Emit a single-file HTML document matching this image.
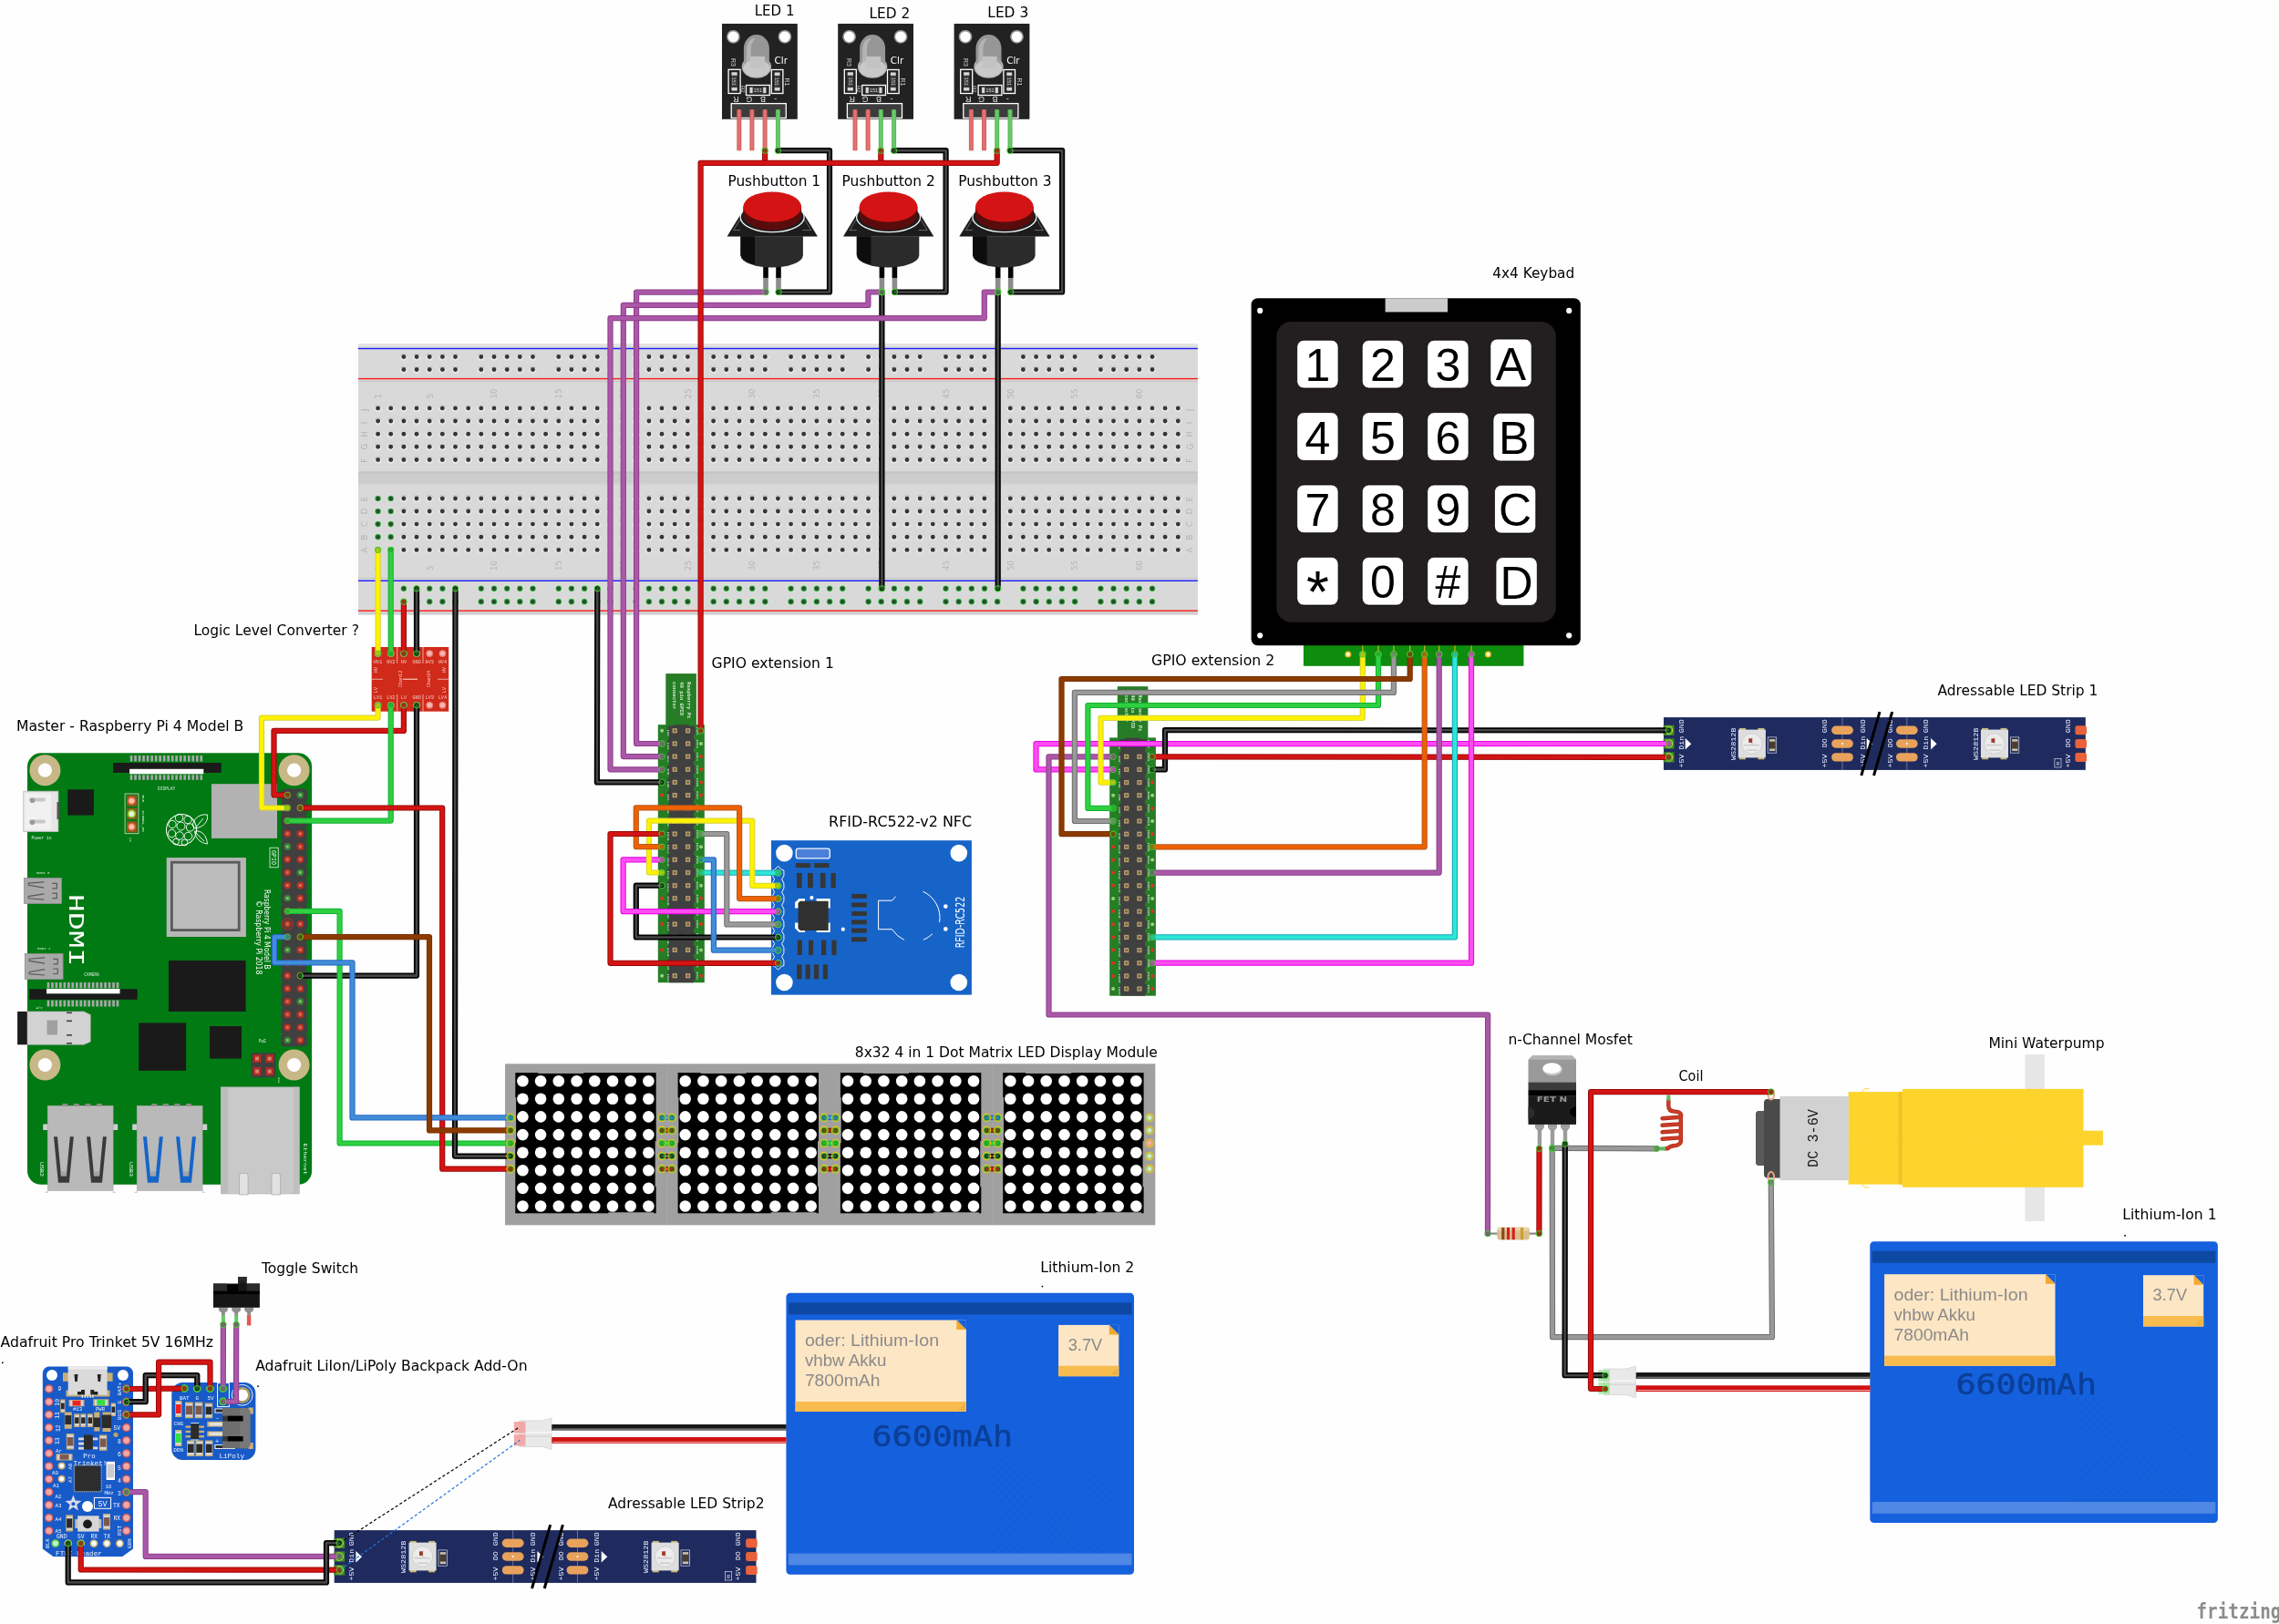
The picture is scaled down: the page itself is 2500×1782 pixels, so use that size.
<!DOCTYPE html>
<html><head><meta charset="utf-8"><title>Fritzing breadboard</title>
<style>
html,body{margin:0;padding:0;background:#fdfefd;}
svg{display:block}
text{font-family:"Liberation Sans","DejaVu Sans",sans-serif;}
.lb{font-family:"DejaVu Sans","Liberation Sans",sans-serif;}
.m{font-family:"Liberation Mono","DejaVu Sans Mono",monospace;}
.dm{font-family:"DejaVu Sans Mono","Liberation Mono",monospace;}
.w{fill:none;stroke-linejoin:round;stroke-linecap:round;}
</style></head><body>
<svg width="2500" height="1782" viewBox="0 0 2500 1782">
<defs>
<filter id="nf" x="0" y="0" width="2500" height="1782" filterUnits="userSpaceOnUse"><feOffset dx="0" dy="0"/></filter>
<g id="h"><circle r="4.3" fill="#e6e6e6"/><path d="M-4.1,-0.6A4.2,4.2 0 0 1 4.1,-0.6A4.6,5 0 0 0 -4.1,-0.6Z" fill="#bdbdbd"/><circle r="2.45" fill="#363636"/></g>
<g id="hg"><circle r="4.3" fill="#e6e6e6"/><circle r="3.6" fill="#8fdc8f"/><circle r="3.1" fill="#35a545"/><circle r="2.3" fill="#2c4a30"/></g>
<pattern id="dots" width="9.2" height="9.2" patternUnits="userSpaceOnUse"><rect x="0" y="0" width="0.9" height="0.9" fill="#0d48a2"/><rect x="4.6" y="4.6" width="0.9" height="0.9" fill="#0d48a2"/></pattern>
<clipPath id="bclip"><path d="M0,0 H20 L135,118 H0 Z M68,0 H82 L135,50 V75 Z"/></clipPath>
</defs>
<g filter="url(#nf)">
<rect width="2500" height="1782" fill="#fdfefd"/>
<rect x="393" y="377" width="920.9" height="297.5" fill="#d9d9d9"/>
<rect x="393" y="377" width="920.9" height="3" fill="#e3e3e3"/>
<rect x="393" y="671.5" width="920.9" height="3" fill="#cfcfcf"/>
<rect x="393" y="517.5" width="920.9" height="14.2" fill="#cccccc"/>
<rect x="393" y="517.5" width="920.9" height="2" fill="#c4c4c4"/>
<rect x="393" y="529.7" width="920.9" height="2" fill="#d2d2d2"/>
<rect x="393" y="381.8" width="920.9" height="1.4" fill="#1a1aff"/>
<rect x="393" y="414.9" width="920.9" height="1.4" fill="#ff1a1a"/>
<rect x="393" y="636.6" width="920.9" height="1.4" fill="#1a1aff"/>
<rect x="393" y="669.5" width="920.9" height="1.4" fill="#ff1a1a"/>
<rect x="393" y="418.2" width="920.9" height="0.9" fill="#c2c2c2"/>
<rect x="393" y="633.9" width="920.9" height="0.9" fill="#c2c2c2"/>
<g><use href="#h" x="414.6" y="447.9"/><use href="#h" x="428.7" y="447.9"/><use href="#h" x="442.9" y="447.9"/><use href="#h" x="457" y="447.9"/><use href="#h" x="471.2" y="447.9"/><use href="#h" x="485.3" y="447.9"/><use href="#h" x="499.5" y="447.9"/><use href="#h" x="513.7" y="447.9"/><use href="#h" x="527.8" y="447.9"/><use href="#h" x="542" y="447.9"/><use href="#h" x="556.1" y="447.9"/><use href="#h" x="570.3" y="447.9"/><use href="#h" x="584.4" y="447.9"/><use href="#h" x="598.6" y="447.9"/><use href="#h" x="612.8" y="447.9"/><use href="#h" x="626.9" y="447.9"/><use href="#h" x="641.1" y="447.9"/><use href="#h" x="655.2" y="447.9"/><use href="#h" x="669.4" y="447.9"/><use href="#h" x="683.5" y="447.9"/><use href="#h" x="697.7" y="447.9"/><use href="#h" x="711.9" y="447.9"/><use href="#h" x="726" y="447.9"/><use href="#h" x="740.2" y="447.9"/><use href="#h" x="754.3" y="447.9"/><use href="#h" x="768.5" y="447.9"/><use href="#h" x="782.6" y="447.9"/><use href="#h" x="796.8" y="447.9"/><use href="#h" x="811" y="447.9"/><use href="#h" x="825.1" y="447.9"/><use href="#h" x="839.3" y="447.9"/><use href="#h" x="853.4" y="447.9"/><use href="#h" x="867.6" y="447.9"/><use href="#h" x="881.7" y="447.9"/><use href="#h" x="895.9" y="447.9"/><use href="#h" x="910.1" y="447.9"/><use href="#h" x="924.2" y="447.9"/><use href="#h" x="938.4" y="447.9"/><use href="#h" x="952.5" y="447.9"/><use href="#h" x="966.7" y="447.9"/><use href="#h" x="980.8" y="447.9"/><use href="#h" x="995" y="447.9"/><use href="#h" x="1009.2" y="447.9"/><use href="#h" x="1023.3" y="447.9"/><use href="#h" x="1037.5" y="447.9"/><use href="#h" x="1051.6" y="447.9"/><use href="#h" x="1065.8" y="447.9"/><use href="#h" x="1079.9" y="447.9"/><use href="#h" x="1094.1" y="447.9"/><use href="#h" x="1108.3" y="447.9"/><use href="#h" x="1122.4" y="447.9"/><use href="#h" x="1136.6" y="447.9"/><use href="#h" x="1150.7" y="447.9"/><use href="#h" x="1164.9" y="447.9"/><use href="#h" x="1179" y="447.9"/><use href="#h" x="1193.2" y="447.9"/><use href="#h" x="1207.4" y="447.9"/><use href="#h" x="1221.5" y="447.9"/><use href="#h" x="1235.7" y="447.9"/><use href="#h" x="1249.8" y="447.9"/><use href="#h" x="1264" y="447.9"/><use href="#h" x="1278.1" y="447.9"/><use href="#h" x="1292.3" y="447.9"/><use href="#h" x="414.6" y="462"/><use href="#h" x="428.7" y="462"/><use href="#h" x="442.9" y="462"/><use href="#h" x="457" y="462"/><use href="#h" x="471.2" y="462"/><use href="#h" x="485.3" y="462"/><use href="#h" x="499.5" y="462"/><use href="#h" x="513.7" y="462"/><use href="#h" x="527.8" y="462"/><use href="#h" x="542" y="462"/><use href="#h" x="556.1" y="462"/><use href="#h" x="570.3" y="462"/><use href="#h" x="584.4" y="462"/><use href="#h" x="598.6" y="462"/><use href="#h" x="612.8" y="462"/><use href="#h" x="626.9" y="462"/><use href="#h" x="641.1" y="462"/><use href="#h" x="655.2" y="462"/><use href="#h" x="669.4" y="462"/><use href="#h" x="683.5" y="462"/><use href="#h" x="697.7" y="462"/><use href="#h" x="711.9" y="462"/><use href="#h" x="726" y="462"/><use href="#h" x="740.2" y="462"/><use href="#h" x="754.3" y="462"/><use href="#h" x="768.5" y="462"/><use href="#h" x="782.6" y="462"/><use href="#h" x="796.8" y="462"/><use href="#h" x="811" y="462"/><use href="#h" x="825.1" y="462"/><use href="#h" x="839.3" y="462"/><use href="#h" x="853.4" y="462"/><use href="#h" x="867.6" y="462"/><use href="#h" x="881.7" y="462"/><use href="#h" x="895.9" y="462"/><use href="#h" x="910.1" y="462"/><use href="#h" x="924.2" y="462"/><use href="#h" x="938.4" y="462"/><use href="#h" x="952.5" y="462"/><use href="#h" x="966.7" y="462"/><use href="#h" x="980.8" y="462"/><use href="#h" x="995" y="462"/><use href="#h" x="1009.2" y="462"/><use href="#h" x="1023.3" y="462"/><use href="#h" x="1037.5" y="462"/><use href="#h" x="1051.6" y="462"/><use href="#h" x="1065.8" y="462"/><use href="#h" x="1079.9" y="462"/><use href="#h" x="1094.1" y="462"/><use href="#h" x="1108.3" y="462"/><use href="#h" x="1122.4" y="462"/><use href="#h" x="1136.6" y="462"/><use href="#h" x="1150.7" y="462"/><use href="#h" x="1164.9" y="462"/><use href="#h" x="1179" y="462"/><use href="#h" x="1193.2" y="462"/><use href="#h" x="1207.4" y="462"/><use href="#h" x="1221.5" y="462"/><use href="#h" x="1235.7" y="462"/><use href="#h" x="1249.8" y="462"/><use href="#h" x="1264" y="462"/><use href="#h" x="1278.1" y="462"/><use href="#h" x="1292.3" y="462"/><use href="#h" x="414.6" y="476.2"/><use href="#h" x="428.7" y="476.2"/><use href="#h" x="442.9" y="476.2"/><use href="#h" x="457" y="476.2"/><use href="#h" x="471.2" y="476.2"/><use href="#h" x="485.3" y="476.2"/><use href="#h" x="499.5" y="476.2"/><use href="#h" x="513.7" y="476.2"/><use href="#h" x="527.8" y="476.2"/><use href="#h" x="542" y="476.2"/><use href="#h" x="556.1" y="476.2"/><use href="#h" x="570.3" y="476.2"/><use href="#h" x="584.4" y="476.2"/><use href="#h" x="598.6" y="476.2"/><use href="#h" x="612.8" y="476.2"/><use href="#h" x="626.9" y="476.2"/><use href="#h" x="641.1" y="476.2"/><use href="#h" x="655.2" y="476.2"/><use href="#h" x="669.4" y="476.2"/><use href="#h" x="683.5" y="476.2"/><use href="#h" x="697.7" y="476.2"/><use href="#h" x="711.9" y="476.2"/><use href="#h" x="726" y="476.2"/><use href="#h" x="740.2" y="476.2"/><use href="#h" x="754.3" y="476.2"/><use href="#h" x="768.5" y="476.2"/><use href="#h" x="782.6" y="476.2"/><use href="#h" x="796.8" y="476.2"/><use href="#h" x="811" y="476.2"/><use href="#h" x="825.1" y="476.2"/><use href="#h" x="839.3" y="476.2"/><use href="#h" x="853.4" y="476.2"/><use href="#h" x="867.6" y="476.2"/><use href="#h" x="881.7" y="476.2"/><use href="#h" x="895.9" y="476.2"/><use href="#h" x="910.1" y="476.2"/><use href="#h" x="924.2" y="476.2"/><use href="#h" x="938.4" y="476.2"/><use href="#h" x="952.5" y="476.2"/><use href="#h" x="966.7" y="476.2"/><use href="#h" x="980.8" y="476.2"/><use href="#h" x="995" y="476.2"/><use href="#h" x="1009.2" y="476.2"/><use href="#h" x="1023.3" y="476.2"/><use href="#h" x="1037.5" y="476.2"/><use href="#h" x="1051.6" y="476.2"/><use href="#h" x="1065.8" y="476.2"/><use href="#h" x="1079.9" y="476.2"/><use href="#h" x="1094.1" y="476.2"/><use href="#h" x="1108.3" y="476.2"/><use href="#h" x="1122.4" y="476.2"/><use href="#h" x="1136.6" y="476.2"/><use href="#h" x="1150.7" y="476.2"/><use href="#h" x="1164.9" y="476.2"/><use href="#h" x="1179" y="476.2"/><use href="#h" x="1193.2" y="476.2"/><use href="#h" x="1207.4" y="476.2"/><use href="#h" x="1221.5" y="476.2"/><use href="#h" x="1235.7" y="476.2"/><use href="#h" x="1249.8" y="476.2"/><use href="#h" x="1264" y="476.2"/><use href="#h" x="1278.1" y="476.2"/><use href="#h" x="1292.3" y="476.2"/><use href="#h" x="414.6" y="490.3"/><use href="#h" x="428.7" y="490.3"/><use href="#h" x="442.9" y="490.3"/><use href="#h" x="457" y="490.3"/><use href="#h" x="471.2" y="490.3"/><use href="#h" x="485.3" y="490.3"/><use href="#h" x="499.5" y="490.3"/><use href="#h" x="513.7" y="490.3"/><use href="#h" x="527.8" y="490.3"/><use href="#h" x="542" y="490.3"/><use href="#h" x="556.1" y="490.3"/><use href="#h" x="570.3" y="490.3"/><use href="#h" x="584.4" y="490.3"/><use href="#h" x="598.6" y="490.3"/><use href="#h" x="612.8" y="490.3"/><use href="#h" x="626.9" y="490.3"/><use href="#h" x="641.1" y="490.3"/><use href="#h" x="655.2" y="490.3"/><use href="#h" x="669.4" y="490.3"/><use href="#h" x="683.5" y="490.3"/><use href="#h" x="697.7" y="490.3"/><use href="#h" x="711.9" y="490.3"/><use href="#h" x="726" y="490.3"/><use href="#h" x="740.2" y="490.3"/><use href="#h" x="754.3" y="490.3"/><use href="#h" x="768.5" y="490.3"/><use href="#h" x="782.6" y="490.3"/><use href="#h" x="796.8" y="490.3"/><use href="#h" x="811" y="490.3"/><use href="#h" x="825.1" y="490.3"/><use href="#h" x="839.3" y="490.3"/><use href="#h" x="853.4" y="490.3"/><use href="#h" x="867.6" y="490.3"/><use href="#h" x="881.7" y="490.3"/><use href="#h" x="895.9" y="490.3"/><use href="#h" x="910.1" y="490.3"/><use href="#h" x="924.2" y="490.3"/><use href="#h" x="938.4" y="490.3"/><use href="#h" x="952.5" y="490.3"/><use href="#h" x="966.7" y="490.3"/><use href="#h" x="980.8" y="490.3"/><use href="#h" x="995" y="490.3"/><use href="#h" x="1009.2" y="490.3"/><use href="#h" x="1023.3" y="490.3"/><use href="#h" x="1037.5" y="490.3"/><use href="#h" x="1051.6" y="490.3"/><use href="#h" x="1065.8" y="490.3"/><use href="#h" x="1079.9" y="490.3"/><use href="#h" x="1094.1" y="490.3"/><use href="#h" x="1108.3" y="490.3"/><use href="#h" x="1122.4" y="490.3"/><use href="#h" x="1136.6" y="490.3"/><use href="#h" x="1150.7" y="490.3"/><use href="#h" x="1164.9" y="490.3"/><use href="#h" x="1179" y="490.3"/><use href="#h" x="1193.2" y="490.3"/><use href="#h" x="1207.4" y="490.3"/><use href="#h" x="1221.5" y="490.3"/><use href="#h" x="1235.7" y="490.3"/><use href="#h" x="1249.8" y="490.3"/><use href="#h" x="1264" y="490.3"/><use href="#h" x="1278.1" y="490.3"/><use href="#h" x="1292.3" y="490.3"/><use href="#h" x="414.6" y="504.5"/><use href="#h" x="428.7" y="504.5"/><use href="#h" x="442.9" y="504.5"/><use href="#h" x="457" y="504.5"/><use href="#h" x="471.2" y="504.5"/><use href="#h" x="485.3" y="504.5"/><use href="#h" x="499.5" y="504.5"/><use href="#h" x="513.7" y="504.5"/><use href="#h" x="527.8" y="504.5"/><use href="#h" x="542" y="504.5"/><use href="#h" x="556.1" y="504.5"/><use href="#h" x="570.3" y="504.5"/><use href="#h" x="584.4" y="504.5"/><use href="#h" x="598.6" y="504.5"/><use href="#h" x="612.8" y="504.5"/><use href="#h" x="626.9" y="504.5"/><use href="#h" x="641.1" y="504.5"/><use href="#h" x="655.2" y="504.5"/><use href="#h" x="669.4" y="504.5"/><use href="#h" x="683.5" y="504.5"/><use href="#h" x="697.7" y="504.5"/><use href="#h" x="711.9" y="504.5"/><use href="#h" x="726" y="504.5"/><use href="#h" x="740.2" y="504.5"/><use href="#h" x="754.3" y="504.5"/><use href="#h" x="768.5" y="504.5"/><use href="#h" x="782.6" y="504.5"/><use href="#h" x="796.8" y="504.5"/><use href="#h" x="811" y="504.5"/><use href="#h" x="825.1" y="504.5"/><use href="#h" x="839.3" y="504.5"/><use href="#h" x="853.4" y="504.5"/><use href="#h" x="867.6" y="504.5"/><use href="#h" x="881.7" y="504.5"/><use href="#h" x="895.9" y="504.5"/><use href="#h" x="910.1" y="504.5"/><use href="#h" x="924.2" y="504.5"/><use href="#h" x="938.4" y="504.5"/><use href="#h" x="952.5" y="504.5"/><use href="#h" x="966.7" y="504.5"/><use href="#h" x="980.8" y="504.5"/><use href="#h" x="995" y="504.5"/><use href="#h" x="1009.2" y="504.5"/><use href="#h" x="1023.3" y="504.5"/><use href="#h" x="1037.5" y="504.5"/><use href="#h" x="1051.6" y="504.5"/><use href="#h" x="1065.8" y="504.5"/><use href="#h" x="1079.9" y="504.5"/><use href="#h" x="1094.1" y="504.5"/><use href="#h" x="1108.3" y="504.5"/><use href="#h" x="1122.4" y="504.5"/><use href="#h" x="1136.6" y="504.5"/><use href="#h" x="1150.7" y="504.5"/><use href="#h" x="1164.9" y="504.5"/><use href="#h" x="1179" y="504.5"/><use href="#h" x="1193.2" y="504.5"/><use href="#h" x="1207.4" y="504.5"/><use href="#h" x="1221.5" y="504.5"/><use href="#h" x="1235.7" y="504.5"/><use href="#h" x="1249.8" y="504.5"/><use href="#h" x="1264" y="504.5"/><use href="#h" x="1278.1" y="504.5"/><use href="#h" x="1292.3" y="504.5"/><use href="#hg" x="414.6" y="547"/><use href="#hg" x="428.7" y="547"/><use href="#h" x="442.9" y="547"/><use href="#h" x="457" y="547"/><use href="#h" x="471.2" y="547"/><use href="#h" x="485.3" y="547"/><use href="#h" x="499.5" y="547"/><use href="#h" x="513.7" y="547"/><use href="#h" x="527.8" y="547"/><use href="#h" x="542" y="547"/><use href="#h" x="556.1" y="547"/><use href="#h" x="570.3" y="547"/><use href="#h" x="584.4" y="547"/><use href="#h" x="598.6" y="547"/><use href="#h" x="612.8" y="547"/><use href="#h" x="626.9" y="547"/><use href="#h" x="641.1" y="547"/><use href="#h" x="655.2" y="547"/><use href="#h" x="669.4" y="547"/><use href="#h" x="683.5" y="547"/><use href="#h" x="697.7" y="547"/><use href="#h" x="711.9" y="547"/><use href="#h" x="726" y="547"/><use href="#h" x="740.2" y="547"/><use href="#h" x="754.3" y="547"/><use href="#h" x="768.5" y="547"/><use href="#h" x="782.6" y="547"/><use href="#h" x="796.8" y="547"/><use href="#h" x="811" y="547"/><use href="#h" x="825.1" y="547"/><use href="#h" x="839.3" y="547"/><use href="#h" x="853.4" y="547"/><use href="#h" x="867.6" y="547"/><use href="#h" x="881.7" y="547"/><use href="#h" x="895.9" y="547"/><use href="#h" x="910.1" y="547"/><use href="#h" x="924.2" y="547"/><use href="#h" x="938.4" y="547"/><use href="#h" x="952.5" y="547"/><use href="#h" x="966.7" y="547"/><use href="#h" x="980.8" y="547"/><use href="#h" x="995" y="547"/><use href="#h" x="1009.2" y="547"/><use href="#h" x="1023.3" y="547"/><use href="#h" x="1037.5" y="547"/><use href="#h" x="1051.6" y="547"/><use href="#h" x="1065.8" y="547"/><use href="#h" x="1079.9" y="547"/><use href="#h" x="1094.1" y="547"/><use href="#h" x="1108.3" y="547"/><use href="#h" x="1122.4" y="547"/><use href="#h" x="1136.6" y="547"/><use href="#h" x="1150.7" y="547"/><use href="#h" x="1164.9" y="547"/><use href="#h" x="1179" y="547"/><use href="#h" x="1193.2" y="547"/><use href="#h" x="1207.4" y="547"/><use href="#h" x="1221.5" y="547"/><use href="#h" x="1235.7" y="547"/><use href="#h" x="1249.8" y="547"/><use href="#h" x="1264" y="547"/><use href="#h" x="1278.1" y="547"/><use href="#h" x="1292.3" y="547"/><use href="#hg" x="414.6" y="561"/><use href="#hg" x="428.7" y="561"/><use href="#h" x="442.9" y="561"/><use href="#h" x="457" y="561"/><use href="#h" x="471.2" y="561"/><use href="#h" x="485.3" y="561"/><use href="#h" x="499.5" y="561"/><use href="#h" x="513.7" y="561"/><use href="#h" x="527.8" y="561"/><use href="#h" x="542" y="561"/><use href="#h" x="556.1" y="561"/><use href="#h" x="570.3" y="561"/><use href="#h" x="584.4" y="561"/><use href="#h" x="598.6" y="561"/><use href="#h" x="612.8" y="561"/><use href="#h" x="626.9" y="561"/><use href="#h" x="641.1" y="561"/><use href="#h" x="655.2" y="561"/><use href="#h" x="669.4" y="561"/><use href="#h" x="683.5" y="561"/><use href="#h" x="697.7" y="561"/><use href="#h" x="711.9" y="561"/><use href="#h" x="726" y="561"/><use href="#h" x="740.2" y="561"/><use href="#h" x="754.3" y="561"/><use href="#h" x="768.5" y="561"/><use href="#h" x="782.6" y="561"/><use href="#h" x="796.8" y="561"/><use href="#h" x="811" y="561"/><use href="#h" x="825.1" y="561"/><use href="#h" x="839.3" y="561"/><use href="#h" x="853.4" y="561"/><use href="#h" x="867.6" y="561"/><use href="#h" x="881.7" y="561"/><use href="#h" x="895.9" y="561"/><use href="#h" x="910.1" y="561"/><use href="#h" x="924.2" y="561"/><use href="#h" x="938.4" y="561"/><use href="#h" x="952.5" y="561"/><use href="#h" x="966.7" y="561"/><use href="#h" x="980.8" y="561"/><use href="#h" x="995" y="561"/><use href="#h" x="1009.2" y="561"/><use href="#h" x="1023.3" y="561"/><use href="#h" x="1037.5" y="561"/><use href="#h" x="1051.6" y="561"/><use href="#h" x="1065.8" y="561"/><use href="#h" x="1079.9" y="561"/><use href="#h" x="1094.1" y="561"/><use href="#h" x="1108.3" y="561"/><use href="#h" x="1122.4" y="561"/><use href="#h" x="1136.6" y="561"/><use href="#h" x="1150.7" y="561"/><use href="#h" x="1164.9" y="561"/><use href="#h" x="1179" y="561"/><use href="#h" x="1193.2" y="561"/><use href="#h" x="1207.4" y="561"/><use href="#h" x="1221.5" y="561"/><use href="#h" x="1235.7" y="561"/><use href="#h" x="1249.8" y="561"/><use href="#h" x="1264" y="561"/><use href="#h" x="1278.1" y="561"/><use href="#h" x="1292.3" y="561"/><use href="#hg" x="414.6" y="575.1"/><use href="#hg" x="428.7" y="575.1"/><use href="#h" x="442.9" y="575.1"/><use href="#h" x="457" y="575.1"/><use href="#h" x="471.2" y="575.1"/><use href="#h" x="485.3" y="575.1"/><use href="#h" x="499.5" y="575.1"/><use href="#h" x="513.7" y="575.1"/><use href="#h" x="527.8" y="575.1"/><use href="#h" x="542" y="575.1"/><use href="#h" x="556.1" y="575.1"/><use href="#h" x="570.3" y="575.1"/><use href="#h" x="584.4" y="575.1"/><use href="#h" x="598.6" y="575.1"/><use href="#h" x="612.8" y="575.1"/><use href="#h" x="626.9" y="575.1"/><use href="#h" x="641.1" y="575.1"/><use href="#h" x="655.2" y="575.1"/><use href="#h" x="669.4" y="575.1"/><use href="#h" x="683.5" y="575.1"/><use href="#h" x="697.7" y="575.1"/><use href="#h" x="711.9" y="575.1"/><use href="#h" x="726" y="575.1"/><use href="#h" x="740.2" y="575.1"/><use href="#h" x="754.3" y="575.1"/><use href="#h" x="768.5" y="575.1"/><use href="#h" x="782.6" y="575.1"/><use href="#h" x="796.8" y="575.1"/><use href="#h" x="811" y="575.1"/><use href="#h" x="825.1" y="575.1"/><use href="#h" x="839.3" y="575.1"/><use href="#h" x="853.4" y="575.1"/><use href="#h" x="867.6" y="575.1"/><use href="#h" x="881.7" y="575.1"/><use href="#h" x="895.9" y="575.1"/><use href="#h" x="910.1" y="575.1"/><use href="#h" x="924.2" y="575.1"/><use href="#h" x="938.4" y="575.1"/><use href="#h" x="952.5" y="575.1"/><use href="#h" x="966.7" y="575.1"/><use href="#h" x="980.8" y="575.1"/><use href="#h" x="995" y="575.1"/><use href="#h" x="1009.2" y="575.1"/><use href="#h" x="1023.3" y="575.1"/><use href="#h" x="1037.5" y="575.1"/><use href="#h" x="1051.6" y="575.1"/><use href="#h" x="1065.8" y="575.1"/><use href="#h" x="1079.9" y="575.1"/><use href="#h" x="1094.1" y="575.1"/><use href="#h" x="1108.3" y="575.1"/><use href="#h" x="1122.4" y="575.1"/><use href="#h" x="1136.6" y="575.1"/><use href="#h" x="1150.7" y="575.1"/><use href="#h" x="1164.9" y="575.1"/><use href="#h" x="1179" y="575.1"/><use href="#h" x="1193.2" y="575.1"/><use href="#h" x="1207.4" y="575.1"/><use href="#h" x="1221.5" y="575.1"/><use href="#h" x="1235.7" y="575.1"/><use href="#h" x="1249.8" y="575.1"/><use href="#h" x="1264" y="575.1"/><use href="#h" x="1278.1" y="575.1"/><use href="#h" x="1292.3" y="575.1"/><use href="#hg" x="414.6" y="589.2"/><use href="#hg" x="428.7" y="589.2"/><use href="#h" x="442.9" y="589.2"/><use href="#h" x="457" y="589.2"/><use href="#h" x="471.2" y="589.2"/><use href="#h" x="485.3" y="589.2"/><use href="#h" x="499.5" y="589.2"/><use href="#h" x="513.7" y="589.2"/><use href="#h" x="527.8" y="589.2"/><use href="#h" x="542" y="589.2"/><use href="#h" x="556.1" y="589.2"/><use href="#h" x="570.3" y="589.2"/><use href="#h" x="584.4" y="589.2"/><use href="#h" x="598.6" y="589.2"/><use href="#h" x="612.8" y="589.2"/><use href="#h" x="626.9" y="589.2"/><use href="#h" x="641.1" y="589.2"/><use href="#h" x="655.2" y="589.2"/><use href="#h" x="669.4" y="589.2"/><use href="#h" x="683.5" y="589.2"/><use href="#h" x="697.7" y="589.2"/><use href="#h" x="711.9" y="589.2"/><use href="#h" x="726" y="589.2"/><use href="#h" x="740.2" y="589.2"/><use href="#h" x="754.3" y="589.2"/><use href="#h" x="768.5" y="589.2"/><use href="#h" x="782.6" y="589.2"/><use href="#h" x="796.8" y="589.2"/><use href="#h" x="811" y="589.2"/><use href="#h" x="825.1" y="589.2"/><use href="#h" x="839.3" y="589.2"/><use href="#h" x="853.4" y="589.2"/><use href="#h" x="867.6" y="589.2"/><use href="#h" x="881.7" y="589.2"/><use href="#h" x="895.9" y="589.2"/><use href="#h" x="910.1" y="589.2"/><use href="#h" x="924.2" y="589.2"/><use href="#h" x="938.4" y="589.2"/><use href="#h" x="952.5" y="589.2"/><use href="#h" x="966.7" y="589.2"/><use href="#h" x="980.8" y="589.2"/><use href="#h" x="995" y="589.2"/><use href="#h" x="1009.2" y="589.2"/><use href="#h" x="1023.3" y="589.2"/><use href="#h" x="1037.5" y="589.2"/><use href="#h" x="1051.6" y="589.2"/><use href="#h" x="1065.8" y="589.2"/><use href="#h" x="1079.9" y="589.2"/><use href="#h" x="1094.1" y="589.2"/><use href="#h" x="1108.3" y="589.2"/><use href="#h" x="1122.4" y="589.2"/><use href="#h" x="1136.6" y="589.2"/><use href="#h" x="1150.7" y="589.2"/><use href="#h" x="1164.9" y="589.2"/><use href="#h" x="1179" y="589.2"/><use href="#h" x="1193.2" y="589.2"/><use href="#h" x="1207.4" y="589.2"/><use href="#h" x="1221.5" y="589.2"/><use href="#h" x="1235.7" y="589.2"/><use href="#h" x="1249.8" y="589.2"/><use href="#h" x="1264" y="589.2"/><use href="#h" x="1278.1" y="589.2"/><use href="#h" x="1292.3" y="589.2"/><use href="#hg" x="414.6" y="603.4"/><use href="#hg" x="428.7" y="603.4"/><use href="#h" x="442.9" y="603.4"/><use href="#h" x="457" y="603.4"/><use href="#h" x="471.2" y="603.4"/><use href="#h" x="485.3" y="603.4"/><use href="#h" x="499.5" y="603.4"/><use href="#h" x="513.7" y="603.4"/><use href="#h" x="527.8" y="603.4"/><use href="#h" x="542" y="603.4"/><use href="#h" x="556.1" y="603.4"/><use href="#h" x="570.3" y="603.4"/><use href="#h" x="584.4" y="603.4"/><use href="#h" x="598.6" y="603.4"/><use href="#h" x="612.8" y="603.4"/><use href="#h" x="626.9" y="603.4"/><use href="#h" x="641.1" y="603.4"/><use href="#h" x="655.2" y="603.4"/><use href="#h" x="669.4" y="603.4"/><use href="#h" x="683.5" y="603.4"/><use href="#h" x="697.7" y="603.4"/><use href="#h" x="711.9" y="603.4"/><use href="#h" x="726" y="603.4"/><use href="#h" x="740.2" y="603.4"/><use href="#h" x="754.3" y="603.4"/><use href="#h" x="768.5" y="603.4"/><use href="#h" x="782.6" y="603.4"/><use href="#h" x="796.8" y="603.4"/><use href="#h" x="811" y="603.4"/><use href="#h" x="825.1" y="603.4"/><use href="#h" x="839.3" y="603.4"/><use href="#h" x="853.4" y="603.4"/><use href="#h" x="867.6" y="603.4"/><use href="#h" x="881.7" y="603.4"/><use href="#h" x="895.9" y="603.4"/><use href="#h" x="910.1" y="603.4"/><use href="#h" x="924.2" y="603.4"/><use href="#h" x="938.4" y="603.4"/><use href="#h" x="952.5" y="603.4"/><use href="#h" x="966.7" y="603.4"/><use href="#h" x="980.8" y="603.4"/><use href="#h" x="995" y="603.4"/><use href="#h" x="1009.2" y="603.4"/><use href="#h" x="1023.3" y="603.4"/><use href="#h" x="1037.5" y="603.4"/><use href="#h" x="1051.6" y="603.4"/><use href="#h" x="1065.8" y="603.4"/><use href="#h" x="1079.9" y="603.4"/><use href="#h" x="1094.1" y="603.4"/><use href="#h" x="1108.3" y="603.4"/><use href="#h" x="1122.4" y="603.4"/><use href="#h" x="1136.6" y="603.4"/><use href="#h" x="1150.7" y="603.4"/><use href="#h" x="1164.9" y="603.4"/><use href="#h" x="1179" y="603.4"/><use href="#h" x="1193.2" y="603.4"/><use href="#h" x="1207.4" y="603.4"/><use href="#h" x="1221.5" y="603.4"/><use href="#h" x="1235.7" y="603.4"/><use href="#h" x="1249.8" y="603.4"/><use href="#h" x="1264" y="603.4"/><use href="#h" x="1278.1" y="603.4"/><use href="#h" x="1292.3" y="603.4"/><use href="#h" x="442.9" y="391.5"/><use href="#h" x="457.1" y="391.5"/><use href="#h" x="471.2" y="391.5"/><use href="#h" x="485.4" y="391.5"/><use href="#h" x="499.5" y="391.5"/><use href="#h" x="527.8" y="391.5"/><use href="#h" x="542" y="391.5"/><use href="#h" x="556.2" y="391.5"/><use href="#h" x="570.3" y="391.5"/><use href="#h" x="584.5" y="391.5"/><use href="#h" x="612.8" y="391.5"/><use href="#h" x="626.9" y="391.5"/><use href="#h" x="641.1" y="391.5"/><use href="#h" x="655.3" y="391.5"/><use href="#h" x="669.4" y="391.5"/><use href="#h" x="697.7" y="391.5"/><use href="#h" x="711.9" y="391.5"/><use href="#h" x="726" y="391.5"/><use href="#h" x="740.2" y="391.5"/><use href="#h" x="754.4" y="391.5"/><use href="#h" x="782.7" y="391.5"/><use href="#h" x="796.8" y="391.5"/><use href="#h" x="811" y="391.5"/><use href="#h" x="825.1" y="391.5"/><use href="#h" x="839.3" y="391.5"/><use href="#h" x="867.6" y="391.5"/><use href="#h" x="881.8" y="391.5"/><use href="#h" x="895.9" y="391.5"/><use href="#h" x="910.1" y="391.5"/><use href="#h" x="924.2" y="391.5"/><use href="#h" x="952.6" y="391.5"/><use href="#h" x="966.7" y="391.5"/><use href="#h" x="980.9" y="391.5"/><use href="#h" x="995" y="391.5"/><use href="#h" x="1009.2" y="391.5"/><use href="#h" x="1037.5" y="391.5"/><use href="#h" x="1051.7" y="391.5"/><use href="#h" x="1065.8" y="391.5"/><use href="#h" x="1080" y="391.5"/><use href="#h" x="1094.1" y="391.5"/><use href="#h" x="1122.4" y="391.5"/><use href="#h" x="1136.6" y="391.5"/><use href="#h" x="1150.8" y="391.5"/><use href="#h" x="1164.9" y="391.5"/><use href="#h" x="1179.1" y="391.5"/><use href="#h" x="1207.4" y="391.5"/><use href="#h" x="1221.5" y="391.5"/><use href="#h" x="1235.7" y="391.5"/><use href="#h" x="1249.8" y="391.5"/><use href="#h" x="1264" y="391.5"/><use href="#h" x="442.9" y="405.5"/><use href="#h" x="457.1" y="405.5"/><use href="#h" x="471.2" y="405.5"/><use href="#h" x="485.4" y="405.5"/><use href="#h" x="499.5" y="405.5"/><use href="#h" x="527.8" y="405.5"/><use href="#h" x="542" y="405.5"/><use href="#h" x="556.2" y="405.5"/><use href="#h" x="570.3" y="405.5"/><use href="#h" x="584.5" y="405.5"/><use href="#h" x="612.8" y="405.5"/><use href="#h" x="626.9" y="405.5"/><use href="#h" x="641.1" y="405.5"/><use href="#h" x="655.3" y="405.5"/><use href="#h" x="669.4" y="405.5"/><use href="#h" x="697.7" y="405.5"/><use href="#h" x="711.9" y="405.5"/><use href="#h" x="726" y="405.5"/><use href="#h" x="740.2" y="405.5"/><use href="#h" x="754.4" y="405.5"/><use href="#h" x="782.7" y="405.5"/><use href="#h" x="796.8" y="405.5"/><use href="#h" x="811" y="405.5"/><use href="#h" x="825.1" y="405.5"/><use href="#h" x="839.3" y="405.5"/><use href="#h" x="867.6" y="405.5"/><use href="#h" x="881.8" y="405.5"/><use href="#h" x="895.9" y="405.5"/><use href="#h" x="910.1" y="405.5"/><use href="#h" x="924.2" y="405.5"/><use href="#h" x="952.6" y="405.5"/><use href="#h" x="966.7" y="405.5"/><use href="#h" x="980.9" y="405.5"/><use href="#h" x="995" y="405.5"/><use href="#h" x="1009.2" y="405.5"/><use href="#h" x="1037.5" y="405.5"/><use href="#h" x="1051.7" y="405.5"/><use href="#h" x="1065.8" y="405.5"/><use href="#h" x="1080" y="405.5"/><use href="#h" x="1094.1" y="405.5"/><use href="#h" x="1122.4" y="405.5"/><use href="#h" x="1136.6" y="405.5"/><use href="#h" x="1150.8" y="405.5"/><use href="#h" x="1164.9" y="405.5"/><use href="#h" x="1179.1" y="405.5"/><use href="#h" x="1207.4" y="405.5"/><use href="#h" x="1221.5" y="405.5"/><use href="#h" x="1235.7" y="405.5"/><use href="#h" x="1249.8" y="405.5"/><use href="#h" x="1264" y="405.5"/><use href="#hg" x="442.9" y="645.8"/><use href="#hg" x="457.1" y="645.8"/><use href="#hg" x="471.2" y="645.8"/><use href="#hg" x="485.4" y="645.8"/><use href="#hg" x="499.5" y="645.8"/><use href="#hg" x="527.8" y="645.8"/><use href="#hg" x="542" y="645.8"/><use href="#hg" x="556.2" y="645.8"/><use href="#hg" x="570.3" y="645.8"/><use href="#hg" x="584.5" y="645.8"/><use href="#hg" x="612.8" y="645.8"/><use href="#hg" x="626.9" y="645.8"/><use href="#hg" x="641.1" y="645.8"/><use href="#hg" x="655.3" y="645.8"/><use href="#hg" x="669.4" y="645.8"/><use href="#hg" x="697.7" y="645.8"/><use href="#hg" x="711.9" y="645.8"/><use href="#hg" x="726" y="645.8"/><use href="#hg" x="740.2" y="645.8"/><use href="#hg" x="754.4" y="645.8"/><use href="#hg" x="782.7" y="645.8"/><use href="#hg" x="796.8" y="645.8"/><use href="#hg" x="811" y="645.8"/><use href="#hg" x="825.1" y="645.8"/><use href="#hg" x="839.3" y="645.8"/><use href="#hg" x="867.6" y="645.8"/><use href="#hg" x="881.8" y="645.8"/><use href="#hg" x="895.9" y="645.8"/><use href="#hg" x="910.1" y="645.8"/><use href="#hg" x="924.2" y="645.8"/><use href="#hg" x="952.6" y="645.8"/><use href="#hg" x="966.7" y="645.8"/><use href="#hg" x="980.9" y="645.8"/><use href="#hg" x="995" y="645.8"/><use href="#hg" x="1009.2" y="645.8"/><use href="#hg" x="1037.5" y="645.8"/><use href="#hg" x="1051.7" y="645.8"/><use href="#hg" x="1065.8" y="645.8"/><use href="#hg" x="1080" y="645.8"/><use href="#hg" x="1094.1" y="645.8"/><use href="#hg" x="1122.4" y="645.8"/><use href="#hg" x="1136.6" y="645.8"/><use href="#hg" x="1150.8" y="645.8"/><use href="#hg" x="1164.9" y="645.8"/><use href="#hg" x="1179.1" y="645.8"/><use href="#hg" x="1207.4" y="645.8"/><use href="#hg" x="1221.5" y="645.8"/><use href="#hg" x="1235.7" y="645.8"/><use href="#hg" x="1249.8" y="645.8"/><use href="#hg" x="1264" y="645.8"/><use href="#hg" x="442.9" y="660.2"/><use href="#hg" x="457.1" y="660.2"/><use href="#hg" x="471.2" y="660.2"/><use href="#hg" x="485.4" y="660.2"/><use href="#hg" x="499.5" y="660.2"/><use href="#hg" x="527.8" y="660.2"/><use href="#hg" x="542" y="660.2"/><use href="#hg" x="556.2" y="660.2"/><use href="#hg" x="570.3" y="660.2"/><use href="#hg" x="584.5" y="660.2"/><use href="#hg" x="612.8" y="660.2"/><use href="#hg" x="626.9" y="660.2"/><use href="#hg" x="641.1" y="660.2"/><use href="#hg" x="655.3" y="660.2"/><use href="#hg" x="669.4" y="660.2"/><use href="#hg" x="697.7" y="660.2"/><use href="#hg" x="711.9" y="660.2"/><use href="#hg" x="726" y="660.2"/><use href="#hg" x="740.2" y="660.2"/><use href="#hg" x="754.4" y="660.2"/><use href="#hg" x="782.7" y="660.2"/><use href="#hg" x="796.8" y="660.2"/><use href="#hg" x="811" y="660.2"/><use href="#hg" x="825.1" y="660.2"/><use href="#hg" x="839.3" y="660.2"/><use href="#hg" x="867.6" y="660.2"/><use href="#hg" x="881.8" y="660.2"/><use href="#hg" x="895.9" y="660.2"/><use href="#hg" x="910.1" y="660.2"/><use href="#hg" x="924.2" y="660.2"/><use href="#hg" x="952.6" y="660.2"/><use href="#hg" x="966.7" y="660.2"/><use href="#hg" x="980.9" y="660.2"/><use href="#hg" x="995" y="660.2"/><use href="#hg" x="1009.2" y="660.2"/><use href="#hg" x="1037.5" y="660.2"/><use href="#hg" x="1051.7" y="660.2"/><use href="#hg" x="1065.8" y="660.2"/><use href="#hg" x="1080" y="660.2"/><use href="#hg" x="1094.1" y="660.2"/><use href="#hg" x="1122.4" y="660.2"/><use href="#hg" x="1136.6" y="660.2"/><use href="#hg" x="1150.8" y="660.2"/><use href="#hg" x="1164.9" y="660.2"/><use href="#hg" x="1179.1" y="660.2"/><use href="#hg" x="1207.4" y="660.2"/><use href="#hg" x="1221.5" y="660.2"/><use href="#hg" x="1235.7" y="660.2"/><use href="#hg" x="1249.8" y="660.2"/><use href="#hg" x="1264" y="660.2"/></g>
<text x="417.9" y="437.5" font-size="8.5" fill="#b4b4b4" transform="rotate(-90 417.9 437.5)" class="lb">1</text>
<text x="417.9" y="626" font-size="8.5" fill="#b4b4b4" transform="rotate(-90 417.9 626)" class="lb">1</text>
<text x="474.5" y="437.5" font-size="8.5" fill="#b4b4b4" transform="rotate(-90 474.5 437.5)" class="lb">5</text>
<text x="474.5" y="626" font-size="8.5" fill="#b4b4b4" transform="rotate(-90 474.5 626)" class="lb">5</text>
<text x="545.3" y="437.5" font-size="8.5" fill="#b4b4b4" transform="rotate(-90 545.3 437.5)" class="lb">10</text>
<text x="545.3" y="626" font-size="8.5" fill="#b4b4b4" transform="rotate(-90 545.3 626)" class="lb">10</text>
<text x="616.1" y="437.5" font-size="8.5" fill="#b4b4b4" transform="rotate(-90 616.1 437.5)" class="lb">15</text>
<text x="616.1" y="626" font-size="8.5" fill="#b4b4b4" transform="rotate(-90 616.1 626)" class="lb">15</text>
<text x="686.8" y="437.5" font-size="8.5" fill="#b4b4b4" transform="rotate(-90 686.8 437.5)" class="lb">20</text>
<text x="686.8" y="626" font-size="8.5" fill="#b4b4b4" transform="rotate(-90 686.8 626)" class="lb">20</text>
<text x="757.6" y="437.5" font-size="8.5" fill="#b4b4b4" transform="rotate(-90 757.6 437.5)" class="lb">25</text>
<text x="757.6" y="626" font-size="8.5" fill="#b4b4b4" transform="rotate(-90 757.6 626)" class="lb">25</text>
<text x="828.4" y="437.5" font-size="8.5" fill="#b4b4b4" transform="rotate(-90 828.4 437.5)" class="lb">30</text>
<text x="828.4" y="626" font-size="8.5" fill="#b4b4b4" transform="rotate(-90 828.4 626)" class="lb">30</text>
<text x="899.2" y="437.5" font-size="8.5" fill="#b4b4b4" transform="rotate(-90 899.2 437.5)" class="lb">35</text>
<text x="899.2" y="626" font-size="8.5" fill="#b4b4b4" transform="rotate(-90 899.2 626)" class="lb">35</text>
<text x="970" y="437.5" font-size="8.5" fill="#b4b4b4" transform="rotate(-90 970 437.5)" class="lb">40</text>
<text x="970" y="626" font-size="8.5" fill="#b4b4b4" transform="rotate(-90 970 626)" class="lb">40</text>
<text x="1040.8" y="437.5" font-size="8.5" fill="#b4b4b4" transform="rotate(-90 1040.8 437.5)" class="lb">45</text>
<text x="1040.8" y="626" font-size="8.5" fill="#b4b4b4" transform="rotate(-90 1040.8 626)" class="lb">45</text>
<text x="1111.6" y="437.5" font-size="8.5" fill="#b4b4b4" transform="rotate(-90 1111.6 437.5)" class="lb">50</text>
<text x="1111.6" y="626" font-size="8.5" fill="#b4b4b4" transform="rotate(-90 1111.6 626)" class="lb">50</text>
<text x="1182.3" y="437.5" font-size="8.5" fill="#b4b4b4" transform="rotate(-90 1182.3 437.5)" class="lb">55</text>
<text x="1182.3" y="626" font-size="8.5" fill="#b4b4b4" transform="rotate(-90 1182.3 626)" class="lb">55</text>
<text x="1253.1" y="437.5" font-size="8.5" fill="#b4b4b4" transform="rotate(-90 1253.1 437.5)" class="lb">60</text>
<text x="1253.1" y="626" font-size="8.5" fill="#b4b4b4" transform="rotate(-90 1253.1 626)" class="lb">60</text>
<text x="403.2" y="451.1" font-size="8.5" fill="#b4b4b4" transform="rotate(-90 403.2 451.1)" class="lb">J</text>
<text x="1308.5" y="451.1" font-size="8.5" fill="#b4b4b4" transform="rotate(-90 1308.5 451.1)" class="lb">J</text>
<text x="403.2" y="465.2" font-size="8.5" fill="#b4b4b4" transform="rotate(-90 403.2 465.2)" class="lb">I</text>
<text x="1308.5" y="465.2" font-size="8.5" fill="#b4b4b4" transform="rotate(-90 1308.5 465.2)" class="lb">I</text>
<text x="403.2" y="479.4" font-size="8.5" fill="#b4b4b4" transform="rotate(-90 403.2 479.4)" class="lb">H</text>
<text x="1308.5" y="479.4" font-size="8.5" fill="#b4b4b4" transform="rotate(-90 1308.5 479.4)" class="lb">H</text>
<text x="403.2" y="493.5" font-size="8.5" fill="#b4b4b4" transform="rotate(-90 403.2 493.5)" class="lb">G</text>
<text x="1308.5" y="493.5" font-size="8.5" fill="#b4b4b4" transform="rotate(-90 1308.5 493.5)" class="lb">G</text>
<text x="403.2" y="507.7" font-size="8.5" fill="#b4b4b4" transform="rotate(-90 403.2 507.7)" class="lb">F</text>
<text x="1308.5" y="507.7" font-size="8.5" fill="#b4b4b4" transform="rotate(-90 1308.5 507.7)" class="lb">F</text>
<text x="403.2" y="550.2" font-size="8.5" fill="#b4b4b4" transform="rotate(-90 403.2 550.2)" class="lb">E</text>
<text x="1308.5" y="550.2" font-size="8.5" fill="#b4b4b4" transform="rotate(-90 1308.5 550.2)" class="lb">E</text>
<text x="403.2" y="564.2" font-size="8.5" fill="#b4b4b4" transform="rotate(-90 403.2 564.2)" class="lb">D</text>
<text x="1308.5" y="564.2" font-size="8.5" fill="#b4b4b4" transform="rotate(-90 1308.5 564.2)" class="lb">D</text>
<text x="403.2" y="578.3" font-size="8.5" fill="#b4b4b4" transform="rotate(-90 403.2 578.3)" class="lb">C</text>
<text x="1308.5" y="578.3" font-size="8.5" fill="#b4b4b4" transform="rotate(-90 1308.5 578.3)" class="lb">C</text>
<text x="403.2" y="592.4" font-size="8.5" fill="#b4b4b4" transform="rotate(-90 403.2 592.4)" class="lb">B</text>
<text x="1308.5" y="592.4" font-size="8.5" fill="#b4b4b4" transform="rotate(-90 1308.5 592.4)" class="lb">B</text>
<text x="403.2" y="606.6" font-size="8.5" fill="#b4b4b4" transform="rotate(-90 403.2 606.6)" class="lb">A</text>
<text x="1308.5" y="606.6" font-size="8.5" fill="#b4b4b4" transform="rotate(-90 1308.5 606.6)" class="lb">A</text>
<rect x="792" y="26" width="82.8" height="104.8" fill="#222222"/>
<circle cx="804.4" cy="40.3" r="6.6" fill="#fdfefd" stroke="#9a9a9a" stroke-width="1.5"/>
<circle cx="860.9" cy="40.3" r="6.6" fill="#fdfefd" stroke="#9a9a9a" stroke-width="1.5"/>
<rect x="799.1" y="76.3" width="13" height="26.2" fill="none" stroke="#fff" stroke-width="1.3"/>
<rect x="802.1" y="79.3" width="7" height="20.2" fill="#3a3a3a"/>
<rect x="802.5" y="79.3" width="6.2" height="3.4" fill="#d8d8d8"/>
<rect x="802.5" y="96.1" width="6.2" height="3.4" fill="#d8d8d8"/>
<text x="803.4" y="89.4" font-size="5.5" fill="#cfcfcf" text-anchor="middle" transform="rotate(90 803.4 89.4)">151</text>
<rect x="846.3" y="76.5" width="12.6" height="26" fill="none" stroke="#fff" stroke-width="1.3"/>
<rect x="849.3" y="79.5" width="6.6" height="20" fill="#3a3a3a"/>
<rect x="849.7" y="79.5" width="5.8" height="3.4" fill="#d8d8d8"/>
<rect x="849.7" y="96.1" width="5.8" height="3.4" fill="#d8d8d8"/>
<text x="850.4" y="89.5" font-size="5.5" fill="#cfcfcf" text-anchor="middle" transform="rotate(90 850.4 89.5)">151</text>
<rect x="818.5" y="93.5" width="25.8" height="11" fill="none" stroke="#fff" stroke-width="1.3"/>
<rect x="821.5" y="95.8" width="19.8" height="6.4" fill="#3a3a3a"/>
<rect x="822.5" y="95.8" width="3.1" height="6.4" fill="#d8d8d8"/>
<rect x="837.2" y="95.8" width="3.1" height="6.4" fill="#d8d8d8"/>
<text x="831.4" y="101.1" font-size="5.5" fill="#cfcfcf" text-anchor="middle">151</text>
<text x="802" y="64" font-size="7" fill="#d0d0d0" transform="rotate(90 802 64)">R3</text>
<text x="861" y="85.5" font-size="7" fill="#d0d0d0" transform="rotate(90 861 85.5)">R1</text>
<text x="812.5" y="94" font-size="6" fill="#d0d0d0" transform="rotate(90 812.5 94)">R2</text>
<ellipse cx="829.9" cy="73.5" rx="16.2" ry="12.2" fill="#bdbdbd" opacity="0.93"/>
<path d="M815.9,74 v-21 a14,15 0 0 1 28,0 v21 z" fill="#9d9d9d" opacity="0.95"/>
<path d="M818.9,72 v-19 a9,12 0 0 1 10,-11 a12,14 0 0 0 -5,11 v19 z" fill="#b4b4b4"/>
<ellipse cx="829.9" cy="75" rx="14.5" ry="9.5" fill="#c9c9c9"/>
<rect x="822.9" y="62" width="16" height="13" fill="#c3c3c3"/>
<text x="849.6" y="69.6" font-size="10.6" fill="#ffffff" textLength="14.4" lengthAdjust="spacingAndGlyphs" class="lb">Clr</text>
<text x="807.6" y="105.9" font-size="9" fill="#e4e4e4" text-anchor="middle" transform="rotate(180 807.6 105.9)">R</text>
<text x="821.8" y="105.9" font-size="9" fill="#e4e4e4" text-anchor="middle" transform="rotate(180 821.8 105.9)">G</text>
<text x="836.9" y="105.9" font-size="9" fill="#e4e4e4" text-anchor="middle" transform="rotate(180 836.9 105.9)">B</text>
<text x="850.7" y="105.9" font-size="9" fill="#e4e4e4" text-anchor="middle" transform="rotate(180 850.7 105.9)">-</text>
<rect x="802.2" y="113.6" width="60.1" height="15.9" fill="#3c3c3c" stroke="#fff" stroke-width="1.3"/>
<rect x="808.3" y="120.3" width="5" height="44.9" fill="#d86060"/>
<rect x="809.7" y="120.3" width="2.2" height="44.9" fill="#e47474"/>
<rect x="822.4" y="120.3" width="5" height="44.9" fill="#d86060"/>
<rect x="823.8" y="120.3" width="2.2" height="44.9" fill="#e47474"/>
<rect x="836.6" y="120.3" width="5" height="44.9" fill="#d86060"/>
<rect x="838" y="120.3" width="2.2" height="44.9" fill="#e47474"/>
<rect x="850.9" y="120.3" width="5" height="44.9" fill="#5cba5c"/>
<rect x="852.3" y="120.3" width="2.2" height="44.9" fill="#6ccc6c"/>
<rect x="919.2" y="26" width="82.8" height="104.8" fill="#222222"/>
<circle cx="931.6" cy="40.3" r="6.6" fill="#fdfefd" stroke="#9a9a9a" stroke-width="1.5"/>
<circle cx="988.1" cy="40.3" r="6.6" fill="#fdfefd" stroke="#9a9a9a" stroke-width="1.5"/>
<rect x="926.3" y="76.3" width="13" height="26.2" fill="none" stroke="#fff" stroke-width="1.3"/>
<rect x="929.3" y="79.3" width="7" height="20.2" fill="#3a3a3a"/>
<rect x="929.7" y="79.3" width="6.2" height="3.4" fill="#d8d8d8"/>
<rect x="929.7" y="96.1" width="6.2" height="3.4" fill="#d8d8d8"/>
<text x="930.6" y="89.4" font-size="5.5" fill="#cfcfcf" text-anchor="middle" transform="rotate(90 930.6 89.4)">151</text>
<rect x="973.5" y="76.5" width="12.6" height="26" fill="none" stroke="#fff" stroke-width="1.3"/>
<rect x="976.5" y="79.5" width="6.6" height="20" fill="#3a3a3a"/>
<rect x="976.9" y="79.5" width="5.8" height="3.4" fill="#d8d8d8"/>
<rect x="976.9" y="96.1" width="5.8" height="3.4" fill="#d8d8d8"/>
<text x="977.6" y="89.5" font-size="5.5" fill="#cfcfcf" text-anchor="middle" transform="rotate(90 977.6 89.5)">151</text>
<rect x="945.7" y="93.5" width="25.8" height="11" fill="none" stroke="#fff" stroke-width="1.3"/>
<rect x="948.7" y="95.8" width="19.8" height="6.4" fill="#3a3a3a"/>
<rect x="949.7" y="95.8" width="3.1" height="6.4" fill="#d8d8d8"/>
<rect x="964.4" y="95.8" width="3.1" height="6.4" fill="#d8d8d8"/>
<text x="958.6" y="101.1" font-size="5.5" fill="#cfcfcf" text-anchor="middle">151</text>
<text x="929.2" y="64" font-size="7" fill="#d0d0d0" transform="rotate(90 929.2 64)">R3</text>
<text x="988.2" y="85.5" font-size="7" fill="#d0d0d0" transform="rotate(90 988.2 85.5)">R1</text>
<text x="939.7" y="94" font-size="6" fill="#d0d0d0" transform="rotate(90 939.7 94)">R2</text>
<ellipse cx="957.1" cy="73.5" rx="16.2" ry="12.2" fill="#bdbdbd" opacity="0.93"/>
<path d="M943.1,74 v-21 a14,15 0 0 1 28,0 v21 z" fill="#9d9d9d" opacity="0.95"/>
<path d="M946.1,72 v-19 a9,12 0 0 1 10,-11 a12,14 0 0 0 -5,11 v19 z" fill="#b4b4b4"/>
<ellipse cx="957.1" cy="75" rx="14.5" ry="9.5" fill="#c9c9c9"/>
<rect x="950.1" y="62" width="16" height="13" fill="#c3c3c3"/>
<text x="976.8" y="69.6" font-size="10.6" fill="#ffffff" textLength="14.4" lengthAdjust="spacingAndGlyphs" class="lb">Clr</text>
<text x="934.8" y="105.9" font-size="9" fill="#e4e4e4" text-anchor="middle" transform="rotate(180 934.8 105.9)">R</text>
<text x="949" y="105.9" font-size="9" fill="#e4e4e4" text-anchor="middle" transform="rotate(180 949 105.9)">G</text>
<text x="964.1" y="105.9" font-size="9" fill="#e4e4e4" text-anchor="middle" transform="rotate(180 964.1 105.9)">B</text>
<text x="977.9" y="105.9" font-size="9" fill="#e4e4e4" text-anchor="middle" transform="rotate(180 977.9 105.9)">-</text>
<rect x="929.4" y="113.6" width="60.1" height="15.9" fill="#3c3c3c" stroke="#fff" stroke-width="1.3"/>
<rect x="935.5" y="120.3" width="5" height="44.9" fill="#d86060"/>
<rect x="936.9" y="120.3" width="2.2" height="44.9" fill="#e47474"/>
<rect x="949.6" y="120.3" width="5" height="44.9" fill="#d86060"/>
<rect x="951" y="120.3" width="2.2" height="44.9" fill="#e47474"/>
<rect x="963.8" y="120.3" width="5" height="44.9" fill="#5cba5c"/>
<rect x="965.2" y="120.3" width="2.2" height="44.9" fill="#6ccc6c"/>
<rect x="978.1" y="120.3" width="5" height="44.9" fill="#5cba5c"/>
<rect x="979.5" y="120.3" width="2.2" height="44.9" fill="#6ccc6c"/>
<rect x="1046.6" y="26" width="82.8" height="104.8" fill="#222222"/>
<circle cx="1059" cy="40.3" r="6.6" fill="#fdfefd" stroke="#9a9a9a" stroke-width="1.5"/>
<circle cx="1115.5" cy="40.3" r="6.6" fill="#fdfefd" stroke="#9a9a9a" stroke-width="1.5"/>
<rect x="1053.7" y="76.3" width="13" height="26.2" fill="none" stroke="#fff" stroke-width="1.3"/>
<rect x="1056.7" y="79.3" width="7" height="20.2" fill="#3a3a3a"/>
<rect x="1057.1" y="79.3" width="6.2" height="3.4" fill="#d8d8d8"/>
<rect x="1057.1" y="96.1" width="6.2" height="3.4" fill="#d8d8d8"/>
<text x="1058" y="89.4" font-size="5.5" fill="#cfcfcf" text-anchor="middle" transform="rotate(90 1058 89.4)">151</text>
<rect x="1100.9" y="76.5" width="12.6" height="26" fill="none" stroke="#fff" stroke-width="1.3"/>
<rect x="1103.9" y="79.5" width="6.6" height="20" fill="#3a3a3a"/>
<rect x="1104.3" y="79.5" width="5.8" height="3.4" fill="#d8d8d8"/>
<rect x="1104.3" y="96.1" width="5.8" height="3.4" fill="#d8d8d8"/>
<text x="1105" y="89.5" font-size="5.5" fill="#cfcfcf" text-anchor="middle" transform="rotate(90 1105 89.5)">151</text>
<rect x="1073.1" y="93.5" width="25.8" height="11" fill="none" stroke="#fff" stroke-width="1.3"/>
<rect x="1076.1" y="95.8" width="19.8" height="6.4" fill="#3a3a3a"/>
<rect x="1077.1" y="95.8" width="3.1" height="6.4" fill="#d8d8d8"/>
<rect x="1091.8" y="95.8" width="3.1" height="6.4" fill="#d8d8d8"/>
<text x="1086" y="101.1" font-size="5.5" fill="#cfcfcf" text-anchor="middle">151</text>
<text x="1056.6" y="64" font-size="7" fill="#d0d0d0" transform="rotate(90 1056.6 64)">R3</text>
<text x="1115.6" y="85.5" font-size="7" fill="#d0d0d0" transform="rotate(90 1115.6 85.5)">R1</text>
<text x="1067.1" y="94" font-size="6" fill="#d0d0d0" transform="rotate(90 1067.1 94)">R2</text>
<ellipse cx="1084.5" cy="73.5" rx="16.2" ry="12.2" fill="#bdbdbd" opacity="0.93"/>
<path d="M1070.5,74 v-21 a14,15 0 0 1 28,0 v21 z" fill="#9d9d9d" opacity="0.95"/>
<path d="M1073.5,72 v-19 a9,12 0 0 1 10,-11 a12,14 0 0 0 -5,11 v19 z" fill="#b4b4b4"/>
<ellipse cx="1084.5" cy="75" rx="14.5" ry="9.5" fill="#c9c9c9"/>
<rect x="1077.5" y="62" width="16" height="13" fill="#c3c3c3"/>
<text x="1104.2" y="69.6" font-size="10.6" fill="#ffffff" textLength="14.4" lengthAdjust="spacingAndGlyphs" class="lb">Clr</text>
<text x="1062.2" y="105.9" font-size="9" fill="#e4e4e4" text-anchor="middle" transform="rotate(180 1062.2 105.9)">R</text>
<text x="1076.4" y="105.9" font-size="9" fill="#e4e4e4" text-anchor="middle" transform="rotate(180 1076.4 105.9)">G</text>
<text x="1091.5" y="105.9" font-size="9" fill="#e4e4e4" text-anchor="middle" transform="rotate(180 1091.5 105.9)">B</text>
<text x="1105.3" y="105.9" font-size="9" fill="#e4e4e4" text-anchor="middle" transform="rotate(180 1105.3 105.9)">-</text>
<rect x="1056.8" y="113.6" width="60.1" height="15.9" fill="#3c3c3c" stroke="#fff" stroke-width="1.3"/>
<rect x="1062.9" y="120.3" width="5" height="44.9" fill="#d86060"/>
<rect x="1064.3" y="120.3" width="2.2" height="44.9" fill="#e47474"/>
<rect x="1077" y="120.3" width="5" height="44.9" fill="#d86060"/>
<rect x="1078.4" y="120.3" width="2.2" height="44.9" fill="#e47474"/>
<rect x="1091.2" y="120.3" width="5" height="44.9" fill="#5cba5c"/>
<rect x="1092.6" y="120.3" width="2.2" height="44.9" fill="#6ccc6c"/>
<rect x="1105.5" y="120.3" width="5" height="44.9" fill="#5cba5c"/>
<rect x="1106.9" y="120.3" width="2.2" height="44.9" fill="#6ccc6c"/>
<rect x="837.2" y="290" width="5.6" height="15" fill="#050505"/>
<rect x="837.2" y="304.9" width="5.6" height="13.5" fill="#8c8c8c"/>
<rect x="851.2" y="290" width="5.6" height="15" fill="#050505"/>
<rect x="851.2" y="304.9" width="5.6" height="13.5" fill="#8c8c8c"/>
<path d="M812.4,259.2 H880.9 V280 A34.25,13.4 0 0 1 812.4,280 Z" fill="#2b2b2b"/>
<path d="M812.4,259.2 H828 V290.3 A34.25,13.4 0 0 1 812.4,280 Z" fill="#0d0d0d"/>
<path d="M797.6,259.4 L815.2,230.8 H879.2 L896.9,259.4 Z" fill="#1c1c1c"/>
<path d="M804.6,252.6 L814.6,236.5 M879.8,236.5 L889.8,252.6 M804.6,252.6 H812.2 M880.2,252.6 H889.8" fill="none" stroke="#9a9a9a" stroke-width="0.6"/>
<ellipse cx="847.2" cy="238.2" rx="35" ry="16.5" fill="#1c1c1c" stroke="#f4f4f4" stroke-width="1.3"/>
<path d="M815.3,227 V235.8 A31.9,16.6 0 0 0 879.1,235.8 V227 Z" fill="#5a0c0c"/>
<ellipse cx="847.2" cy="227" rx="31.9" ry="16.6" fill="#d41414"/>
<rect x="964.6" y="290" width="5.6" height="15" fill="#050505"/>
<rect x="964.6" y="304.9" width="5.6" height="13.5" fill="#8c8c8c"/>
<rect x="978.6" y="290" width="5.6" height="15" fill="#050505"/>
<rect x="978.6" y="304.9" width="5.6" height="13.5" fill="#8c8c8c"/>
<path d="M939.8,259.2 H1008.3 V280 A34.25,13.4 0 0 1 939.8,280 Z" fill="#2b2b2b"/>
<path d="M939.8,259.2 H955.4 V290.3 A34.25,13.4 0 0 1 939.8,280 Z" fill="#0d0d0d"/>
<path d="M925,259.4 L942.6,230.8 H1006.6 L1024.3,259.4 Z" fill="#1c1c1c"/>
<path d="M932,252.6 L942,236.5 M1007.2,236.5 L1017.2,252.6 M932,252.6 H939.6 M1007.6,252.6 H1017.2" fill="none" stroke="#9a9a9a" stroke-width="0.6"/>
<ellipse cx="974.6" cy="238.2" rx="35" ry="16.5" fill="#1c1c1c" stroke="#f4f4f4" stroke-width="1.3"/>
<path d="M942.7,227 V235.8 A31.9,16.6 0 0 0 1006.5,235.8 V227 Z" fill="#5a0c0c"/>
<ellipse cx="974.6" cy="227" rx="31.9" ry="16.6" fill="#d41414"/>
<rect x="1091.9" y="290" width="5.6" height="15" fill="#050505"/>
<rect x="1091.9" y="304.9" width="5.6" height="13.5" fill="#8c8c8c"/>
<rect x="1105.9" y="290" width="5.6" height="15" fill="#050505"/>
<rect x="1105.9" y="304.9" width="5.6" height="13.5" fill="#8c8c8c"/>
<path d="M1067.1,259.2 H1135.6 V280 A34.25,13.4 0 0 1 1067.1,280 Z" fill="#2b2b2b"/>
<path d="M1067.1,259.2 H1082.7 V290.3 A34.25,13.4 0 0 1 1067.1,280 Z" fill="#0d0d0d"/>
<path d="M1052.3,259.4 L1069.9,230.8 H1133.9 L1151.6,259.4 Z" fill="#1c1c1c"/>
<path d="M1059.3,252.6 L1069.3,236.5 M1134.5,236.5 L1144.5,252.6 M1059.3,252.6 H1066.9 M1134.9,252.6 H1144.5" fill="none" stroke="#9a9a9a" stroke-width="0.6"/>
<ellipse cx="1101.9" cy="238.2" rx="35" ry="16.5" fill="#1c1c1c" stroke="#f4f4f4" stroke-width="1.3"/>
<path d="M1070,227 V235.8 A31.9,16.6 0 0 0 1133.8,235.8 V227 Z" fill="#5a0c0c"/>
<ellipse cx="1101.9" cy="227" rx="31.9" ry="16.6" fill="#d41414"/>
<rect x="1429.9" y="706" width="241.5" height="24.8" fill="#0d8c0d"/>
<rect x="1372.6" y="327.3" width="361.2" height="380.9" fill="#000000" rx="7"/>
<rect x="1519.6" y="327.3" width="68.4" height="15.1" fill="#cccccc"/>
<rect x="1400.4" y="353" width="306.3" height="329.8" fill="#231f20" rx="16"/>
<circle cx="1382.2" cy="340.9" r="3.1" fill="#fdfefd"/>
<circle cx="1721.2" cy="340.9" r="3.1" fill="#fdfefd"/>
<circle cx="1382.2" cy="697.3" r="3.1" fill="#fdfefd"/>
<circle cx="1721.2" cy="697.3" r="3.1" fill="#fdfefd"/>
<rect x="1422.7" y="373.2" width="45.4" height="52.8" fill="#ffffff" rx="7.5" stroke="#000" stroke-width="0.8"/>
<text x="1445.4" y="418.2" font-size="50" fill="#000" text-anchor="middle">1</text>
<rect x="1494.2" y="373.2" width="45.4" height="52.8" fill="#ffffff" rx="7.5" stroke="#000" stroke-width="0.8"/>
<text x="1516.9" y="418.2" font-size="50" fill="#000" text-anchor="middle">2</text>
<rect x="1565.7" y="373.2" width="45.4" height="52.8" fill="#ffffff" rx="7.5" stroke="#000" stroke-width="0.8"/>
<text x="1588.4" y="418.2" font-size="50" fill="#000" text-anchor="middle">3</text>
<rect x="1634.8" y="372" width="45.4" height="52.8" fill="#ffffff" rx="7.5" stroke="#000" stroke-width="0.8"/>
<text x="1657.5" y="417" font-size="50" fill="#000" text-anchor="middle">A</text>
<rect x="1422.7" y="452.6" width="45.4" height="52.8" fill="#ffffff" rx="7.5" stroke="#000" stroke-width="0.8"/>
<text x="1445.4" y="497.6" font-size="50" fill="#000" text-anchor="middle">4</text>
<rect x="1494.2" y="452.6" width="45.4" height="52.8" fill="#ffffff" rx="7.5" stroke="#000" stroke-width="0.8"/>
<text x="1516.9" y="497.6" font-size="50" fill="#000" text-anchor="middle">5</text>
<rect x="1565.7" y="452.6" width="45.4" height="52.8" fill="#ffffff" rx="7.5" stroke="#000" stroke-width="0.8"/>
<text x="1588.4" y="497.6" font-size="50" fill="#000" text-anchor="middle">6</text>
<rect x="1637.9" y="453.2" width="45.4" height="52.8" fill="#ffffff" rx="7.5" stroke="#000" stroke-width="0.8"/>
<text x="1660.6" y="498.2" font-size="50" fill="#000" text-anchor="middle">B</text>
<rect x="1422.7" y="532" width="45.4" height="52.8" fill="#ffffff" rx="7.5" stroke="#000" stroke-width="0.8"/>
<text x="1445.4" y="577" font-size="50" fill="#000" text-anchor="middle">7</text>
<rect x="1494.2" y="532" width="45.4" height="52.8" fill="#ffffff" rx="7.5" stroke="#000" stroke-width="0.8"/>
<text x="1516.9" y="577" font-size="50" fill="#000" text-anchor="middle">8</text>
<rect x="1565.7" y="532" width="45.4" height="52.8" fill="#ffffff" rx="7.5" stroke="#000" stroke-width="0.8"/>
<text x="1588.4" y="577" font-size="50" fill="#000" text-anchor="middle">9</text>
<rect x="1639.4" y="532.3" width="45.4" height="52.8" fill="#ffffff" rx="7.5" stroke="#000" stroke-width="0.8"/>
<text x="1662.1" y="577.3" font-size="50" fill="#000" text-anchor="middle">C</text>
<rect x="1422.7" y="611.3" width="45.4" height="52.8" fill="#ffffff" rx="7.5" stroke="#000" stroke-width="0.8"/>
<text x="1445.4" y="672.3" font-size="64" fill="#000" text-anchor="middle">*</text>
<rect x="1494.2" y="611.3" width="45.4" height="52.8" fill="#ffffff" rx="7.5" stroke="#000" stroke-width="0.8"/>
<text x="1516.9" y="656.3" font-size="50" fill="#000" text-anchor="middle">0</text>
<rect x="1565.7" y="611.3" width="45.4" height="52.8" fill="#ffffff" rx="7.5" stroke="#000" stroke-width="0.8"/>
<text x="1588.4" y="656.3" font-size="50" fill="#000" text-anchor="middle">#</text>
<rect x="1640.9" y="611.6" width="45.4" height="52.8" fill="#ffffff" rx="7.5" stroke="#000" stroke-width="0.8"/>
<text x="1663.6" y="656.6" font-size="50" fill="#000" text-anchor="middle">D</text>
<circle cx="1478.8" cy="717.9" r="2.7" fill="#ffffff" stroke="#f0c020" stroke-width="1.6"/>
<circle cx="1632.4" cy="717.9" r="2.7" fill="#ffffff" stroke="#f0c020" stroke-width="1.6"/>
<line x1="1494.8" y1="708.5" x2="1494.8" y2="717.9" stroke="#d8b020" stroke-width="1.2"/>
<circle cx="1494.8" cy="717.9" r="3.2" fill="#2a8a2a" stroke="#c8c030" stroke-width="1"/>
<line x1="1512" y1="708.5" x2="1512" y2="717.9" stroke="#d8b020" stroke-width="1.2"/>
<circle cx="1512" cy="717.9" r="3.2" fill="#2a8a2a" stroke="#c8c030" stroke-width="1"/>
<line x1="1528.9" y1="708.5" x2="1528.9" y2="717.9" stroke="#d8b020" stroke-width="1.2"/>
<circle cx="1528.9" cy="717.9" r="3.2" fill="#2a8a2a" stroke="#c8c030" stroke-width="1"/>
<line x1="1546.7" y1="708.5" x2="1546.7" y2="717.9" stroke="#d8b020" stroke-width="1.2"/>
<circle cx="1546.7" cy="717.9" r="3.2" fill="#2a8a2a" stroke="#c8c030" stroke-width="1"/>
<line x1="1562.7" y1="708.5" x2="1562.7" y2="717.9" stroke="#d8b020" stroke-width="1.2"/>
<circle cx="1562.7" cy="717.9" r="3.2" fill="#2a8a2a" stroke="#c8c030" stroke-width="1"/>
<line x1="1578.7" y1="708.5" x2="1578.7" y2="717.9" stroke="#d8b020" stroke-width="1.2"/>
<circle cx="1578.7" cy="717.9" r="3.2" fill="#2a8a2a" stroke="#c8c030" stroke-width="1"/>
<line x1="1595.9" y1="708.5" x2="1595.9" y2="717.9" stroke="#d8b020" stroke-width="1.2"/>
<circle cx="1595.9" cy="717.9" r="3.2" fill="#2a8a2a" stroke="#c8c030" stroke-width="1"/>
<line x1="1614" y1="708.5" x2="1614" y2="717.9" stroke="#d8b020" stroke-width="1.2"/>
<circle cx="1614" cy="717.9" r="3.2" fill="#2a8a2a" stroke="#c8c030" stroke-width="1"/>
<rect x="407.7" y="710" width="84.5" height="70.7" fill="#cf2a1a"/>
<line x1="435.7" y1="710" x2="435.7" y2="728" stroke="#f4c8c0" stroke-width="0.8"/>
<line x1="435.7" y1="762" x2="435.7" y2="780.7" stroke="#f4c8c0" stroke-width="0.8"/>
<line x1="464" y1="710" x2="464" y2="728" stroke="#f4c8c0" stroke-width="0.8"/>
<line x1="464" y1="762" x2="464" y2="780.7" stroke="#f4c8c0" stroke-width="0.8"/>
<line x1="407.7" y1="745.3" x2="420" y2="745.3" stroke="#f4c8c0" stroke-width="0.8"/>
<line x1="480" y1="745.3" x2="492.2" y2="745.3" stroke="#f4c8c0" stroke-width="0.8"/>
<line x1="442" y1="745.3" x2="458" y2="745.3" stroke="#f4c8c0" stroke-width="1.2"/>
<text x="414.6" y="728.3" font-size="5.2" fill="#f4c8c0" text-anchor="middle" class="m">HV1</text>
<text x="414.6" y="767.3" font-size="5.2" fill="#f4c8c0" text-anchor="middle" class="m">LV1</text>
<circle cx="414.6" cy="717.1" r="3.3" fill="#f7b4b0" stroke="#e88078" stroke-width="1.2"/>
<circle cx="414.6" cy="773.8" r="3.3" fill="#f7b4b0" stroke="#e88078" stroke-width="1.2"/>
<text x="428.8" y="728.3" font-size="5.2" fill="#f4c8c0" text-anchor="middle" class="m">HV2</text>
<text x="428.8" y="767.3" font-size="5.2" fill="#f4c8c0" text-anchor="middle" class="m">LV2</text>
<circle cx="428.8" cy="717.1" r="3.3" fill="#f7b4b0" stroke="#e88078" stroke-width="1.2"/>
<circle cx="428.8" cy="773.8" r="3.3" fill="#f7b4b0" stroke="#e88078" stroke-width="1.2"/>
<text x="442.9" y="728.3" font-size="5.2" fill="#f4c8c0" text-anchor="middle" class="m">HV</text>
<text x="442.9" y="767.3" font-size="5.2" fill="#f4c8c0" text-anchor="middle" class="m">LV</text>
<circle cx="442.9" cy="717.1" r="3.3" fill="#f7b4b0" stroke="#e88078" stroke-width="1.2"/>
<circle cx="442.9" cy="773.8" r="3.3" fill="#f7b4b0" stroke="#e88078" stroke-width="1.2"/>
<text x="457.1" y="728.3" font-size="5.2" fill="#f4c8c0" text-anchor="middle" class="m">GND</text>
<text x="457.1" y="767.3" font-size="5.2" fill="#f4c8c0" text-anchor="middle" class="m">GND</text>
<circle cx="457.1" cy="717.1" r="3.3" fill="#f7b4b0" stroke="#e88078" stroke-width="1.2"/>
<circle cx="457.1" cy="773.8" r="3.3" fill="#f7b4b0" stroke="#e88078" stroke-width="1.2"/>
<text x="471.2" y="728.3" font-size="5.2" fill="#f4c8c0" text-anchor="middle" class="m">HV3</text>
<text x="471.2" y="767.3" font-size="5.2" fill="#f4c8c0" text-anchor="middle" class="m">LV3</text>
<circle cx="471.2" cy="717.1" r="3.3" fill="#f7b4b0" stroke="#e88078" stroke-width="1.2"/>
<circle cx="471.2" cy="773.8" r="3.3" fill="#f7b4b0" stroke="#e88078" stroke-width="1.2"/>
<text x="485.4" y="728.3" font-size="5.2" fill="#f4c8c0" text-anchor="middle" class="m">HV4</text>
<text x="485.4" y="767.3" font-size="5.2" fill="#f4c8c0" text-anchor="middle" class="m">LV4</text>
<circle cx="485.4" cy="717.1" r="3.3" fill="#f7b4b0" stroke="#e88078" stroke-width="1.2"/>
<circle cx="485.4" cy="773.8" r="3.3" fill="#f7b4b0" stroke="#e88078" stroke-width="1.2"/>
<text x="413.5" y="735" font-size="5.2" fill="#f4c8c0" text-anchor="middle" transform="rotate(-90 413.5 735)" class="m">HV</text>
<text x="413.5" y="757" font-size="5.2" fill="#f4c8c0" text-anchor="middle" transform="rotate(-90 413.5 757)" class="m">LV</text>
<text x="489" y="735" font-size="5.2" fill="#f4c8c0" text-anchor="middle" transform="rotate(-90 489 735)" class="m">HV</text>
<text x="489" y="757" font-size="5.2" fill="#f4c8c0" text-anchor="middle" transform="rotate(-90 489 757)" class="m">LV</text>
<text x="441" y="745" font-size="5.2" fill="#f4c8c0" text-anchor="middle" transform="rotate(-90 441 745)" class="m">Chan12</text>
<text x="471.5" y="745" font-size="5.2" fill="#f4c8c0" text-anchor="middle" transform="rotate(-90 471.5 745)" class="m">Chan34</text>
<rect x="30" y="826.3" width="312.1" height="473.5" fill="#017a14" rx="15"/>
<circle cx="49.4" cy="845.2" r="17" fill="#c8b888"/>
<circle cx="49.4" cy="845.2" r="7.6" fill="#fdfefd"/>
<circle cx="322.6" cy="845.2" r="17" fill="#c8b888"/>
<circle cx="322.6" cy="845.2" r="7.6" fill="#fdfefd"/>
<circle cx="49.4" cy="1168.5" r="17" fill="#c8b888"/>
<circle cx="49.4" cy="1168.5" r="7.6" fill="#fdfefd"/>
<circle cx="322.6" cy="1168.5" r="17" fill="#c8b888"/>
<circle cx="322.6" cy="1168.5" r="7.6" fill="#fdfefd"/>
<rect x="124.1" y="837" width="118.6" height="10.9" fill="#1a1a1a"/>
<rect x="142.1" y="843.8" width="81.2" height="5.5" fill="#ffffff"/>
<rect x="142.7" y="829" width="2.7" height="6.5" fill="#a8a8a8"/>
<rect x="142.7" y="850.3" width="2.7" height="5.5" fill="#a8a8a8"/>
<rect x="147.2" y="829" width="2.7" height="6.5" fill="#a8a8a8"/>
<rect x="147.2" y="850.3" width="2.7" height="5.5" fill="#a8a8a8"/>
<rect x="151.7" y="829" width="2.7" height="6.5" fill="#a8a8a8"/>
<rect x="151.7" y="850.3" width="2.7" height="5.5" fill="#a8a8a8"/>
<rect x="156.2" y="829" width="2.7" height="6.5" fill="#a8a8a8"/>
<rect x="156.2" y="850.3" width="2.7" height="5.5" fill="#a8a8a8"/>
<rect x="160.7" y="829" width="2.7" height="6.5" fill="#a8a8a8"/>
<rect x="160.7" y="850.3" width="2.7" height="5.5" fill="#a8a8a8"/>
<rect x="165.3" y="829" width="2.7" height="6.5" fill="#a8a8a8"/>
<rect x="165.3" y="850.3" width="2.7" height="5.5" fill="#a8a8a8"/>
<rect x="169.8" y="829" width="2.7" height="6.5" fill="#a8a8a8"/>
<rect x="169.8" y="850.3" width="2.7" height="5.5" fill="#a8a8a8"/>
<rect x="174.3" y="829" width="2.7" height="6.5" fill="#a8a8a8"/>
<rect x="174.3" y="850.3" width="2.7" height="5.5" fill="#a8a8a8"/>
<rect x="178.8" y="829" width="2.7" height="6.5" fill="#a8a8a8"/>
<rect x="178.8" y="850.3" width="2.7" height="5.5" fill="#a8a8a8"/>
<rect x="183.3" y="829" width="2.7" height="6.5" fill="#a8a8a8"/>
<rect x="183.3" y="850.3" width="2.7" height="5.5" fill="#a8a8a8"/>
<rect x="187.8" y="829" width="2.7" height="6.5" fill="#a8a8a8"/>
<rect x="187.8" y="850.3" width="2.7" height="5.5" fill="#a8a8a8"/>
<rect x="192.3" y="829" width="2.7" height="6.5" fill="#a8a8a8"/>
<rect x="192.3" y="850.3" width="2.7" height="5.5" fill="#a8a8a8"/>
<rect x="196.8" y="829" width="2.7" height="6.5" fill="#a8a8a8"/>
<rect x="196.8" y="850.3" width="2.7" height="5.5" fill="#a8a8a8"/>
<rect x="201.3" y="829" width="2.7" height="6.5" fill="#a8a8a8"/>
<rect x="201.3" y="850.3" width="2.7" height="5.5" fill="#a8a8a8"/>
<rect x="205.9" y="829" width="2.7" height="6.5" fill="#a8a8a8"/>
<rect x="205.9" y="850.3" width="2.7" height="5.5" fill="#a8a8a8"/>
<rect x="210.4" y="829" width="2.7" height="6.5" fill="#a8a8a8"/>
<rect x="210.4" y="850.3" width="2.7" height="5.5" fill="#a8a8a8"/>
<rect x="214.9" y="829" width="2.7" height="6.5" fill="#a8a8a8"/>
<rect x="214.9" y="850.3" width="2.7" height="5.5" fill="#a8a8a8"/>
<rect x="219.4" y="829" width="2.7" height="6.5" fill="#a8a8a8"/>
<rect x="219.4" y="850.3" width="2.7" height="5.5" fill="#a8a8a8"/>
<text x="182.7" y="867" font-size="4.6" fill="#d8ecd8" text-anchor="middle" class="m">DISPLAY</text>
<rect x="32.2" y="1085.3" width="118.5" height="11.5" fill="#1a1a1a"/>
<rect x="51" y="1085" width="80.5" height="5.3" fill="#ffffff"/>
<rect x="51.6" y="1078" width="2.7" height="6.3" fill="#a8a8a8"/>
<rect x="51.6" y="1097.6" width="2.7" height="6.9" fill="#a8a8a8"/>
<rect x="56.1" y="1078" width="2.7" height="6.3" fill="#a8a8a8"/>
<rect x="56.1" y="1097.6" width="2.7" height="6.9" fill="#a8a8a8"/>
<rect x="60.5" y="1078" width="2.7" height="6.3" fill="#a8a8a8"/>
<rect x="60.5" y="1097.6" width="2.7" height="6.9" fill="#a8a8a8"/>
<rect x="65" y="1078" width="2.7" height="6.3" fill="#a8a8a8"/>
<rect x="65" y="1097.6" width="2.7" height="6.9" fill="#a8a8a8"/>
<rect x="69.5" y="1078" width="2.7" height="6.3" fill="#a8a8a8"/>
<rect x="69.5" y="1097.6" width="2.7" height="6.9" fill="#a8a8a8"/>
<rect x="74" y="1078" width="2.7" height="6.3" fill="#a8a8a8"/>
<rect x="74" y="1097.6" width="2.7" height="6.9" fill="#a8a8a8"/>
<rect x="78.4" y="1078" width="2.7" height="6.3" fill="#a8a8a8"/>
<rect x="78.4" y="1097.6" width="2.7" height="6.9" fill="#a8a8a8"/>
<rect x="82.9" y="1078" width="2.7" height="6.3" fill="#a8a8a8"/>
<rect x="82.9" y="1097.6" width="2.7" height="6.9" fill="#a8a8a8"/>
<rect x="87.4" y="1078" width="2.7" height="6.3" fill="#a8a8a8"/>
<rect x="87.4" y="1097.6" width="2.7" height="6.9" fill="#a8a8a8"/>
<rect x="91.8" y="1078" width="2.7" height="6.3" fill="#a8a8a8"/>
<rect x="91.8" y="1097.6" width="2.7" height="6.9" fill="#a8a8a8"/>
<rect x="96.3" y="1078" width="2.7" height="6.3" fill="#a8a8a8"/>
<rect x="96.3" y="1097.6" width="2.7" height="6.9" fill="#a8a8a8"/>
<rect x="100.8" y="1078" width="2.7" height="6.3" fill="#a8a8a8"/>
<rect x="100.8" y="1097.6" width="2.7" height="6.9" fill="#a8a8a8"/>
<rect x="105.3" y="1078" width="2.7" height="6.3" fill="#a8a8a8"/>
<rect x="105.3" y="1097.6" width="2.7" height="6.9" fill="#a8a8a8"/>
<rect x="109.7" y="1078" width="2.7" height="6.3" fill="#a8a8a8"/>
<rect x="109.7" y="1097.6" width="2.7" height="6.9" fill="#a8a8a8"/>
<rect x="114.2" y="1078" width="2.7" height="6.3" fill="#a8a8a8"/>
<rect x="114.2" y="1097.6" width="2.7" height="6.9" fill="#a8a8a8"/>
<rect x="118.7" y="1078" width="2.7" height="6.3" fill="#a8a8a8"/>
<rect x="118.7" y="1097.6" width="2.7" height="6.9" fill="#a8a8a8"/>
<rect x="123.2" y="1078" width="2.7" height="6.3" fill="#a8a8a8"/>
<rect x="123.2" y="1097.6" width="2.7" height="6.9" fill="#a8a8a8"/>
<rect x="127.6" y="1078" width="2.7" height="6.3" fill="#a8a8a8"/>
<rect x="127.6" y="1097.6" width="2.7" height="6.9" fill="#a8a8a8"/>
<text x="100.5" y="1071" font-size="4.6" fill="#d8ecd8" text-anchor="middle" class="m">CAMERA</text>
<rect x="25.7" y="868.2" width="38.2" height="44.3" fill="#e6e6e6" stroke="#bdbdbd" stroke-width="0.8"/>
<rect x="27.5" y="870.5" width="28.5" height="40" fill="#f1f1f1"/>
<rect x="32" y="875.5" width="18" height="4" fill="#c8c8c8" rx="2"/>
<circle cx="35.5" cy="878.3" r="2.8" fill="#9a9a9a"/>
<rect x="32" y="899.5" width="18" height="4" fill="#c8c8c8" rx="2"/>
<circle cx="35.5" cy="902.3" r="2.8" fill="#9a9a9a"/>
<rect x="62.5" y="880" width="2.7" height="19" fill="#555"/>
<text x="45.5" y="920.5" font-size="4.6" fill="#d8ecd8" text-anchor="middle" class="m">Power in</text>
<rect x="74.3" y="866.3" width="28.6" height="28.3" fill="#1a1a1a"/>
<rect x="185" y="1054" width="84.6" height="56" fill="#1a1a1a"/>
<rect x="152.2" y="1122.4" width="51.9" height="52.4" fill="#1a1a1a"/>
<rect x="230" y="1126" width="35" height="35.6" fill="#1a1a1a"/>
<rect x="137.1" y="871" width="14.8" height="43.7" fill="none" stroke="#e4d8c8" stroke-width="0.8"/>
<rect x="139" y="872.7" width="11" height="12" fill="#8a5a20"/>
<circle cx="144.4" cy="878.7" r="4.6" fill="#e06030"/>
<circle cx="144.4" cy="878.7" r="3" fill="#f8c0b0"/>
<rect x="139" y="886.9" width="11" height="12" fill="#8a5a20"/>
<circle cx="144.4" cy="892.9" r="4.6" fill="#8ccc30"/>
<circle cx="144.4" cy="892.9" r="3" fill="#e8f4d0"/>
<rect x="139" y="901.3" width="11" height="12" fill="#8a5a20"/>
<circle cx="144.4" cy="907.3" r="4.6" fill="#e06030"/>
<circle cx="144.4" cy="907.3" r="3" fill="#f8c0b0"/>
<text x="155.8" y="872.5" font-size="4.4" fill="#d8ecd8" transform="rotate(90 155.8 872.5)" class="m">RUN</text>
<text x="155.8" y="889.5" font-size="4.4" fill="#d8ecd8" transform="rotate(90 155.8 889.5)" class="m">GLOBAL_EN</text>
<text x="141.5" y="918.5" font-size="4.4" fill="#d8ecd8" transform="rotate(90 141.5 918.5)" class="m">J2</text>
<circle cx="196.5" cy="897.5" r="4.1" fill="none" stroke="#ffffff" stroke-width="0.9"/>
<circle cx="206" cy="899.5" r="4.1" fill="none" stroke="#ffffff" stroke-width="0.9"/>
<circle cx="189" cy="904.5" r="4.2" fill="none" stroke="#ffffff" stroke-width="0.9"/>
<circle cx="198.5" cy="906.5" r="4.5" fill="none" stroke="#ffffff" stroke-width="0.9"/>
<circle cx="208.5" cy="908" r="4.1" fill="none" stroke="#ffffff" stroke-width="0.9"/>
<circle cx="188.5" cy="914.5" r="4.2" fill="none" stroke="#ffffff" stroke-width="0.9"/>
<circle cx="197" cy="917" r="4.3" fill="none" stroke="#ffffff" stroke-width="0.9"/>
<circle cx="206.5" cy="917.5" r="4.3" fill="none" stroke="#ffffff" stroke-width="0.9"/>
<circle cx="193" cy="923.5" r="3.4" fill="none" stroke="#ffffff" stroke-width="0.9"/>
<circle cx="202.5" cy="924.5" r="3.4" fill="none" stroke="#ffffff" stroke-width="0.9"/>
<ellipse cx="199" cy="910.5" rx="16.5" ry="17" fill="none" stroke="#ffffff" stroke-width="1" transform="rotate(15 199 910.5)"/>
<path d="M211,906 C213,896 221,893 227.5,894 C228.5,901 224,907.5 214,909 Z M214,909 L223,898" fill="none" stroke="#ffffff" stroke-width="0.9"/>
<path d="M213.5,912 C220,911 226.5,915 227.5,926 C220,925 214.5,920.5 213.5,912 Z M214,913 L224,923" fill="none" stroke="#ffffff" stroke-width="0.9"/>
<rect x="232" y="860.2" width="72" height="59.7" fill="#b2b2b2"/>
<rect x="182.7" y="941.1" width="87.2" height="86.9" fill="#b6b6b6"/>
<rect x="188.4" y="946.2" width="73.8" height="74.4" fill="#bcbcbc" stroke="#5a5a5a" stroke-width="2.8"/>
<rect x="296" y="930.2" width="9.2" height="21.6" fill="none" stroke="#e8f4e8" stroke-width="0.8"/>
<text x="298" y="941" font-size="6.6" fill="#e8f4e8" text-anchor="middle" transform="rotate(90 298 941)" class="m">GPIO</text>
<text x="290.4" y="976" font-size="8.6" fill="#ffffff" transform="rotate(90 290.4 976)" textLength="87.5" lengthAdjust="spacingAndGlyphs" class="lb">Raspberry Pi 4 Model B</text>
<text x="280.6" y="988" font-size="8.6" fill="#ffffff" transform="rotate(90 280.6 988)" textLength="81.5" lengthAdjust="spacingAndGlyphs" class="lb">© Raspberry Pi 2018</text>
<text x="76.4" y="981" font-size="23.5" fill="#ffffff" transform="rotate(90 76.4 981)" textLength="79.5" lengthAdjust="spacingAndGlyphs" class="m">HDMI</text>
<rect x="26.3" y="963.3" width="41.3" height="28.3" fill="#a9a9a9" stroke="#8e8e8e" stroke-width="0.7"/>
<path d="M48.3,967.8 L31.3,969.1 L31.3,971.3 L48.3,974.1 M48.3,980.8 L31.3,983.6 L31.3,985.8 L48.3,987.1" fill="none" stroke="#5a5a5a" stroke-width="1.2"/>
<path d="M57.3,969.3 h5 v5.5 h-5 M57.3,985.6 h5 v-5.5 h-5" fill="none" stroke="#5a5a5a" stroke-width="1.2"/>
<text x="47.3" y="959.3" font-size="4" fill="#d8ecd8" text-anchor="middle" class="m">HDMI 0</text>
<rect x="27.2" y="1046.4" width="41.9" height="28.1" fill="#a9a9a9" stroke="#8e8e8e" stroke-width="0.7"/>
<path d="M49.2,1050.9 L32.2,1052.2 L32.2,1054.4 L49.2,1057.2 M49.2,1063.7 L32.2,1066.5 L32.2,1068.7 L49.2,1070" fill="none" stroke="#5a5a5a" stroke-width="1.2"/>
<path d="M58.2,1052.4 h5 v5.5 h-5 M58.2,1068.5 h5 v-5.5 h-5" fill="none" stroke="#5a5a5a" stroke-width="1.2"/>
<text x="48.2" y="1042.4" font-size="4" fill="#d8ecd8" text-anchor="middle" class="m">HDMI 1</text>
<rect x="19.1" y="1109.9" width="11.9" height="36.4" fill="#1c1c1c"/>
<path d="M30,1109.9 H92 L99.3,1113.5 V1143 L92,1146.3 H30 Z" fill="#d2d2d2" stroke="#b0b0b0" stroke-width="0.6"/>
<rect x="51.5" y="1119.5" width="11.5" height="16" fill="#a0a0a0"/>
<rect x="73" y="1110.5" width="6" height="1.6" fill="#444"/>
<rect x="73" y="1119.5" width="6" height="1.6" fill="#444"/>
<rect x="73" y="1135" width="6" height="1.6" fill="#444"/>
<rect x="73" y="1144" width="6" height="1.6" fill="#444"/>
<text x="43" y="1107.3" font-size="4" fill="#d8ecd8" text-anchor="middle" class="m">A/V</text>
<rect x="275.6" y="1155.3" width="26.8" height="27" fill="#3f3f3f" rx="2"/>
<rect x="277.6" y="1157.2" width="8.8" height="8.8" fill="#b22c20"/>
<rect x="280" y="1159.6" width="4" height="4" fill="#d88070"/>
<rect x="291.3" y="1157.2" width="8.8" height="8.8" fill="#b22c20"/>
<rect x="293.7" y="1159.6" width="4" height="4" fill="#d88070"/>
<rect x="277.6" y="1171.2" width="8.8" height="8.8" fill="#b22c20"/>
<rect x="280" y="1173.6" width="4" height="4" fill="#d88070"/>
<rect x="291.3" y="1171.2" width="8.8" height="8.8" fill="#b22c20"/>
<rect x="293.7" y="1173.6" width="4" height="4" fill="#d88070"/>
<text x="288" y="1144" font-size="4.6" fill="#d8ecd8" text-anchor="middle" class="m">PoE</text>
<text x="305" y="1181.5" font-size="4" fill="#d8ecd8" transform="rotate(90 305 1181.5)" class="m">J14</text>
<rect x="309.6" y="865.5" width="26.4" height="282.7" fill="#404040" rx="3"/>
<rect x="308.3" y="866.7" width="29" height="11.2" fill="#404040" rx="2.5"/>
<rect x="308.3" y="880.9" width="29" height="11.2" fill="#404040" rx="2.5"/>
<rect x="308.3" y="895" width="29" height="11.2" fill="#404040" rx="2.5"/>
<rect x="308.3" y="909.2" width="29" height="11.2" fill="#404040" rx="2.5"/>
<rect x="308.3" y="923.4" width="29" height="11.2" fill="#404040" rx="2.5"/>
<rect x="308.3" y="937.5" width="29" height="11.2" fill="#404040" rx="2.5"/>
<rect x="308.3" y="951.7" width="29" height="11.2" fill="#404040" rx="2.5"/>
<rect x="308.3" y="965.9" width="29" height="11.2" fill="#404040" rx="2.5"/>
<rect x="308.3" y="980" width="29" height="11.2" fill="#404040" rx="2.5"/>
<rect x="308.3" y="994.2" width="29" height="11.2" fill="#404040" rx="2.5"/>
<rect x="308.3" y="1008.3" width="29" height="11.2" fill="#404040" rx="2.5"/>
<rect x="308.3" y="1022.5" width="29" height="11.2" fill="#404040" rx="2.5"/>
<rect x="308.3" y="1036.7" width="29" height="11.2" fill="#404040" rx="2.5"/>
<rect x="308.3" y="1050.8" width="29" height="11.2" fill="#404040" rx="2.5"/>
<rect x="308.3" y="1065" width="29" height="11.2" fill="#404040" rx="2.5"/>
<rect x="308.3" y="1079.2" width="29" height="11.2" fill="#404040" rx="2.5"/>
<rect x="308.3" y="1093.3" width="29" height="11.2" fill="#404040" rx="2.5"/>
<rect x="308.3" y="1107.5" width="29" height="11.2" fill="#404040" rx="2.5"/>
<rect x="308.3" y="1121.7" width="29" height="11.2" fill="#404040" rx="2.5"/>
<rect x="308.3" y="1135.8" width="29" height="11.2" fill="#404040" rx="2.5"/>
<circle cx="315.3" cy="872.3" r="3.9" fill="#b43222"/>
<rect x="313.8" y="870.8" width="3" height="3" fill="#d4705c"/>
<circle cx="329.4" cy="872.3" r="3.9" fill="#357f35"/>
<rect x="327.9" y="870.8" width="3" height="3" fill="#86be72"/>
<circle cx="315.3" cy="886.5" r="3.9" fill="#b43222"/>
<rect x="313.8" y="885" width="3" height="3" fill="#d4705c"/>
<circle cx="329.4" cy="886.5" r="3.9" fill="#b43222"/>
<rect x="327.9" y="885" width="3" height="3" fill="#d4705c"/>
<circle cx="315.3" cy="900.6" r="3.9" fill="#b43222"/>
<rect x="313.8" y="899.1" width="3" height="3" fill="#d4705c"/>
<circle cx="329.4" cy="900.6" r="3.9" fill="#b43222"/>
<rect x="327.9" y="899.1" width="3" height="3" fill="#d4705c"/>
<circle cx="315.3" cy="914.8" r="3.9" fill="#b43222"/>
<rect x="313.8" y="913.3" width="3" height="3" fill="#d4705c"/>
<circle cx="329.4" cy="914.8" r="3.9" fill="#b43222"/>
<rect x="327.9" y="913.3" width="3" height="3" fill="#d4705c"/>
<circle cx="315.3" cy="929" r="3.9" fill="#357f35"/>
<rect x="313.8" y="927.5" width="3" height="3" fill="#86be72"/>
<circle cx="329.4" cy="929" r="3.9" fill="#b43222"/>
<rect x="327.9" y="927.5" width="3" height="3" fill="#d4705c"/>
<circle cx="315.3" cy="943.1" r="3.9" fill="#b43222"/>
<rect x="313.8" y="941.6" width="3" height="3" fill="#d4705c"/>
<circle cx="329.4" cy="943.1" r="3.9" fill="#b43222"/>
<rect x="327.9" y="941.6" width="3" height="3" fill="#d4705c"/>
<circle cx="315.3" cy="957.3" r="3.9" fill="#b43222"/>
<rect x="313.8" y="955.8" width="3" height="3" fill="#d4705c"/>
<circle cx="329.4" cy="957.3" r="3.9" fill="#357f35"/>
<rect x="327.9" y="955.8" width="3" height="3" fill="#86be72"/>
<circle cx="315.3" cy="971.5" r="3.9" fill="#b43222"/>
<rect x="313.8" y="970" width="3" height="3" fill="#d4705c"/>
<circle cx="329.4" cy="971.5" r="3.9" fill="#b43222"/>
<rect x="327.9" y="970" width="3" height="3" fill="#d4705c"/>
<circle cx="315.3" cy="985.6" r="3.9" fill="#357f35"/>
<rect x="313.8" y="984.1" width="3" height="3" fill="#86be72"/>
<circle cx="329.4" cy="985.6" r="3.9" fill="#b43222"/>
<rect x="327.9" y="984.1" width="3" height="3" fill="#d4705c"/>
<circle cx="315.3" cy="999.8" r="3.9" fill="#b43222"/>
<rect x="313.8" y="998.3" width="3" height="3" fill="#d4705c"/>
<circle cx="329.4" cy="999.8" r="3.9" fill="#b43222"/>
<rect x="327.9" y="998.3" width="3" height="3" fill="#d4705c"/>
<circle cx="315.3" cy="1013.9" r="3.9" fill="#b43222"/>
<rect x="313.8" y="1012.4" width="3" height="3" fill="#d4705c"/>
<circle cx="329.4" cy="1013.9" r="3.9" fill="#b43222"/>
<rect x="327.9" y="1012.4" width="3" height="3" fill="#d4705c"/>
<circle cx="315.3" cy="1028.1" r="3.9" fill="#b43222"/>
<rect x="313.8" y="1026.6" width="3" height="3" fill="#d4705c"/>
<circle cx="329.4" cy="1028.1" r="3.9" fill="#b43222"/>
<rect x="327.9" y="1026.6" width="3" height="3" fill="#d4705c"/>
<circle cx="315.3" cy="1042.3" r="3.9" fill="#357f35"/>
<rect x="313.8" y="1040.8" width="3" height="3" fill="#86be72"/>
<circle cx="329.4" cy="1042.3" r="3.9" fill="#b43222"/>
<rect x="327.9" y="1040.8" width="3" height="3" fill="#d4705c"/>
<circle cx="315.3" cy="1056.4" r="3.9" fill="#b43222"/>
<rect x="313.8" y="1054.9" width="3" height="3" fill="#d4705c"/>
<circle cx="329.4" cy="1056.4" r="3.9" fill="#b43222"/>
<rect x="327.9" y="1054.9" width="3" height="3" fill="#d4705c"/>
<circle cx="315.3" cy="1070.6" r="3.9" fill="#b43222"/>
<rect x="313.8" y="1069.1" width="3" height="3" fill="#d4705c"/>
<circle cx="329.4" cy="1070.6" r="3.9" fill="#b43222"/>
<rect x="327.9" y="1069.1" width="3" height="3" fill="#d4705c"/>
<circle cx="315.3" cy="1084.8" r="3.9" fill="#b43222"/>
<rect x="313.8" y="1083.3" width="3" height="3" fill="#d4705c"/>
<circle cx="329.4" cy="1084.8" r="3.9" fill="#b43222"/>
<rect x="327.9" y="1083.3" width="3" height="3" fill="#d4705c"/>
<circle cx="315.3" cy="1098.9" r="3.9" fill="#b43222"/>
<rect x="313.8" y="1097.4" width="3" height="3" fill="#d4705c"/>
<circle cx="329.4" cy="1098.9" r="3.9" fill="#357f35"/>
<rect x="327.9" y="1097.4" width="3" height="3" fill="#86be72"/>
<circle cx="315.3" cy="1113.1" r="3.9" fill="#b43222"/>
<rect x="313.8" y="1111.6" width="3" height="3" fill="#d4705c"/>
<circle cx="329.4" cy="1113.1" r="3.9" fill="#b43222"/>
<rect x="327.9" y="1111.6" width="3" height="3" fill="#d4705c"/>
<circle cx="315.3" cy="1127.3" r="3.9" fill="#b43222"/>
<rect x="313.8" y="1125.8" width="3" height="3" fill="#d4705c"/>
<circle cx="329.4" cy="1127.3" r="3.9" fill="#b43222"/>
<rect x="327.9" y="1125.8" width="3" height="3" fill="#d4705c"/>
<circle cx="315.3" cy="1141.4" r="3.9" fill="#357f35"/>
<rect x="313.8" y="1139.9" width="3" height="3" fill="#86be72"/>
<circle cx="329.4" cy="1141.4" r="3.9" fill="#b43222"/>
<rect x="327.9" y="1139.9" width="3" height="3" fill="#d4705c"/>
<circle cx="315.3" cy="1013.9" r="6.2" fill="none" stroke="#c03028" stroke-width="1"/>
<rect x="47.2" y="1233.5" width="82" height="6.5" fill="#cfcfcf"/>
<rect x="52.2" y="1213.3" width="71.9" height="93.2" fill="#b9b9b9" stroke="#a5a5a5" stroke-width="0.6"/>
<rect x="68.2" y="1211" width="6" height="2.6" fill="#8a8a8a"/>
<rect x="80.8" y="1211" width="6" height="2.6" fill="#8a8a8a"/>
<rect x="93.4" y="1211" width="6" height="2.6" fill="#8a8a8a"/>
<rect x="106" y="1211" width="6" height="2.6" fill="#8a8a8a"/>
<path d="M52.2,1306.5 l-3.5,2.5 h4 z M124.1,1306.5 l3.5,2.5 h-4 z" fill="#cfcfcf"/>
<path d="M59,1247.3 L63.9,1297.8 H75.9 L80.8,1247.3 h-4 L72.8,1290.4 H67 L63,1247.3 Z" fill="#3a3a3a"/>
<rect x="66.7" y="1285.6" width="6.4" height="4.6" fill="#a4a4a4"/>
<path d="M95.1,1247.3 L100,1297.8 H112 L116.9,1247.3 h-4 L108.9,1290.4 H103.1 L99.1,1247.3 Z" fill="#3a3a3a"/>
<rect x="102.8" y="1285.6" width="6.4" height="4.6" fill="#a4a4a4"/>
<text x="43.9" y="1275" font-size="5.8" fill="#e8f4e8" transform="rotate(90 43.9 1275)" textLength="16" lengthAdjust="spacingAndGlyphs" class="m">USB2</text>
<rect x="145.2" y="1233.5" width="82" height="6.5" fill="#cfcfcf"/>
<rect x="150.2" y="1213.3" width="71.9" height="93.2" fill="#b9b9b9" stroke="#a5a5a5" stroke-width="0.6"/>
<rect x="166.2" y="1211" width="6" height="2.6" fill="#8a8a8a"/>
<rect x="178.8" y="1211" width="6" height="2.6" fill="#8a8a8a"/>
<rect x="191.4" y="1211" width="6" height="2.6" fill="#8a8a8a"/>
<rect x="204" y="1211" width="6" height="2.6" fill="#8a8a8a"/>
<path d="M150.2,1306.5 l-3.5,2.5 h4 z M222.1,1306.5 l3.5,2.5 h-4 z" fill="#cfcfcf"/>
<path d="M157,1247.3 L161.9,1297.8 H173.9 L178.8,1247.3 h-4 L170.8,1290.4 H165 L161,1247.3 Z" fill="#1565c8"/>
<rect x="164.7" y="1285.6" width="6.4" height="4.6" fill="#a4a4a4"/>
<path d="M193.1,1247.3 L198,1297.8 H210 L214.9,1247.3 h-4 L206.9,1290.4 H201.1 L197.1,1247.3 Z" fill="#1565c8"/>
<rect x="200.8" y="1285.6" width="6.4" height="4.6" fill="#a4a4a4"/>
<text x="141.9" y="1275" font-size="5.8" fill="#e8f4e8" transform="rotate(90 141.9 1275)" textLength="16" lengthAdjust="spacingAndGlyphs" class="m">USB3</text>
<rect x="242.3" y="1192.9" width="86" height="117.1" fill="#c9c9c9" stroke="#b4b4b4" stroke-width="0.6"/>
<rect x="242.3" y="1192.9" width="7.7" height="117.1" fill="#bcbcbc"/>
<rect x="322" y="1192.9" width="6.3" height="117.1" fill="#bfbfbf"/>
<path d="M262.5,1311 V1290 a2.5,2.5 0 0 1 2.5,-2.5 h4.6 a2.5,2.5 0 0 1 2.5,2.5 V1311 Z" fill="#e2e2e2" stroke="#9a9a9a" stroke-width="0.6"/>
<path d="M298,1311 V1290 a2.5,2.5 0 0 1 2.5,-2.5 h4.6 a2.5,2.5 0 0 1 2.5,2.5 V1311 Z" fill="#e2e2e2" stroke="#9a9a9a" stroke-width="0.6"/>
<text x="332.6" y="1254.6" font-size="6.2" fill="#e8f4e8" transform="rotate(90 332.6 1254.6)" textLength="34.4" lengthAdjust="spacingAndGlyphs" class="m">Ethernet</text>
<rect x="730.3" y="739.1" width="33.6" height="57.1" fill="#267d26"/>
<rect x="721.8" y="795.2" width="51" height="283" fill="#267d26"/>
<path d="M734,800.2 L740,795.2 H754.8 L760.8,800.2 V1078.2 H734 Z" fill="#404040"/>
<rect x="732.3" y="796.6" width="30.2" height="10.4" fill="#404040" rx="2.2"/>
<rect x="737.6" y="799.2" width="5.2" height="5.2" fill="#b8a070"/>
<rect x="739" y="800.6" width="2.4" height="2.4" fill="#6e5a38"/>
<rect x="752" y="799.2" width="5.2" height="5.2" fill="#b8a070"/>
<rect x="753.4" y="800.6" width="2.4" height="2.4" fill="#6e5a38"/>
<circle cx="726.1" cy="801.8" r="2" fill="#9ad080"/>
<circle cx="769" cy="801.8" r="2" fill="#9ad080"/>
<text x="731.7" y="804" font-size="4" fill="#d4ecd4" text-anchor="middle" transform="rotate(90 731.7 804)" class="m">IO2</text>
<text x="764" y="801.8" font-size="4" fill="#d4ecd4" text-anchor="middle" transform="rotate(90 764 801.8)" class="m">IO22</text>
<rect x="732.3" y="810.8" width="30.2" height="10.4" fill="#404040" rx="2.2"/>
<rect x="737.6" y="813.4" width="5.2" height="5.2" fill="#b8a070"/>
<rect x="739" y="814.8" width="2.4" height="2.4" fill="#6e5a38"/>
<rect x="752" y="813.4" width="5.2" height="5.2" fill="#b8a070"/>
<rect x="753.4" y="814.8" width="2.4" height="2.4" fill="#6e5a38"/>
<circle cx="726.1" cy="816" r="2" fill="#9ad080"/>
<circle cx="769" cy="816" r="2" fill="#9ad080"/>
<text x="731.7" y="818.2" font-size="4" fill="#d4ecd4" text-anchor="middle" transform="rotate(90 731.7 818.2)" class="m">IO3</text>
<text x="764" y="816" font-size="4" fill="#d4ecd4" text-anchor="middle" transform="rotate(90 764 816)" class="m">IO23</text>
<rect x="732.3" y="824.9" width="30.2" height="10.4" fill="#404040" rx="2.2"/>
<rect x="737.6" y="827.5" width="5.2" height="5.2" fill="#b8a070"/>
<rect x="739" y="828.9" width="2.4" height="2.4" fill="#6e5a38"/>
<rect x="752" y="827.5" width="5.2" height="5.2" fill="#b8a070"/>
<rect x="753.4" y="828.9" width="2.4" height="2.4" fill="#6e5a38"/>
<circle cx="726.1" cy="830.1" r="2" fill="#9ad080"/>
<circle cx="769" cy="830.1" r="2" fill="#e03020"/>
<text x="731.7" y="832.3" font-size="4" fill="#d4ecd4" text-anchor="middle" transform="rotate(90 731.7 832.3)" class="m">IO4</text>
<text x="764" y="830.1" font-size="4" fill="#d4ecd4" text-anchor="middle" transform="rotate(90 764 830.1)" class="m">IO24</text>
<rect x="732.3" y="839.1" width="30.2" height="10.4" fill="#404040" rx="2.2"/>
<rect x="737.6" y="841.7" width="5.2" height="5.2" fill="#b8a070"/>
<rect x="739" y="843.1" width="2.4" height="2.4" fill="#6e5a38"/>
<rect x="752" y="841.7" width="5.2" height="5.2" fill="#b8a070"/>
<rect x="753.4" y="843.1" width="2.4" height="2.4" fill="#6e5a38"/>
<circle cx="726.1" cy="844.3" r="2" fill="#9ad080"/>
<circle cx="769" cy="844.3" r="2" fill="#e03020"/>
<text x="731.7" y="846.5" font-size="4" fill="#d4ecd4" text-anchor="middle" transform="rotate(90 731.7 846.5)" class="m">IO5</text>
<text x="764" y="844.3" font-size="4" fill="#d4ecd4" text-anchor="middle" transform="rotate(90 764 844.3)" class="m">IO25</text>
<rect x="732.3" y="853.2" width="30.2" height="10.4" fill="#404040" rx="2.2"/>
<rect x="737.6" y="855.8" width="5.2" height="5.2" fill="#b8a070"/>
<rect x="739" y="857.2" width="2.4" height="2.4" fill="#6e5a38"/>
<rect x="752" y="855.8" width="5.2" height="5.2" fill="#b8a070"/>
<rect x="753.4" y="857.2" width="2.4" height="2.4" fill="#6e5a38"/>
<circle cx="726.1" cy="858.4" r="2" fill="#9ad080"/>
<circle cx="769" cy="858.4" r="2" fill="#e03020"/>
<text x="731.7" y="860.6" font-size="4" fill="#d4ecd4" text-anchor="middle" transform="rotate(90 731.7 860.6)" class="m">IO6</text>
<text x="764" y="858.4" font-size="4" fill="#d4ecd4" text-anchor="middle" transform="rotate(90 764 858.4)" class="m">IO26</text>
<rect x="732.3" y="867.4" width="30.2" height="10.4" fill="#404040" rx="2.2"/>
<rect x="737.6" y="870" width="5.2" height="5.2" fill="#b8a070"/>
<rect x="739" y="871.4" width="2.4" height="2.4" fill="#6e5a38"/>
<rect x="752" y="870" width="5.2" height="5.2" fill="#b8a070"/>
<rect x="753.4" y="871.4" width="2.4" height="2.4" fill="#6e5a38"/>
<circle cx="726.1" cy="872.6" r="2" fill="#e03020"/>
<circle cx="769" cy="872.6" r="2" fill="#e03020"/>
<text x="731.7" y="874.8" font-size="4" fill="#d4ecd4" text-anchor="middle" transform="rotate(90 731.7 874.8)" class="m">IO7</text>
<text x="764" y="872.6" font-size="4" fill="#d4ecd4" text-anchor="middle" transform="rotate(90 764 872.6)" class="m">IO27</text>
<rect x="732.3" y="881.5" width="30.2" height="10.4" fill="#404040" rx="2.2"/>
<rect x="737.6" y="884.1" width="5.2" height="5.2" fill="#b8a070"/>
<rect x="739" y="885.5" width="2.4" height="2.4" fill="#6e5a38"/>
<rect x="752" y="884.1" width="5.2" height="5.2" fill="#b8a070"/>
<rect x="753.4" y="885.5" width="2.4" height="2.4" fill="#6e5a38"/>
<circle cx="726.1" cy="886.7" r="2" fill="#e03020"/>
<circle cx="769" cy="886.7" r="2" fill="#9ad080"/>
<text x="731.7" y="888.9" font-size="4" fill="#d4ecd4" text-anchor="middle" transform="rotate(90 731.7 888.9)" class="m">IO8</text>
<text x="764" y="886.7" font-size="4" fill="#d4ecd4" text-anchor="middle" transform="rotate(90 764 886.7)" class="m">IO28</text>
<rect x="732.3" y="895.7" width="30.2" height="10.4" fill="#404040" rx="2.2"/>
<rect x="737.6" y="898.3" width="5.2" height="5.2" fill="#b8a070"/>
<rect x="739" y="899.7" width="2.4" height="2.4" fill="#6e5a38"/>
<rect x="752" y="898.3" width="5.2" height="5.2" fill="#b8a070"/>
<rect x="753.4" y="899.7" width="2.4" height="2.4" fill="#6e5a38"/>
<circle cx="726.1" cy="900.9" r="2" fill="#e03020"/>
<circle cx="769" cy="900.9" r="2" fill="#e03020"/>
<text x="731.7" y="903.1" font-size="4" fill="#d4ecd4" text-anchor="middle" transform="rotate(90 731.7 903.1)" class="m">IO9</text>
<text x="764" y="900.9" font-size="4" fill="#d4ecd4" text-anchor="middle" transform="rotate(90 764 900.9)" class="m">IO29</text>
<rect x="732.3" y="909.8" width="30.2" height="10.4" fill="#404040" rx="2.2"/>
<rect x="737.6" y="912.4" width="5.2" height="5.2" fill="#b8a070"/>
<rect x="739" y="913.8" width="2.4" height="2.4" fill="#6e5a38"/>
<rect x="752" y="912.4" width="5.2" height="5.2" fill="#b8a070"/>
<rect x="753.4" y="913.8" width="2.4" height="2.4" fill="#6e5a38"/>
<circle cx="726.1" cy="915" r="2" fill="#9ad080"/>
<circle cx="769" cy="915" r="2" fill="#9ad080"/>
<text x="731.7" y="917.2" font-size="4" fill="#d4ecd4" text-anchor="middle" transform="rotate(90 731.7 917.2)" class="m">IO10</text>
<text x="764" y="915" font-size="4" fill="#d4ecd4" text-anchor="middle" transform="rotate(90 764 915)" class="m">IO30</text>
<rect x="732.3" y="924" width="30.2" height="10.4" fill="#404040" rx="2.2"/>
<rect x="737.6" y="926.6" width="5.2" height="5.2" fill="#b8a070"/>
<rect x="739" y="928" width="2.4" height="2.4" fill="#6e5a38"/>
<rect x="752" y="926.6" width="5.2" height="5.2" fill="#b8a070"/>
<rect x="753.4" y="928" width="2.4" height="2.4" fill="#6e5a38"/>
<circle cx="726.1" cy="929.2" r="2" fill="#9ad080"/>
<circle cx="769" cy="929.2" r="2" fill="#9ad080"/>
<text x="731.7" y="931.4" font-size="4" fill="#d4ecd4" text-anchor="middle" transform="rotate(90 731.7 931.4)" class="m">IO11</text>
<text x="764" y="929.2" font-size="4" fill="#d4ecd4" text-anchor="middle" transform="rotate(90 764 929.2)" class="m">IO31</text>
<rect x="732.3" y="938.1" width="30.2" height="10.4" fill="#404040" rx="2.2"/>
<rect x="737.6" y="940.7" width="5.2" height="5.2" fill="#b8a070"/>
<rect x="739" y="942.1" width="2.4" height="2.4" fill="#6e5a38"/>
<rect x="752" y="940.7" width="5.2" height="5.2" fill="#b8a070"/>
<rect x="753.4" y="942.1" width="2.4" height="2.4" fill="#6e5a38"/>
<circle cx="726.1" cy="943.3" r="2" fill="#9ad080"/>
<circle cx="769" cy="943.3" r="2" fill="#e03020"/>
<text x="731.7" y="945.5" font-size="4" fill="#d4ecd4" text-anchor="middle" transform="rotate(90 731.7 945.5)" class="m">IO12</text>
<text x="764" y="943.3" font-size="4" fill="#d4ecd4" text-anchor="middle" transform="rotate(90 764 943.3)" class="m">IO32</text>
<rect x="732.3" y="952.3" width="30.2" height="10.4" fill="#404040" rx="2.2"/>
<rect x="737.6" y="954.9" width="5.2" height="5.2" fill="#b8a070"/>
<rect x="739" y="956.3" width="2.4" height="2.4" fill="#6e5a38"/>
<rect x="752" y="954.9" width="5.2" height="5.2" fill="#b8a070"/>
<rect x="753.4" y="956.3" width="2.4" height="2.4" fill="#6e5a38"/>
<circle cx="726.1" cy="957.5" r="2" fill="#9ad080"/>
<circle cx="769" cy="957.5" r="2" fill="#9ad080"/>
<text x="731.7" y="959.7" font-size="4" fill="#d4ecd4" text-anchor="middle" transform="rotate(90 731.7 959.7)" class="m">IO13</text>
<text x="764" y="957.5" font-size="4" fill="#d4ecd4" text-anchor="middle" transform="rotate(90 764 957.5)" class="m">IO33</text>
<rect x="732.3" y="966.5" width="30.2" height="10.4" fill="#404040" rx="2.2"/>
<rect x="737.6" y="969.1" width="5.2" height="5.2" fill="#b8a070"/>
<rect x="739" y="970.5" width="2.4" height="2.4" fill="#6e5a38"/>
<rect x="752" y="969.1" width="5.2" height="5.2" fill="#b8a070"/>
<rect x="753.4" y="970.5" width="2.4" height="2.4" fill="#6e5a38"/>
<circle cx="726.1" cy="971.7" r="2" fill="#e03020"/>
<circle cx="769" cy="971.7" r="2" fill="#9ad080"/>
<text x="731.7" y="973.9" font-size="4" fill="#d4ecd4" text-anchor="middle" transform="rotate(90 731.7 973.9)" class="m">IO14</text>
<text x="764" y="971.7" font-size="4" fill="#d4ecd4" text-anchor="middle" transform="rotate(90 764 971.7)" class="m">IO34</text>
<rect x="732.3" y="980.6" width="30.2" height="10.4" fill="#404040" rx="2.2"/>
<rect x="737.6" y="983.2" width="5.2" height="5.2" fill="#b8a070"/>
<rect x="739" y="984.6" width="2.4" height="2.4" fill="#6e5a38"/>
<rect x="752" y="983.2" width="5.2" height="5.2" fill="#b8a070"/>
<rect x="753.4" y="984.6" width="2.4" height="2.4" fill="#6e5a38"/>
<circle cx="726.1" cy="985.8" r="2" fill="#e03020"/>
<circle cx="769" cy="985.8" r="2" fill="#e03020"/>
<text x="731.7" y="988" font-size="4" fill="#d4ecd4" text-anchor="middle" transform="rotate(90 731.7 988)" class="m">IO15</text>
<text x="764" y="985.8" font-size="4" fill="#d4ecd4" text-anchor="middle" transform="rotate(90 764 985.8)" class="m">IO35</text>
<rect x="732.3" y="994.8" width="30.2" height="10.4" fill="#404040" rx="2.2"/>
<rect x="737.6" y="997.4" width="5.2" height="5.2" fill="#b8a070"/>
<rect x="739" y="998.8" width="2.4" height="2.4" fill="#6e5a38"/>
<rect x="752" y="997.4" width="5.2" height="5.2" fill="#b8a070"/>
<rect x="753.4" y="998.8" width="2.4" height="2.4" fill="#6e5a38"/>
<circle cx="726.1" cy="1000" r="2" fill="#9ad080"/>
<circle cx="769" cy="1000" r="2" fill="#9ad080"/>
<text x="731.7" y="1002.2" font-size="4" fill="#d4ecd4" text-anchor="middle" transform="rotate(90 731.7 1002.2)" class="m">IO16</text>
<text x="764" y="1000" font-size="4" fill="#d4ecd4" text-anchor="middle" transform="rotate(90 764 1000)" class="m">IO36</text>
<rect x="732.3" y="1008.9" width="30.2" height="10.4" fill="#404040" rx="2.2"/>
<rect x="737.6" y="1011.5" width="5.2" height="5.2" fill="#b8a070"/>
<rect x="739" y="1012.9" width="2.4" height="2.4" fill="#6e5a38"/>
<rect x="752" y="1011.5" width="5.2" height="5.2" fill="#b8a070"/>
<rect x="753.4" y="1012.9" width="2.4" height="2.4" fill="#6e5a38"/>
<circle cx="726.1" cy="1014.1" r="2" fill="#e03020"/>
<circle cx="769" cy="1014.1" r="2" fill="#e03020"/>
<text x="731.7" y="1016.3" font-size="4" fill="#d4ecd4" text-anchor="middle" transform="rotate(90 731.7 1016.3)" class="m">IO17</text>
<text x="764" y="1014.1" font-size="4" fill="#d4ecd4" text-anchor="middle" transform="rotate(90 764 1014.1)" class="m">IO37</text>
<rect x="732.3" y="1023.1" width="30.2" height="10.4" fill="#404040" rx="2.2"/>
<rect x="737.6" y="1025.7" width="5.2" height="5.2" fill="#b8a070"/>
<rect x="739" y="1027.1" width="2.4" height="2.4" fill="#6e5a38"/>
<rect x="752" y="1025.7" width="5.2" height="5.2" fill="#b8a070"/>
<rect x="753.4" y="1027.1" width="2.4" height="2.4" fill="#6e5a38"/>
<circle cx="726.1" cy="1028.3" r="2" fill="#e03020"/>
<circle cx="769" cy="1028.3" r="2" fill="#e03020"/>
<text x="731.7" y="1030.5" font-size="4" fill="#d4ecd4" text-anchor="middle" transform="rotate(90 731.7 1030.5)" class="m">IO18</text>
<text x="764" y="1028.3" font-size="4" fill="#d4ecd4" text-anchor="middle" transform="rotate(90 764 1028.3)" class="m">IO38</text>
<rect x="732.3" y="1037.2" width="30.2" height="10.4" fill="#404040" rx="2.2"/>
<rect x="737.6" y="1039.8" width="5.2" height="5.2" fill="#b8a070"/>
<rect x="739" y="1041.2" width="2.4" height="2.4" fill="#6e5a38"/>
<rect x="752" y="1039.8" width="5.2" height="5.2" fill="#b8a070"/>
<rect x="753.4" y="1041.2" width="2.4" height="2.4" fill="#6e5a38"/>
<circle cx="726.1" cy="1042.4" r="2" fill="#e03020"/>
<circle cx="769" cy="1042.4" r="2" fill="#9ad080"/>
<text x="731.7" y="1044.6" font-size="4" fill="#d4ecd4" text-anchor="middle" transform="rotate(90 731.7 1044.6)" class="m">IO19</text>
<text x="764" y="1042.4" font-size="4" fill="#d4ecd4" text-anchor="middle" transform="rotate(90 764 1042.4)" class="m">IO39</text>
<rect x="732.3" y="1051.4" width="30.2" height="10.4" fill="#404040" rx="2.2"/>
<rect x="737.6" y="1054" width="5.2" height="5.2" fill="#b8a070"/>
<rect x="739" y="1055.4" width="2.4" height="2.4" fill="#6e5a38"/>
<rect x="752" y="1054" width="5.2" height="5.2" fill="#b8a070"/>
<rect x="753.4" y="1055.4" width="2.4" height="2.4" fill="#6e5a38"/>
<circle cx="726.1" cy="1056.6" r="2" fill="#e03020"/>
<circle cx="769" cy="1056.6" r="2" fill="#e03020"/>
<text x="731.7" y="1058.8" font-size="4" fill="#d4ecd4" text-anchor="middle" transform="rotate(90 731.7 1058.8)" class="m">IO20</text>
<text x="764" y="1056.6" font-size="4" fill="#d4ecd4" text-anchor="middle" transform="rotate(90 764 1056.6)" class="m">IO40</text>
<rect x="732.3" y="1065.5" width="30.2" height="10.4" fill="#404040" rx="2.2"/>
<rect x="737.6" y="1068.1" width="5.2" height="5.2" fill="#b8a070"/>
<rect x="739" y="1069.5" width="2.4" height="2.4" fill="#6e5a38"/>
<rect x="752" y="1068.1" width="5.2" height="5.2" fill="#b8a070"/>
<rect x="753.4" y="1069.5" width="2.4" height="2.4" fill="#6e5a38"/>
<circle cx="726.1" cy="1070.7" r="2" fill="#9ad080"/>
<circle cx="769" cy="1070.7" r="2" fill="#e03020"/>
<text x="731.7" y="1072.9" font-size="4" fill="#d4ecd4" text-anchor="middle" transform="rotate(90 731.7 1072.9)" class="m">IO21</text>
<text x="764" y="1070.7" font-size="4" fill="#d4ecd4" text-anchor="middle" transform="rotate(90 764 1070.7)" class="m">IO41</text>
<text x="753.5" y="748.1" font-size="5.6" fill="#d4ecd4" transform="rotate(90 753.5 748.1)" class="m" font-weight="bold">Raspberry Pi</text>
<text x="745.8" y="748.1" font-size="5.6" fill="#d4ecd4" transform="rotate(90 745.8 748.1)" class="m" font-weight="bold">40 pin GPIO</text>
<text x="738.1" y="748.1" font-size="5.6" fill="#d4ecd4" transform="rotate(90 738.1 748.1)" class="m" font-weight="bold">connector</text>
<rect x="1225.8" y="753.2" width="33.5" height="57.2" fill="#267d26"/>
<rect x="1217.2" y="809.4" width="50.7" height="283.3" fill="#267d26"/>
<path d="M1229.5,814.4 L1235.5,809.4 H1250.1 L1256.1,814.4 V1092.7 H1229.5 Z" fill="#404040"/>
<rect x="1227.8" y="810.9" width="30" height="10.4" fill="#404040" rx="2.2"/>
<rect x="1233.1" y="813.5" width="5.2" height="5.2" fill="#b8a070"/>
<rect x="1234.5" y="814.9" width="2.4" height="2.4" fill="#6e5a38"/>
<rect x="1247.3" y="813.5" width="5.2" height="5.2" fill="#b8a070"/>
<rect x="1248.7" y="814.9" width="2.4" height="2.4" fill="#6e5a38"/>
<circle cx="1221.1" cy="816.1" r="2" fill="#9ad080"/>
<circle cx="1264.1" cy="816.1" r="2" fill="#9ad080"/>
<text x="1226.7" y="818.3" font-size="4" fill="#d4ecd4" text-anchor="middle" transform="rotate(90 1226.7 818.3)" class="m">IO2</text>
<text x="1259.1" y="816.1" font-size="4" fill="#d4ecd4" text-anchor="middle" transform="rotate(90 1259.1 816.1)" class="m">IO22</text>
<rect x="1227.8" y="825.1" width="30" height="10.4" fill="#404040" rx="2.2"/>
<rect x="1233.1" y="827.7" width="5.2" height="5.2" fill="#b8a070"/>
<rect x="1234.5" y="829.1" width="2.4" height="2.4" fill="#6e5a38"/>
<rect x="1247.3" y="827.7" width="5.2" height="5.2" fill="#b8a070"/>
<rect x="1248.7" y="829.1" width="2.4" height="2.4" fill="#6e5a38"/>
<circle cx="1221.1" cy="830.3" r="2" fill="#9ad080"/>
<circle cx="1264.1" cy="830.3" r="2" fill="#9ad080"/>
<text x="1226.7" y="832.5" font-size="4" fill="#d4ecd4" text-anchor="middle" transform="rotate(90 1226.7 832.5)" class="m">IO3</text>
<text x="1259.1" y="830.3" font-size="4" fill="#d4ecd4" text-anchor="middle" transform="rotate(90 1259.1 830.3)" class="m">IO23</text>
<rect x="1227.8" y="839.2" width="30" height="10.4" fill="#404040" rx="2.2"/>
<rect x="1233.1" y="841.8" width="5.2" height="5.2" fill="#b8a070"/>
<rect x="1234.5" y="843.2" width="2.4" height="2.4" fill="#6e5a38"/>
<rect x="1247.3" y="841.8" width="5.2" height="5.2" fill="#b8a070"/>
<rect x="1248.7" y="843.2" width="2.4" height="2.4" fill="#6e5a38"/>
<circle cx="1221.1" cy="844.4" r="2" fill="#9ad080"/>
<circle cx="1264.1" cy="844.4" r="2" fill="#9ad080"/>
<text x="1226.7" y="846.6" font-size="4" fill="#d4ecd4" text-anchor="middle" transform="rotate(90 1226.7 846.6)" class="m">IO4</text>
<text x="1259.1" y="844.4" font-size="4" fill="#d4ecd4" text-anchor="middle" transform="rotate(90 1259.1 844.4)" class="m">IO24</text>
<rect x="1227.8" y="853.4" width="30" height="10.4" fill="#404040" rx="2.2"/>
<rect x="1233.1" y="856" width="5.2" height="5.2" fill="#b8a070"/>
<rect x="1234.5" y="857.4" width="2.4" height="2.4" fill="#6e5a38"/>
<rect x="1247.3" y="856" width="5.2" height="5.2" fill="#b8a070"/>
<rect x="1248.7" y="857.4" width="2.4" height="2.4" fill="#6e5a38"/>
<circle cx="1221.1" cy="858.6" r="2" fill="#9ad080"/>
<circle cx="1264.1" cy="858.6" r="2" fill="#e03020"/>
<text x="1226.7" y="860.8" font-size="4" fill="#d4ecd4" text-anchor="middle" transform="rotate(90 1226.7 860.8)" class="m">IO5</text>
<text x="1259.1" y="858.6" font-size="4" fill="#d4ecd4" text-anchor="middle" transform="rotate(90 1259.1 858.6)" class="m">IO25</text>
<rect x="1227.8" y="867.5" width="30" height="10.4" fill="#404040" rx="2.2"/>
<rect x="1233.1" y="870.1" width="5.2" height="5.2" fill="#b8a070"/>
<rect x="1234.5" y="871.5" width="2.4" height="2.4" fill="#6e5a38"/>
<rect x="1247.3" y="870.1" width="5.2" height="5.2" fill="#b8a070"/>
<rect x="1248.7" y="871.5" width="2.4" height="2.4" fill="#6e5a38"/>
<circle cx="1221.1" cy="872.7" r="2" fill="#9ad080"/>
<circle cx="1264.1" cy="872.7" r="2" fill="#9ad080"/>
<text x="1226.7" y="874.9" font-size="4" fill="#d4ecd4" text-anchor="middle" transform="rotate(90 1226.7 874.9)" class="m">IO6</text>
<text x="1259.1" y="872.7" font-size="4" fill="#d4ecd4" text-anchor="middle" transform="rotate(90 1259.1 872.7)" class="m">IO26</text>
<rect x="1227.8" y="881.7" width="30" height="10.4" fill="#404040" rx="2.2"/>
<rect x="1233.1" y="884.3" width="5.2" height="5.2" fill="#b8a070"/>
<rect x="1234.5" y="885.7" width="2.4" height="2.4" fill="#6e5a38"/>
<rect x="1247.3" y="884.3" width="5.2" height="5.2" fill="#b8a070"/>
<rect x="1248.7" y="885.7" width="2.4" height="2.4" fill="#6e5a38"/>
<circle cx="1221.1" cy="886.9" r="2" fill="#9ad080"/>
<circle cx="1264.1" cy="886.9" r="2" fill="#e03020"/>
<text x="1226.7" y="889.1" font-size="4" fill="#d4ecd4" text-anchor="middle" transform="rotate(90 1226.7 889.1)" class="m">IO7</text>
<text x="1259.1" y="886.9" font-size="4" fill="#d4ecd4" text-anchor="middle" transform="rotate(90 1259.1 886.9)" class="m">IO27</text>
<rect x="1227.8" y="895.8" width="30" height="10.4" fill="#404040" rx="2.2"/>
<rect x="1233.1" y="898.4" width="5.2" height="5.2" fill="#b8a070"/>
<rect x="1234.5" y="899.8" width="2.4" height="2.4" fill="#6e5a38"/>
<rect x="1247.3" y="898.4" width="5.2" height="5.2" fill="#b8a070"/>
<rect x="1248.7" y="899.8" width="2.4" height="2.4" fill="#6e5a38"/>
<circle cx="1221.1" cy="901" r="2" fill="#9ad080"/>
<circle cx="1264.1" cy="901" r="2" fill="#9ad080"/>
<text x="1226.7" y="903.2" font-size="4" fill="#d4ecd4" text-anchor="middle" transform="rotate(90 1226.7 903.2)" class="m">IO8</text>
<text x="1259.1" y="901" font-size="4" fill="#d4ecd4" text-anchor="middle" transform="rotate(90 1259.1 901)" class="m">IO28</text>
<rect x="1227.8" y="910" width="30" height="10.4" fill="#404040" rx="2.2"/>
<rect x="1233.1" y="912.6" width="5.2" height="5.2" fill="#b8a070"/>
<rect x="1234.5" y="914" width="2.4" height="2.4" fill="#6e5a38"/>
<rect x="1247.3" y="912.6" width="5.2" height="5.2" fill="#b8a070"/>
<rect x="1248.7" y="914" width="2.4" height="2.4" fill="#6e5a38"/>
<circle cx="1221.1" cy="915.2" r="2" fill="#9ad080"/>
<circle cx="1264.1" cy="915.2" r="2" fill="#e03020"/>
<text x="1226.7" y="917.4" font-size="4" fill="#d4ecd4" text-anchor="middle" transform="rotate(90 1226.7 917.4)" class="m">IO9</text>
<text x="1259.1" y="915.2" font-size="4" fill="#d4ecd4" text-anchor="middle" transform="rotate(90 1259.1 915.2)" class="m">IO29</text>
<rect x="1227.8" y="924.1" width="30" height="10.4" fill="#404040" rx="2.2"/>
<rect x="1233.1" y="926.7" width="5.2" height="5.2" fill="#b8a070"/>
<rect x="1234.5" y="928.1" width="2.4" height="2.4" fill="#6e5a38"/>
<rect x="1247.3" y="926.7" width="5.2" height="5.2" fill="#b8a070"/>
<rect x="1248.7" y="928.1" width="2.4" height="2.4" fill="#6e5a38"/>
<circle cx="1221.1" cy="929.3" r="2" fill="#e03020"/>
<circle cx="1264.1" cy="929.3" r="2" fill="#9ad080"/>
<text x="1226.7" y="931.5" font-size="4" fill="#d4ecd4" text-anchor="middle" transform="rotate(90 1226.7 931.5)" class="m">IO10</text>
<text x="1259.1" y="929.3" font-size="4" fill="#d4ecd4" text-anchor="middle" transform="rotate(90 1259.1 929.3)" class="m">IO30</text>
<rect x="1227.8" y="938.3" width="30" height="10.4" fill="#404040" rx="2.2"/>
<rect x="1233.1" y="940.9" width="5.2" height="5.2" fill="#b8a070"/>
<rect x="1234.5" y="942.3" width="2.4" height="2.4" fill="#6e5a38"/>
<rect x="1247.3" y="940.9" width="5.2" height="5.2" fill="#b8a070"/>
<rect x="1248.7" y="942.3" width="2.4" height="2.4" fill="#6e5a38"/>
<circle cx="1221.1" cy="943.5" r="2" fill="#e03020"/>
<circle cx="1264.1" cy="943.5" r="2" fill="#9ad080"/>
<text x="1226.7" y="945.7" font-size="4" fill="#d4ecd4" text-anchor="middle" transform="rotate(90 1226.7 945.7)" class="m">IO11</text>
<text x="1259.1" y="943.5" font-size="4" fill="#d4ecd4" text-anchor="middle" transform="rotate(90 1259.1 943.5)" class="m">IO31</text>
<rect x="1227.8" y="952.4" width="30" height="10.4" fill="#404040" rx="2.2"/>
<rect x="1233.1" y="955" width="5.2" height="5.2" fill="#b8a070"/>
<rect x="1234.5" y="956.4" width="2.4" height="2.4" fill="#6e5a38"/>
<rect x="1247.3" y="955" width="5.2" height="5.2" fill="#b8a070"/>
<rect x="1248.7" y="956.4" width="2.4" height="2.4" fill="#6e5a38"/>
<circle cx="1221.1" cy="957.6" r="2" fill="#e03020"/>
<circle cx="1264.1" cy="957.6" r="2" fill="#e03020"/>
<text x="1226.7" y="959.9" font-size="4" fill="#d4ecd4" text-anchor="middle" transform="rotate(90 1226.7 959.9)" class="m">IO12</text>
<text x="1259.1" y="957.6" font-size="4" fill="#d4ecd4" text-anchor="middle" transform="rotate(90 1259.1 957.6)" class="m">IO32</text>
<rect x="1227.8" y="966.6" width="30" height="10.4" fill="#404040" rx="2.2"/>
<rect x="1233.1" y="969.2" width="5.2" height="5.2" fill="#b8a070"/>
<rect x="1234.5" y="970.6" width="2.4" height="2.4" fill="#6e5a38"/>
<rect x="1247.3" y="969.2" width="5.2" height="5.2" fill="#b8a070"/>
<rect x="1248.7" y="970.6" width="2.4" height="2.4" fill="#6e5a38"/>
<circle cx="1221.1" cy="971.8" r="2" fill="#e03020"/>
<circle cx="1264.1" cy="971.8" r="2" fill="#e03020"/>
<text x="1226.7" y="974" font-size="4" fill="#d4ecd4" text-anchor="middle" transform="rotate(90 1226.7 974)" class="m">IO13</text>
<text x="1259.1" y="971.8" font-size="4" fill="#d4ecd4" text-anchor="middle" transform="rotate(90 1259.1 971.8)" class="m">IO33</text>
<rect x="1227.8" y="980.8" width="30" height="10.4" fill="#404040" rx="2.2"/>
<rect x="1233.1" y="983.4" width="5.2" height="5.2" fill="#b8a070"/>
<rect x="1234.5" y="984.8" width="2.4" height="2.4" fill="#6e5a38"/>
<rect x="1247.3" y="983.4" width="5.2" height="5.2" fill="#b8a070"/>
<rect x="1248.7" y="984.8" width="2.4" height="2.4" fill="#6e5a38"/>
<circle cx="1221.1" cy="986" r="2" fill="#9ad080"/>
<circle cx="1264.1" cy="986" r="2" fill="#9ad080"/>
<text x="1226.7" y="988.2" font-size="4" fill="#d4ecd4" text-anchor="middle" transform="rotate(90 1226.7 988.2)" class="m">IO14</text>
<text x="1259.1" y="986" font-size="4" fill="#d4ecd4" text-anchor="middle" transform="rotate(90 1259.1 986)" class="m">IO34</text>
<rect x="1227.8" y="994.9" width="30" height="10.4" fill="#404040" rx="2.2"/>
<rect x="1233.1" y="997.5" width="5.2" height="5.2" fill="#b8a070"/>
<rect x="1234.5" y="998.9" width="2.4" height="2.4" fill="#6e5a38"/>
<rect x="1247.3" y="997.5" width="5.2" height="5.2" fill="#b8a070"/>
<rect x="1248.7" y="998.9" width="2.4" height="2.4" fill="#6e5a38"/>
<circle cx="1221.1" cy="1000.1" r="2" fill="#e03020"/>
<circle cx="1264.1" cy="1000.1" r="2" fill="#e03020"/>
<text x="1226.7" y="1002.3" font-size="4" fill="#d4ecd4" text-anchor="middle" transform="rotate(90 1226.7 1002.3)" class="m">IO15</text>
<text x="1259.1" y="1000.1" font-size="4" fill="#d4ecd4" text-anchor="middle" transform="rotate(90 1259.1 1000.1)" class="m">IO35</text>
<rect x="1227.8" y="1009.1" width="30" height="10.4" fill="#404040" rx="2.2"/>
<rect x="1233.1" y="1011.7" width="5.2" height="5.2" fill="#b8a070"/>
<rect x="1234.5" y="1013.1" width="2.4" height="2.4" fill="#6e5a38"/>
<rect x="1247.3" y="1011.7" width="5.2" height="5.2" fill="#b8a070"/>
<rect x="1248.7" y="1013.1" width="2.4" height="2.4" fill="#6e5a38"/>
<circle cx="1221.1" cy="1014.3" r="2" fill="#e03020"/>
<circle cx="1264.1" cy="1014.3" r="2" fill="#9ad080"/>
<text x="1226.7" y="1016.5" font-size="4" fill="#d4ecd4" text-anchor="middle" transform="rotate(90 1226.7 1016.5)" class="m">IO16</text>
<text x="1259.1" y="1014.3" font-size="4" fill="#d4ecd4" text-anchor="middle" transform="rotate(90 1259.1 1014.3)" class="m">IO36</text>
<rect x="1227.8" y="1023.2" width="30" height="10.4" fill="#404040" rx="2.2"/>
<rect x="1233.1" y="1025.8" width="5.2" height="5.2" fill="#b8a070"/>
<rect x="1234.5" y="1027.2" width="2.4" height="2.4" fill="#6e5a38"/>
<rect x="1247.3" y="1025.8" width="5.2" height="5.2" fill="#b8a070"/>
<rect x="1248.7" y="1027.2" width="2.4" height="2.4" fill="#6e5a38"/>
<circle cx="1221.1" cy="1028.4" r="2" fill="#e03020"/>
<circle cx="1264.1" cy="1028.4" r="2" fill="#9ad080"/>
<text x="1226.7" y="1030.6" font-size="4" fill="#d4ecd4" text-anchor="middle" transform="rotate(90 1226.7 1030.6)" class="m">IO17</text>
<text x="1259.1" y="1028.4" font-size="4" fill="#d4ecd4" text-anchor="middle" transform="rotate(90 1259.1 1028.4)" class="m">IO37</text>
<rect x="1227.8" y="1037.4" width="30" height="10.4" fill="#404040" rx="2.2"/>
<rect x="1233.1" y="1040" width="5.2" height="5.2" fill="#b8a070"/>
<rect x="1234.5" y="1041.4" width="2.4" height="2.4" fill="#6e5a38"/>
<rect x="1247.3" y="1040" width="5.2" height="5.2" fill="#b8a070"/>
<rect x="1248.7" y="1041.4" width="2.4" height="2.4" fill="#6e5a38"/>
<circle cx="1221.1" cy="1042.6" r="2" fill="#e03020"/>
<circle cx="1264.1" cy="1042.6" r="2" fill="#e03020"/>
<text x="1226.7" y="1044.8" font-size="4" fill="#d4ecd4" text-anchor="middle" transform="rotate(90 1226.7 1044.8)" class="m">IO18</text>
<text x="1259.1" y="1042.6" font-size="4" fill="#d4ecd4" text-anchor="middle" transform="rotate(90 1259.1 1042.6)" class="m">IO38</text>
<rect x="1227.8" y="1051.5" width="30" height="10.4" fill="#404040" rx="2.2"/>
<rect x="1233.1" y="1054.1" width="5.2" height="5.2" fill="#b8a070"/>
<rect x="1234.5" y="1055.5" width="2.4" height="2.4" fill="#6e5a38"/>
<rect x="1247.3" y="1054.1" width="5.2" height="5.2" fill="#b8a070"/>
<rect x="1248.7" y="1055.5" width="2.4" height="2.4" fill="#6e5a38"/>
<circle cx="1221.1" cy="1056.7" r="2" fill="#e03020"/>
<circle cx="1264.1" cy="1056.7" r="2" fill="#9ad080"/>
<text x="1226.7" y="1058.9" font-size="4" fill="#d4ecd4" text-anchor="middle" transform="rotate(90 1226.7 1058.9)" class="m">IO19</text>
<text x="1259.1" y="1056.7" font-size="4" fill="#d4ecd4" text-anchor="middle" transform="rotate(90 1259.1 1056.7)" class="m">IO39</text>
<rect x="1227.8" y="1065.7" width="30" height="10.4" fill="#404040" rx="2.2"/>
<rect x="1233.1" y="1068.3" width="5.2" height="5.2" fill="#b8a070"/>
<rect x="1234.5" y="1069.7" width="2.4" height="2.4" fill="#6e5a38"/>
<rect x="1247.3" y="1068.3" width="5.2" height="5.2" fill="#b8a070"/>
<rect x="1248.7" y="1069.7" width="2.4" height="2.4" fill="#6e5a38"/>
<circle cx="1221.1" cy="1070.9" r="2" fill="#e03020"/>
<circle cx="1264.1" cy="1070.9" r="2" fill="#e03020"/>
<text x="1226.7" y="1073.1" font-size="4" fill="#d4ecd4" text-anchor="middle" transform="rotate(90 1226.7 1073.1)" class="m">IO20</text>
<text x="1259.1" y="1070.9" font-size="4" fill="#d4ecd4" text-anchor="middle" transform="rotate(90 1259.1 1070.9)" class="m">IO40</text>
<rect x="1227.8" y="1079.8" width="30" height="10.4" fill="#404040" rx="2.2"/>
<rect x="1233.1" y="1082.4" width="5.2" height="5.2" fill="#b8a070"/>
<rect x="1234.5" y="1083.8" width="2.4" height="2.4" fill="#6e5a38"/>
<rect x="1247.3" y="1082.4" width="5.2" height="5.2" fill="#b8a070"/>
<rect x="1248.7" y="1083.8" width="2.4" height="2.4" fill="#6e5a38"/>
<circle cx="1221.1" cy="1085" r="2" fill="#9ad080"/>
<circle cx="1264.1" cy="1085" r="2" fill="#e03020"/>
<text x="1226.7" y="1087.2" font-size="4" fill="#d4ecd4" text-anchor="middle" transform="rotate(90 1226.7 1087.2)" class="m">IO21</text>
<text x="1259.1" y="1085" font-size="4" fill="#d4ecd4" text-anchor="middle" transform="rotate(90 1259.1 1085)" class="m">IO41</text>
<text x="1249" y="762.2" font-size="5.6" fill="#d4ecd4" transform="rotate(90 1249 762.2)" class="m" font-weight="bold">Raspberry Pi</text>
<text x="1241.2" y="762.2" font-size="5.6" fill="#d4ecd4" transform="rotate(90 1241.2 762.2)" class="m" font-weight="bold">40 pin GPIO</text>
<text x="1233.5" y="762.2" font-size="5.6" fill="#d4ecd4" transform="rotate(90 1233.5 762.2)" class="m" font-weight="bold">connector</text>
<rect x="846" y="922.2" width="219.9" height="169.4" fill="#1764c8"/>
<circle cx="860.4" cy="936.1" r="9.3" fill="#fdfefd"/>
<circle cx="1051.8" cy="936.1" r="9.3" fill="#fdfefd"/>
<circle cx="860.4" cy="1078" r="9.3" fill="#fdfefd"/>
<circle cx="1051.8" cy="1078" r="9.3" fill="#fdfefd"/>
<rect x="873.3" y="931.1" width="37" height="10.8" fill="#4a80d8" rx="2.5" stroke="#f4f8ff" stroke-width="1.3"/>
<path d="M849.6,954.3 L853.6,950.5 L857.6,954.3 L859.9,955 L859.9,960.6 L857.6,964.9 L859.9,969.1 L859.9,974.7 L857.6,979 L859.9,983.3 L859.9,988.9 L857.6,993.2 L859.9,997.5 L859.9,1003 L857.6,1007.3 L859.9,1011.6 L859.9,1017.2 L857.6,1021.5 L859.9,1025.8 L859.9,1031.3 L857.6,1035.6 L859.9,1039.9 L859.9,1045.5 L857.6,1049.8 L859.9,1054 L859.9,1059.6 L857.6,1060.3 L853.6,1064.1 L849.6,1060.3 L847.3,1059.6 L847.3,1054 L849.6,1049.8 L847.3,1045.5 L847.3,1039.9 L849.6,1035.6 L847.3,1031.3 L847.3,1025.8 L849.6,1021.5 L847.3,1017.2 L847.3,1011.6 L849.6,1007.3 L847.3,1003 L847.3,997.5 L849.6,993.2 L847.3,988.9 L847.3,983.3 L849.6,979 L847.3,974.7 L847.3,969.1 L849.6,964.9 L847.3,960.6 L847.3,955 L849.6,954.3 Z" fill="#1764c8" stroke="#f4f8ff" stroke-width="1"/>
<circle cx="853.6" cy="957.8" r="3.4" fill="#1a50a8" stroke="#9ab8e8" stroke-width="0.9"/>
<circle cx="853.6" cy="971.9" r="3.4" fill="#1a50a8" stroke="#9ab8e8" stroke-width="0.9"/>
<circle cx="853.6" cy="986.1" r="3.4" fill="#1a50a8" stroke="#9ab8e8" stroke-width="0.9"/>
<circle cx="853.6" cy="1000.2" r="3.4" fill="#1a50a8" stroke="#9ab8e8" stroke-width="0.9"/>
<circle cx="853.6" cy="1014.4" r="3.4" fill="#1a50a8" stroke="#9ab8e8" stroke-width="0.9"/>
<circle cx="853.6" cy="1028.5" r="3.4" fill="#1a50a8" stroke="#9ab8e8" stroke-width="0.9"/>
<circle cx="853.6" cy="1042.7" r="3.4" fill="#1a50a8" stroke="#9ab8e8" stroke-width="0.9"/>
<circle cx="853.6" cy="1056.8" r="3.4" fill="#1a50a8" stroke="#9ab8e8" stroke-width="0.9"/>
<rect x="872.9" y="947.1" width="16.3" height="5" fill="#363636"/>
<rect x="893.2" y="947.1" width="16.3" height="5" fill="#363636"/>
<rect x="874" y="958" width="5.6" height="16.3" fill="#363636"/>
<rect x="886" y="958" width="5.8" height="16.3" fill="#363636"/>
<rect x="899.9" y="958" width="5.7" height="16.3" fill="#363636"/>
<rect x="911.5" y="958" width="5.2" height="16.3" fill="#363636"/>
<rect x="874.9" y="1031.7" width="5" height="16.3" fill="#363636"/>
<rect x="887.1" y="1031.7" width="5" height="16.3" fill="#363636"/>
<rect x="901" y="1031.7" width="5.2" height="16.3" fill="#363636"/>
<rect x="912.4" y="1031.7" width="5.2" height="16.3" fill="#363636"/>
<rect x="874.1" y="1058.3" width="5.5" height="16" fill="#363636"/>
<rect x="883.6" y="1058.3" width="5.2" height="16" fill="#363636"/>
<rect x="893" y="1058.3" width="5.2" height="16" fill="#363636"/>
<rect x="902.8" y="1058.3" width="5.2" height="16" fill="#363636"/>
<rect x="934.2" y="980.9" width="16.6" height="5" fill="#363636"/>
<rect x="934.2" y="990.4" width="16.6" height="5" fill="#363636"/>
<rect x="934.2" y="1000" width="16.6" height="5" fill="#363636"/>
<rect x="934.2" y="1009.4" width="16.6" height="5" fill="#363636"/>
<rect x="934.2" y="1018.6" width="16.6" height="5" fill="#363636"/>
<rect x="934.2" y="1028.3" width="16.6" height="5" fill="#363636"/>
<path d="M876.5,985.9 H910.7 V1023 H876.5 L872.1,1018.6 V990.3 Z" fill="#ffffff"/>
<rect x="883" y="984.9" width="12.6" height="39.1" fill="#1764c8"/>
<rect x="871.1" y="996.5" width="40.6" height="16" fill="#1764c8"/>
<path d="M877.7,988.7 H908.7 V1020.9 H877.7 L875.5,1018.7 V990.9 Z" fill="#303030"/>
<circle cx="890.4" cy="985.1" r="2.1" fill="#ffffff"/>
<circle cx="924.8" cy="1019.7" r="2.1" fill="#ffffff"/>
<circle cx="1037.3" cy="994.6" r="2.3" fill="#ffffff"/>
<circle cx="1037.3" cy="1019.4" r="2.3" fill="#ffffff"/>
<path d="M982.4,983.7 L978.6,988.2 H963.6 V1019.7 H978.6 A31.6,31.6 0 0 0 991.9,1031.4" fill="none" stroke="#ffffff" stroke-width="1"/>
<path d="M1012.4,978.2 A31.6,31.6 0 0 1 1030.6,1012" fill="none" stroke="#ffffff" stroke-width="1"/>
<path d="M1022.9,1024.7 A31.6,31.6 0 0 1 1012.9,1031.4" fill="none" stroke="#ffffff" stroke-width="1"/>
<text x="1058.4" y="1040.3" font-size="13.7" fill="#ffffff" transform="rotate(-90 1058.4 1040.3)" textLength="56.6" lengthAdjust="spacingAndGlyphs" class="lb">RFID-RC522</text>
<rect x="1825" y="787.1" width="462.8" height="57.8" fill="#1f2b5e"/>
<rect x="1824.7" y="795.7" width="11.8" height="11.2" fill="#3a8a2a"/>
<circle cx="1830.4" cy="801.3" r="4.3" fill="#245a1c" stroke="#c4d43c" stroke-width="1.1"/>
<rect x="1824.7" y="810.4" width="11.8" height="11.2" fill="#3a8a2a"/>
<circle cx="1830.4" cy="816" r="4.3" fill="#245a1c" stroke="#c4d43c" stroke-width="1.1"/>
<rect x="1824.7" y="825.3" width="11.8" height="11.2" fill="#3a8a2a"/>
<circle cx="1830.4" cy="830.9" r="4.3" fill="#245a1c" stroke="#c4d43c" stroke-width="1.1"/>
<text x="1846.6" y="796.7" font-size="7" fill="#e8ecff" text-anchor="middle" transform="rotate(-90 1846.6 796.7)" textLength="15" lengthAdjust="spacingAndGlyphs" class="m">GND</text>
<text x="1846.6" y="815.3" font-size="7" fill="#e8ecff" text-anchor="middle" transform="rotate(-90 1846.6 815.3)" textLength="15" lengthAdjust="spacingAndGlyphs" class="m">Din</text>
<text x="1846.6" y="835.1" font-size="7" fill="#e8ecff" text-anchor="middle" transform="rotate(-90 1846.6 835.1)" textLength="15" lengthAdjust="spacingAndGlyphs" class="m">+5V</text>
<path d="M1848.7,810 v12.4 l6.6,-6.2 z" fill="#ffffff"/>
<text x="1903.6" y="816.3" font-size="7" fill="#e8ecff" text-anchor="middle" transform="rotate(-90 1903.6 816.3)" textLength="35.5" lengthAdjust="spacingAndGlyphs" class="m">WS2812B</text>
<rect x="1908" y="798.9" width="7" height="3" fill="#c8b878"/>
<rect x="1928.4" y="798.9" width="7" height="3" fill="#c8b878"/>
<rect x="1908" y="830.3" width="7" height="3" fill="#c8b878"/>
<rect x="1928.4" y="830.3" width="7" height="3" fill="#c8b878"/>
<rect x="1906.8" y="800.6" width="30.1" height="30.8" fill="#dedede"/>
<circle cx="1921.8" cy="816" r="11.2" fill="#ececec" stroke="#c4c4c4" stroke-width="0.7"/>
<path d="M1913,817.6 h17 M1921.8,817.6 v-8 M1916,823.1 h12" fill="none" stroke="#cfcfcf" stroke-width="1.6"/>
<rect x="1918.3" y="810.3" width="3.8" height="4.6" fill="#a03828"/>
<rect x="1939.2" y="808.9" width="9.5" height="17.3" fill="none" stroke="#d8d8d8" stroke-width="0.7"/>
<rect x="1941" y="811.1" width="6.4" height="13" fill="#c8c0a8"/>
<rect x="1941" y="813.7" width="6.4" height="7.8" fill="#4a3c30"/>
<text x="2169.7" y="816.3" font-size="7" fill="#e8ecff" text-anchor="middle" transform="rotate(-90 2169.7 816.3)" textLength="35.5" lengthAdjust="spacingAndGlyphs" class="m">WS2812B</text>
<rect x="2174.1" y="798.9" width="7" height="3" fill="#c8b878"/>
<rect x="2194.5" y="798.9" width="7" height="3" fill="#c8b878"/>
<rect x="2174.1" y="830.3" width="7" height="3" fill="#c8b878"/>
<rect x="2194.5" y="830.3" width="7" height="3" fill="#c8b878"/>
<rect x="2172.9" y="800.6" width="30.1" height="30.8" fill="#dedede"/>
<circle cx="2187.9" cy="816" r="11.2" fill="#ececec" stroke="#c4c4c4" stroke-width="0.7"/>
<path d="M2179.1,817.6 h17 M2187.9,817.6 v-8 M2182.1,823.1 h12" fill="none" stroke="#cfcfcf" stroke-width="1.6"/>
<rect x="2184.4" y="810.3" width="3.8" height="4.6" fill="#a03828"/>
<rect x="2205.3" y="808.9" width="9.5" height="17.3" fill="none" stroke="#d8d8d8" stroke-width="0.7"/>
<rect x="2207.1" y="811.1" width="6.4" height="13" fill="#c8c0a8"/>
<rect x="2207.1" y="813.7" width="6.4" height="7.8" fill="#4a3c30"/>
<line x1="2021" y1="787.1" x2="2021" y2="844.9" stroke="#8a92b4" stroke-width="0.7"/>
<rect x="2009.1" y="796.6" width="23.8" height="9.4" fill="#e8a25c" rx="4.7"/>
<rect x="2009.1" y="811.3" width="23.8" height="9.4" fill="#e8a25c" rx="4.7"/>
<rect x="2009.1" y="826.2" width="23.8" height="9.4" fill="#e8a25c" rx="4.7"/>
<circle cx="2021" cy="816" r="1" fill="#ffffff"/>
<line x1="2091.8" y1="787.1" x2="2091.8" y2="844.9" stroke="#8a92b4" stroke-width="0.7"/>
<rect x="2079.9" y="796.6" width="23.8" height="9.4" fill="#e8a25c" rx="4.7"/>
<rect x="2079.9" y="811.3" width="23.8" height="9.4" fill="#e8a25c" rx="4.7"/>
<rect x="2079.9" y="826.2" width="23.8" height="9.4" fill="#e8a25c" rx="4.7"/>
<circle cx="2091.8" cy="816" r="1" fill="#ffffff"/>
<text x="2004" y="796.7" font-size="7" fill="#e8ecff" text-anchor="middle" transform="rotate(-90 2004 796.7)" textLength="15" lengthAdjust="spacingAndGlyphs" class="m">GND</text>
<text x="2004" y="815.3" font-size="7" fill="#e8ecff" text-anchor="middle" transform="rotate(-90 2004 815.3)" textLength="10" lengthAdjust="spacingAndGlyphs" class="m">DO</text>
<text x="2004" y="835.1" font-size="7" fill="#e8ecff" text-anchor="middle" transform="rotate(-90 2004 835.1)" textLength="15" lengthAdjust="spacingAndGlyphs" class="m">+5V</text>
<text x="2045.6" y="796.7" font-size="7" fill="#e8ecff" text-anchor="middle" transform="rotate(-90 2045.6 796.7)" textLength="15" lengthAdjust="spacingAndGlyphs" class="m">GND</text>
<text x="2045.6" y="815.3" font-size="7" fill="#e8ecff" text-anchor="middle" transform="rotate(-90 2045.6 815.3)" textLength="15" lengthAdjust="spacingAndGlyphs" class="m">Din</text>
<text x="2045.6" y="835.1" font-size="7" fill="#e8ecff" text-anchor="middle" transform="rotate(-90 2045.6 835.1)" textLength="15" lengthAdjust="spacingAndGlyphs" class="m">+5V</text>
<path d="M2047.7,810 v12.4 l6.6,-6.2 z" fill="#ffffff"/>
<text x="2076" y="796.7" font-size="7" fill="#e8ecff" text-anchor="middle" transform="rotate(-90 2076 796.7)" textLength="15" lengthAdjust="spacingAndGlyphs" class="m">GND</text>
<text x="2076" y="815.3" font-size="7" fill="#e8ecff" text-anchor="middle" transform="rotate(-90 2076 815.3)" textLength="10" lengthAdjust="spacingAndGlyphs" class="m">DO</text>
<text x="2076" y="835.1" font-size="7" fill="#e8ecff" text-anchor="middle" transform="rotate(-90 2076 835.1)" textLength="15" lengthAdjust="spacingAndGlyphs" class="m">+5V</text>
<text x="2115.3" y="796.7" font-size="7" fill="#e8ecff" text-anchor="middle" transform="rotate(-90 2115.3 796.7)" textLength="15" lengthAdjust="spacingAndGlyphs" class="m">GND</text>
<text x="2115.3" y="815.3" font-size="7" fill="#e8ecff" text-anchor="middle" transform="rotate(-90 2115.3 815.3)" textLength="15" lengthAdjust="spacingAndGlyphs" class="m">Din</text>
<text x="2115.3" y="835.1" font-size="7" fill="#e8ecff" text-anchor="middle" transform="rotate(-90 2115.3 835.1)" textLength="15" lengthAdjust="spacingAndGlyphs" class="m">+5V</text>
<path d="M2118,810 v12.4 l6.6,-6.2 z" fill="#ffffff"/>
<text x="2270.6" y="796.7" font-size="7" fill="#e8ecff" text-anchor="middle" transform="rotate(-90 2270.6 796.7)" textLength="15" lengthAdjust="spacingAndGlyphs" class="m">GND</text>
<text x="2270.6" y="815.3" font-size="7" fill="#e8ecff" text-anchor="middle" transform="rotate(-90 2270.6 815.3)" textLength="10" lengthAdjust="spacingAndGlyphs" class="m">DO</text>
<text x="2270.6" y="835.1" font-size="7" fill="#e8ecff" text-anchor="middle" transform="rotate(-90 2270.6 835.1)" textLength="15" lengthAdjust="spacingAndGlyphs" class="m">+5V</text>
<rect x="2253.9" y="832.5" width="7.1" height="9.5" fill="none" stroke="#d8d8e8" stroke-width="0.7"/>
<text x="2257.5" y="840.3" font-size="6.2" fill="#d8d8e8" text-anchor="middle" class="m">R</text>
<rect x="2276.4" y="796.3" width="12.6" height="10" fill="#e8623c" rx="2.5"/>
<rect x="2276.4" y="811" width="12.6" height="10" fill="#e8623c" rx="2.5"/>
<rect x="2276.4" y="825.9" width="12.6" height="10" fill="#e8623c" rx="2.5"/>
<line x1="2062" y1="781.1" x2="2041.8" y2="851" stroke="#000000" stroke-width="3"/>
<line x1="2075.7" y1="781.1" x2="2055.5" y2="851" stroke="#000000" stroke-width="3"/>
<rect x="554" y="1167.3" width="713.3" height="177" fill="#a0a0a0"/>
<rect x="565.3" y="1177.1" width="154.4" height="154.2" fill="#000000"/>
<rect x="590.3" y="1176.1" width="50" height="1.8" fill="#a0a0a0"/>
<rect x="667.3" y="1330.3" width="50" height="1.8" fill="#a0a0a0"/>
<rect x="564.3" y="1204.1" width="1.8" height="50" fill="#a0a0a0"/>
<rect x="718.7" y="1252.1" width="1.8" height="50" fill="#a0a0a0"/>
<rect x="743.6" y="1177.1" width="154.4" height="154.2" fill="#000000"/>
<rect x="768.6" y="1176.1" width="50" height="1.8" fill="#a0a0a0"/>
<rect x="845.6" y="1330.3" width="50" height="1.8" fill="#a0a0a0"/>
<rect x="742.6" y="1204.1" width="1.8" height="50" fill="#a0a0a0"/>
<rect x="897" y="1252.1" width="1.8" height="50" fill="#a0a0a0"/>
<rect x="921.9" y="1177.1" width="154.4" height="154.2" fill="#000000"/>
<rect x="946.9" y="1176.1" width="50" height="1.8" fill="#a0a0a0"/>
<rect x="1023.9" y="1330.3" width="50" height="1.8" fill="#a0a0a0"/>
<rect x="920.9" y="1204.1" width="1.8" height="50" fill="#a0a0a0"/>
<rect x="1075.3" y="1252.1" width="1.8" height="50" fill="#a0a0a0"/>
<rect x="1100.2" y="1177.1" width="154.4" height="154.2" fill="#000000"/>
<rect x="1125.2" y="1176.1" width="50" height="1.8" fill="#a0a0a0"/>
<rect x="1202.2" y="1330.3" width="50" height="1.8" fill="#a0a0a0"/>
<rect x="1099.2" y="1204.1" width="1.8" height="50" fill="#a0a0a0"/>
<rect x="1253.6" y="1252.1" width="1.8" height="50" fill="#a0a0a0"/>
<g fill="#ffffff"><circle cx="573.4" cy="1186.2" r="6.3"/><circle cx="593.1" cy="1186.2" r="6.3"/><circle cx="612.8" cy="1186.2" r="6.3"/><circle cx="632.6" cy="1186.2" r="6.3"/><circle cx="652.3" cy="1186.2" r="6.3"/><circle cx="672" cy="1186.2" r="6.3"/><circle cx="691.7" cy="1186.2" r="6.3"/><circle cx="711.4" cy="1186.2" r="6.3"/><circle cx="573.4" cy="1205.8" r="6.3"/><circle cx="593.1" cy="1205.8" r="6.3"/><circle cx="612.8" cy="1205.8" r="6.3"/><circle cx="632.6" cy="1205.8" r="6.3"/><circle cx="652.3" cy="1205.8" r="6.3"/><circle cx="672" cy="1205.8" r="6.3"/><circle cx="691.7" cy="1205.8" r="6.3"/><circle cx="711.4" cy="1205.8" r="6.3"/><circle cx="573.4" cy="1225.4" r="6.3"/><circle cx="593.1" cy="1225.4" r="6.3"/><circle cx="612.8" cy="1225.4" r="6.3"/><circle cx="632.6" cy="1225.4" r="6.3"/><circle cx="652.3" cy="1225.4" r="6.3"/><circle cx="672" cy="1225.4" r="6.3"/><circle cx="691.7" cy="1225.4" r="6.3"/><circle cx="711.4" cy="1225.4" r="6.3"/><circle cx="573.4" cy="1245.1" r="6.3"/><circle cx="593.1" cy="1245.1" r="6.3"/><circle cx="612.8" cy="1245.1" r="6.3"/><circle cx="632.6" cy="1245.1" r="6.3"/><circle cx="652.3" cy="1245.1" r="6.3"/><circle cx="672" cy="1245.1" r="6.3"/><circle cx="691.7" cy="1245.1" r="6.3"/><circle cx="711.4" cy="1245.1" r="6.3"/><circle cx="573.4" cy="1264.7" r="6.3"/><circle cx="593.1" cy="1264.7" r="6.3"/><circle cx="612.8" cy="1264.7" r="6.3"/><circle cx="632.6" cy="1264.7" r="6.3"/><circle cx="652.3" cy="1264.7" r="6.3"/><circle cx="672" cy="1264.7" r="6.3"/><circle cx="691.7" cy="1264.7" r="6.3"/><circle cx="711.4" cy="1264.7" r="6.3"/><circle cx="573.4" cy="1284.3" r="6.3"/><circle cx="593.1" cy="1284.3" r="6.3"/><circle cx="612.8" cy="1284.3" r="6.3"/><circle cx="632.6" cy="1284.3" r="6.3"/><circle cx="652.3" cy="1284.3" r="6.3"/><circle cx="672" cy="1284.3" r="6.3"/><circle cx="691.7" cy="1284.3" r="6.3"/><circle cx="711.4" cy="1284.3" r="6.3"/><circle cx="573.4" cy="1303.9" r="6.3"/><circle cx="593.1" cy="1303.9" r="6.3"/><circle cx="612.8" cy="1303.9" r="6.3"/><circle cx="632.6" cy="1303.9" r="6.3"/><circle cx="652.3" cy="1303.9" r="6.3"/><circle cx="672" cy="1303.9" r="6.3"/><circle cx="691.7" cy="1303.9" r="6.3"/><circle cx="711.4" cy="1303.9" r="6.3"/><circle cx="573.4" cy="1323.5" r="6.3"/><circle cx="593.1" cy="1323.5" r="6.3"/><circle cx="612.8" cy="1323.5" r="6.3"/><circle cx="632.6" cy="1323.5" r="6.3"/><circle cx="652.3" cy="1323.5" r="6.3"/><circle cx="672" cy="1323.5" r="6.3"/><circle cx="691.7" cy="1323.5" r="6.3"/><circle cx="711.4" cy="1323.5" r="6.3"/><circle cx="751.7" cy="1186.2" r="6.3"/><circle cx="771.4" cy="1186.2" r="6.3"/><circle cx="791.1" cy="1186.2" r="6.3"/><circle cx="810.9" cy="1186.2" r="6.3"/><circle cx="830.6" cy="1186.2" r="6.3"/><circle cx="850.3" cy="1186.2" r="6.3"/><circle cx="870" cy="1186.2" r="6.3"/><circle cx="889.7" cy="1186.2" r="6.3"/><circle cx="751.7" cy="1205.8" r="6.3"/><circle cx="771.4" cy="1205.8" r="6.3"/><circle cx="791.1" cy="1205.8" r="6.3"/><circle cx="810.9" cy="1205.8" r="6.3"/><circle cx="830.6" cy="1205.8" r="6.3"/><circle cx="850.3" cy="1205.8" r="6.3"/><circle cx="870" cy="1205.8" r="6.3"/><circle cx="889.7" cy="1205.8" r="6.3"/><circle cx="751.7" cy="1225.4" r="6.3"/><circle cx="771.4" cy="1225.4" r="6.3"/><circle cx="791.1" cy="1225.4" r="6.3"/><circle cx="810.9" cy="1225.4" r="6.3"/><circle cx="830.6" cy="1225.4" r="6.3"/><circle cx="850.3" cy="1225.4" r="6.3"/><circle cx="870" cy="1225.4" r="6.3"/><circle cx="889.7" cy="1225.4" r="6.3"/><circle cx="751.7" cy="1245.1" r="6.3"/><circle cx="771.4" cy="1245.1" r="6.3"/><circle cx="791.1" cy="1245.1" r="6.3"/><circle cx="810.9" cy="1245.1" r="6.3"/><circle cx="830.6" cy="1245.1" r="6.3"/><circle cx="850.3" cy="1245.1" r="6.3"/><circle cx="870" cy="1245.1" r="6.3"/><circle cx="889.7" cy="1245.1" r="6.3"/><circle cx="751.7" cy="1264.7" r="6.3"/><circle cx="771.4" cy="1264.7" r="6.3"/><circle cx="791.1" cy="1264.7" r="6.3"/><circle cx="810.9" cy="1264.7" r="6.3"/><circle cx="830.6" cy="1264.7" r="6.3"/><circle cx="850.3" cy="1264.7" r="6.3"/><circle cx="870" cy="1264.7" r="6.3"/><circle cx="889.7" cy="1264.7" r="6.3"/><circle cx="751.7" cy="1284.3" r="6.3"/><circle cx="771.4" cy="1284.3" r="6.3"/><circle cx="791.1" cy="1284.3" r="6.3"/><circle cx="810.9" cy="1284.3" r="6.3"/><circle cx="830.6" cy="1284.3" r="6.3"/><circle cx="850.3" cy="1284.3" r="6.3"/><circle cx="870" cy="1284.3" r="6.3"/><circle cx="889.7" cy="1284.3" r="6.3"/><circle cx="751.7" cy="1303.9" r="6.3"/><circle cx="771.4" cy="1303.9" r="6.3"/><circle cx="791.1" cy="1303.9" r="6.3"/><circle cx="810.9" cy="1303.9" r="6.3"/><circle cx="830.6" cy="1303.9" r="6.3"/><circle cx="850.3" cy="1303.9" r="6.3"/><circle cx="870" cy="1303.9" r="6.3"/><circle cx="889.7" cy="1303.9" r="6.3"/><circle cx="751.7" cy="1323.5" r="6.3"/><circle cx="771.4" cy="1323.5" r="6.3"/><circle cx="791.1" cy="1323.5" r="6.3"/><circle cx="810.9" cy="1323.5" r="6.3"/><circle cx="830.6" cy="1323.5" r="6.3"/><circle cx="850.3" cy="1323.5" r="6.3"/><circle cx="870" cy="1323.5" r="6.3"/><circle cx="889.7" cy="1323.5" r="6.3"/><circle cx="930" cy="1186.2" r="6.3"/><circle cx="949.7" cy="1186.2" r="6.3"/><circle cx="969.4" cy="1186.2" r="6.3"/><circle cx="989.2" cy="1186.2" r="6.3"/><circle cx="1008.9" cy="1186.2" r="6.3"/><circle cx="1028.6" cy="1186.2" r="6.3"/><circle cx="1048.3" cy="1186.2" r="6.3"/><circle cx="1068" cy="1186.2" r="6.3"/><circle cx="930" cy="1205.8" r="6.3"/><circle cx="949.7" cy="1205.8" r="6.3"/><circle cx="969.4" cy="1205.8" r="6.3"/><circle cx="989.2" cy="1205.8" r="6.3"/><circle cx="1008.9" cy="1205.8" r="6.3"/><circle cx="1028.6" cy="1205.8" r="6.3"/><circle cx="1048.3" cy="1205.8" r="6.3"/><circle cx="1068" cy="1205.8" r="6.3"/><circle cx="930" cy="1225.4" r="6.3"/><circle cx="949.7" cy="1225.4" r="6.3"/><circle cx="969.4" cy="1225.4" r="6.3"/><circle cx="989.2" cy="1225.4" r="6.3"/><circle cx="1008.9" cy="1225.4" r="6.3"/><circle cx="1028.6" cy="1225.4" r="6.3"/><circle cx="1048.3" cy="1225.4" r="6.3"/><circle cx="1068" cy="1225.4" r="6.3"/><circle cx="930" cy="1245.1" r="6.3"/><circle cx="949.7" cy="1245.1" r="6.3"/><circle cx="969.4" cy="1245.1" r="6.3"/><circle cx="989.2" cy="1245.1" r="6.3"/><circle cx="1008.9" cy="1245.1" r="6.3"/><circle cx="1028.6" cy="1245.1" r="6.3"/><circle cx="1048.3" cy="1245.1" r="6.3"/><circle cx="1068" cy="1245.1" r="6.3"/><circle cx="930" cy="1264.7" r="6.3"/><circle cx="949.7" cy="1264.7" r="6.3"/><circle cx="969.4" cy="1264.7" r="6.3"/><circle cx="989.2" cy="1264.7" r="6.3"/><circle cx="1008.9" cy="1264.7" r="6.3"/><circle cx="1028.6" cy="1264.7" r="6.3"/><circle cx="1048.3" cy="1264.7" r="6.3"/><circle cx="1068" cy="1264.7" r="6.3"/><circle cx="930" cy="1284.3" r="6.3"/><circle cx="949.7" cy="1284.3" r="6.3"/><circle cx="969.4" cy="1284.3" r="6.3"/><circle cx="989.2" cy="1284.3" r="6.3"/><circle cx="1008.9" cy="1284.3" r="6.3"/><circle cx="1028.6" cy="1284.3" r="6.3"/><circle cx="1048.3" cy="1284.3" r="6.3"/><circle cx="1068" cy="1284.3" r="6.3"/><circle cx="930" cy="1303.9" r="6.3"/><circle cx="949.7" cy="1303.9" r="6.3"/><circle cx="969.4" cy="1303.9" r="6.3"/><circle cx="989.2" cy="1303.9" r="6.3"/><circle cx="1008.9" cy="1303.9" r="6.3"/><circle cx="1028.6" cy="1303.9" r="6.3"/><circle cx="1048.3" cy="1303.9" r="6.3"/><circle cx="1068" cy="1303.9" r="6.3"/><circle cx="930" cy="1323.5" r="6.3"/><circle cx="949.7" cy="1323.5" r="6.3"/><circle cx="969.4" cy="1323.5" r="6.3"/><circle cx="989.2" cy="1323.5" r="6.3"/><circle cx="1008.9" cy="1323.5" r="6.3"/><circle cx="1028.6" cy="1323.5" r="6.3"/><circle cx="1048.3" cy="1323.5" r="6.3"/><circle cx="1068" cy="1323.5" r="6.3"/><circle cx="1108.3" cy="1186.2" r="6.3"/><circle cx="1128" cy="1186.2" r="6.3"/><circle cx="1147.7" cy="1186.2" r="6.3"/><circle cx="1167.5" cy="1186.2" r="6.3"/><circle cx="1187.2" cy="1186.2" r="6.3"/><circle cx="1206.9" cy="1186.2" r="6.3"/><circle cx="1226.6" cy="1186.2" r="6.3"/><circle cx="1246.3" cy="1186.2" r="6.3"/><circle cx="1108.3" cy="1205.8" r="6.3"/><circle cx="1128" cy="1205.8" r="6.3"/><circle cx="1147.7" cy="1205.8" r="6.3"/><circle cx="1167.5" cy="1205.8" r="6.3"/><circle cx="1187.2" cy="1205.8" r="6.3"/><circle cx="1206.9" cy="1205.8" r="6.3"/><circle cx="1226.6" cy="1205.8" r="6.3"/><circle cx="1246.3" cy="1205.8" r="6.3"/><circle cx="1108.3" cy="1225.4" r="6.3"/><circle cx="1128" cy="1225.4" r="6.3"/><circle cx="1147.7" cy="1225.4" r="6.3"/><circle cx="1167.5" cy="1225.4" r="6.3"/><circle cx="1187.2" cy="1225.4" r="6.3"/><circle cx="1206.9" cy="1225.4" r="6.3"/><circle cx="1226.6" cy="1225.4" r="6.3"/><circle cx="1246.3" cy="1225.4" r="6.3"/><circle cx="1108.3" cy="1245.1" r="6.3"/><circle cx="1128" cy="1245.1" r="6.3"/><circle cx="1147.7" cy="1245.1" r="6.3"/><circle cx="1167.5" cy="1245.1" r="6.3"/><circle cx="1187.2" cy="1245.1" r="6.3"/><circle cx="1206.9" cy="1245.1" r="6.3"/><circle cx="1226.6" cy="1245.1" r="6.3"/><circle cx="1246.3" cy="1245.1" r="6.3"/><circle cx="1108.3" cy="1264.7" r="6.3"/><circle cx="1128" cy="1264.7" r="6.3"/><circle cx="1147.7" cy="1264.7" r="6.3"/><circle cx="1167.5" cy="1264.7" r="6.3"/><circle cx="1187.2" cy="1264.7" r="6.3"/><circle cx="1206.9" cy="1264.7" r="6.3"/><circle cx="1226.6" cy="1264.7" r="6.3"/><circle cx="1246.3" cy="1264.7" r="6.3"/><circle cx="1108.3" cy="1284.3" r="6.3"/><circle cx="1128" cy="1284.3" r="6.3"/><circle cx="1147.7" cy="1284.3" r="6.3"/><circle cx="1167.5" cy="1284.3" r="6.3"/><circle cx="1187.2" cy="1284.3" r="6.3"/><circle cx="1206.9" cy="1284.3" r="6.3"/><circle cx="1226.6" cy="1284.3" r="6.3"/><circle cx="1246.3" cy="1284.3" r="6.3"/><circle cx="1108.3" cy="1303.9" r="6.3"/><circle cx="1128" cy="1303.9" r="6.3"/><circle cx="1147.7" cy="1303.9" r="6.3"/><circle cx="1167.5" cy="1303.9" r="6.3"/><circle cx="1187.2" cy="1303.9" r="6.3"/><circle cx="1206.9" cy="1303.9" r="6.3"/><circle cx="1226.6" cy="1303.9" r="6.3"/><circle cx="1246.3" cy="1303.9" r="6.3"/><circle cx="1108.3" cy="1323.5" r="6.3"/><circle cx="1128" cy="1323.5" r="6.3"/><circle cx="1147.7" cy="1323.5" r="6.3"/><circle cx="1167.5" cy="1323.5" r="6.3"/><circle cx="1187.2" cy="1323.5" r="6.3"/><circle cx="1206.9" cy="1323.5" r="6.3"/><circle cx="1226.6" cy="1323.5" r="6.3"/><circle cx="1246.3" cy="1323.5" r="6.3"/></g>
<line x1="732" y1="1167.3" x2="732" y2="1344.3" stroke="#a8a8a8" stroke-width="1"/>
<line x1="1089" y1="1167.3" x2="1089" y2="1344.3" stroke="#a8a8a8" stroke-width="1"/>
<rect x="1683.9" y="1233.5" width="10" height="4.2" fill="#9a9a9a"/>
<path d="M1683.9,1237.6 h10 l-2.8,3 h-4.4 z" fill="#9a9a9a"/>
<rect x="1686.7" y="1240" width="4.4" height="19.5" fill="#9c9c9c"/>
<rect x="1698" y="1233.5" width="10" height="4.2" fill="#9a9a9a"/>
<path d="M1698,1237.6 h10 l-2.8,3 h-4.4 z" fill="#9a9a9a"/>
<rect x="1700.8" y="1240" width="4.4" height="19.5" fill="#9c9c9c"/>
<rect x="1712" y="1233.5" width="10" height="4.2" fill="#9a9a9a"/>
<path d="M1712,1237.6 h10 l-2.8,3 h-4.4 z" fill="#9a9a9a"/>
<rect x="1714.8" y="1240" width="4.4" height="19.5" fill="#9c9c9c"/>
<path d="M1681.1,1158.2 H1724.4 L1729,1162.8 V1188 H1676.5 V1162.8 Z" fill="#999999"/>
<path d="M1681.1,1158.2 H1724.4 L1729,1162.8 H1676.5 Z" fill="#b4b4b4"/>
<ellipse cx="1703.1" cy="1173.4" rx="10.6" ry="6.9" fill="#c8c8c8"/>
<ellipse cx="1702.3" cy="1172.2" rx="10" ry="5.9" fill="#fdfefd"/>
<rect x="1676.5" y="1187.7" width="52.5" height="8.6" fill="#3c3c3c"/>
<rect x="1676.5" y="1196.1" width="52.5" height="6.2" fill="#000000"/>
<rect x="1676.5" y="1202.1" width="52.5" height="31.8" fill="#1a1a1a"/>
<path d="M1676.5,1214.5 a7,6.5 0 0 1 0,13 Z" fill="#2c2c2c"/>
<path d="M1729,1214.5 a7,5.5 0 0 0 0,11 Z" fill="#000"/>
<text x="1685.8" y="1208.5" font-size="7.8" fill="#9a9a9a" textLength="33.5" lengthAdjust="spacingAndGlyphs" class="lb" font-weight="bold">FET N</text>
<line x1="1632" y1="1353.6" x2="1688.4" y2="1353.6" stroke="#8c8c8c" stroke-width="2.4"/>
<rect x="1642.3" y="1346.8" width="35.5" height="13.6" fill="#dcc08c" rx="3.5"/>
<rect x="1642.3" y="1346.8" width="35.5" height="3.6" fill="#e8d4a8" rx="2"/>
<rect x="1647.2" y="1347" width="3.2" height="13.2" fill="#8a4a1c"/>
<rect x="1652.9" y="1347" width="3.2" height="13.2" fill="#d42020"/>
<rect x="1658.6" y="1347" width="3.2" height="13.2" fill="#d42020"/>
<rect x="1667.9" y="1347" width="3.2" height="13.2" fill="#c8a030"/>
<path d="M1830.3,1207 V1213.5 Q1830.3,1219.3 1837,1219.6 Q1844.3,1220 1844.2,1224" fill="none" stroke="#b02c1a" stroke-width="4.4" stroke-linecap="round" stroke-linejoin="round"/>
<line x1="1843.8" y1="1223.5" x2="1843.8" y2="1252" stroke="#b02c1a" stroke-width="4.4" stroke-linecap="round" stroke-linejoin="round"/>
<line x1="1823.5" y1="1227.2" x2="1843.6" y2="1225.8" stroke="#b02c1a" stroke-width="4.4" stroke-linecap="round" stroke-linejoin="round"/>
<line x1="1823.5" y1="1234.8" x2="1843.6" y2="1233.4" stroke="#b02c1a" stroke-width="4.4" stroke-linecap="round" stroke-linejoin="round"/>
<line x1="1823.5" y1="1242.3" x2="1843.6" y2="1240.9" stroke="#b02c1a" stroke-width="4.4" stroke-linecap="round" stroke-linejoin="round"/>
<line x1="1823.5" y1="1249.8" x2="1843.6" y2="1248.4" stroke="#b02c1a" stroke-width="4.4" stroke-linecap="round" stroke-linejoin="round"/>
<path d="M1844,1252 Q1843.5,1256.5 1836,1257.3 Q1831,1258 1829.5,1260.4 H1827" fill="none" stroke="#b02c1a" stroke-width="4.4" stroke-linecap="round" stroke-linejoin="round"/>
<path d="M1830.3,1207 V1213.5 Q1830.3,1219.3 1837,1219.6 Q1844.3,1220 1844.2,1224" fill="none" stroke="#cc3c26" stroke-width="2.8" stroke-linecap="round" stroke-linejoin="round"/>
<line x1="1843.8" y1="1223.5" x2="1843.8" y2="1252" stroke="#cc3c26" stroke-width="2.8" stroke-linecap="round" stroke-linejoin="round"/>
<line x1="1823.5" y1="1227.2" x2="1843.6" y2="1225.8" stroke="#cc3c26" stroke-width="2.8" stroke-linecap="round" stroke-linejoin="round"/>
<line x1="1823.5" y1="1234.8" x2="1843.6" y2="1233.4" stroke="#cc3c26" stroke-width="2.8" stroke-linecap="round" stroke-linejoin="round"/>
<line x1="1823.5" y1="1242.3" x2="1843.6" y2="1240.9" stroke="#cc3c26" stroke-width="2.8" stroke-linecap="round" stroke-linejoin="round"/>
<line x1="1823.5" y1="1249.8" x2="1843.6" y2="1248.4" stroke="#cc3c26" stroke-width="2.8" stroke-linecap="round" stroke-linejoin="round"/>
<path d="M1844,1252 Q1843.5,1256.5 1836,1257.3 Q1831,1258 1829.5,1260.4 H1827" fill="none" stroke="#cc3c26" stroke-width="2.8" stroke-linecap="round" stroke-linejoin="round"/>
<line x1="1830.3" y1="1201.5" x2="1830.3" y2="1207.7" stroke="#62b868" stroke-width="4"/>
<line x1="1813.4" y1="1260.4" x2="1827" y2="1260.4" stroke="#62b868" stroke-width="4"/>
<rect x="2221.4" y="1157.1" width="21.5" height="182.9" fill="#e6e6e6"/>
<rect x="2285" y="1240.7" width="21.9" height="16" fill="#fdd42c"/>
<rect x="2027.6" y="1198.1" width="59.9" height="101.5" fill="#fdd42c"/>
<rect x="2082.5" y="1198.1" width="5" height="101.5" fill="#eec428"/>
<rect x="2086.9" y="1194.9" width="198.6" height="107.9" fill="#fdd42c"/>
<path d="M2042,1198 l4,-3.4 h4 M2042,1299.6 l4,3.4 h4" fill="none" stroke="#fdd42c" stroke-width="1"/>
<line x1="2027.6" y1="1249" x2="2306.9" y2="1249" stroke="#f2c828" stroke-width="0.6" stroke-dasharray="1.5 2"/>
<rect x="1952.4" y="1202.9" width="75.4" height="92.2" fill="#d2d2d2"/>
<path d="M1952.6,1206.1 H1939 a4,4 0 0 0 -4,4 V1219 H1930 a4,4 0 0 0 -4,4 V1275 a4,4 0 0 0 4,4 H1935 V1288.6 a4,4 0 0 0 4,4 H1952.6 Z" fill="#4a4a4a"/>
<path d="M1926,1223 a4,4 0 0 1 4,-4 H1935 V1279 H1930 a4,4 0 0 1 -4,-4 Z" fill="#5a5a5a"/>
<ellipse cx="1942.8" cy="1201" rx="3.3" ry="5.6" fill="none" stroke="#e8a880" stroke-width="2"/>
<ellipse cx="1942.8" cy="1291.5" rx="3.3" ry="5.6" fill="none" stroke="#e8a880" stroke-width="2"/>
<text x="1994" y="1280.9" font-size="16" fill="#1a1a1a" transform="rotate(-90 1994 1280.9)" textLength="63.8" lengthAdjust="spacingAndGlyphs" class="m">DC 3-6V</text>
<rect x="2051.3" y="1362.2" width="381.6" height="308.9" fill="#1560dc" rx="4.5"/>
<rect x="2053.8" y="1372.8" width="376.6" height="13" fill="#0d48a2"/>
<rect x="2053.8" y="1648" width="376.6" height="12.8" fill="#4e87e4"/>
<rect x="0" y="0" width="135" height="118" fill="url(#dots)" clip-path="url(#bclip)" transform="translate(2273.3 1530.2)" />
<rect x="2067.1" y="1398.2" width="187.4" height="100.5" fill="#fde6c4"/>
<rect x="2067.1" y="1487.7" width="187.4" height="11" fill="#f7bb4e"/>
<path d="M2244,1398.2 h10.5 v10.5 z" fill="#1560dc"/>
<path d="M2244,1398.2 v10.5 h10.5 z" fill="#f0a830"/>
<rect x="2251.5" y="1495.7" width="0.9" height="0.9" fill="#c08820"/>
<rect x="2249.3" y="1495.7" width="0.9" height="0.9" fill="#c08820"/>
<rect x="2247.1" y="1495.7" width="0.9" height="0.9" fill="#c08820"/>
<rect x="2251.5" y="1493.5" width="0.9" height="0.9" fill="#c08820"/>
<rect x="2249.3" y="1493.5" width="0.9" height="0.9" fill="#c08820"/>
<rect x="2251.5" y="1491.3" width="0.9" height="0.9" fill="#c08820"/>
<rect x="2351" y="1399.2" width="66.2" height="56.3" fill="#fde6c4"/>
<rect x="2351" y="1444" width="66.2" height="11.5" fill="#f7bb4e"/>
<path d="M2406.7,1399.2 h10.5 v10.5 z" fill="#1560dc"/>
<path d="M2406.7,1399.2 v10.5 h10.5 z" fill="#f0a830"/>
<rect x="2414.2" y="1452.5" width="0.9" height="0.9" fill="#c08820"/>
<rect x="2412" y="1452.5" width="0.9" height="0.9" fill="#c08820"/>
<rect x="2409.8" y="1452.5" width="0.9" height="0.9" fill="#c08820"/>
<rect x="2414.2" y="1450.3" width="0.9" height="0.9" fill="#c08820"/>
<rect x="2412" y="1450.3" width="0.9" height="0.9" fill="#c08820"/>
<rect x="2414.2" y="1448.1" width="0.9" height="0.9" fill="#c08820"/>
<text x="2077.5" y="1426.8" font-size="18.2" fill="#8a8a8a" textLength="147.2" lengthAdjust="spacingAndGlyphs">oder: Lithium-Ion</text>
<text x="2077.5" y="1448.9" font-size="18.2" fill="#8a8a8a" textLength="89.5" lengthAdjust="spacingAndGlyphs">vhbw Akku</text>
<text x="2077.5" y="1471" font-size="18.2" fill="#8a8a8a" textLength="82.5" lengthAdjust="spacingAndGlyphs">7800mAh</text>
<text x="2361.6" y="1427" font-size="18.2" fill="#8a8a8a" textLength="37.5" lengthAdjust="spacingAndGlyphs">3.7V</text>
<text x="2145.4" y="1530.2" font-size="32" fill="#0b3f98" textLength="154.6" lengthAdjust="spacingAndGlyphs" class="dm" stroke="#0b3f98" stroke-width="0.45">6600mAh</text>
<rect x="862.4" y="1418.8" width="381.6" height="308.9" fill="#1560dc" rx="4.5"/>
<rect x="864.9" y="1429.4" width="376.6" height="13" fill="#0d48a2"/>
<rect x="864.9" y="1704.6" width="376.6" height="12.8" fill="#4e87e4"/>
<rect x="0" y="0" width="135" height="118" fill="url(#dots)" clip-path="url(#bclip)" transform="translate(1084.4 1586.8)" />
<rect x="872.5" y="1448.5" width="187.4" height="100.5" fill="#fde6c4"/>
<rect x="872.5" y="1538" width="187.4" height="11" fill="#f7bb4e"/>
<path d="M1049.4,1448.5 h10.5 v10.5 z" fill="#1560dc"/>
<path d="M1049.4,1448.5 v10.5 h10.5 z" fill="#f0a830"/>
<rect x="1056.9" y="1546" width="0.9" height="0.9" fill="#c08820"/>
<rect x="1054.7" y="1546" width="0.9" height="0.9" fill="#c08820"/>
<rect x="1052.5" y="1546" width="0.9" height="0.9" fill="#c08820"/>
<rect x="1056.9" y="1543.8" width="0.9" height="0.9" fill="#c08820"/>
<rect x="1054.7" y="1543.8" width="0.9" height="0.9" fill="#c08820"/>
<rect x="1056.9" y="1541.6" width="0.9" height="0.9" fill="#c08820"/>
<rect x="1161.1" y="1453.9" width="66.2" height="56.3" fill="#fde6c4"/>
<rect x="1161.1" y="1498.7" width="66.2" height="11.5" fill="#f7bb4e"/>
<path d="M1216.8,1453.9 h10.5 v10.5 z" fill="#1560dc"/>
<path d="M1216.8,1453.9 v10.5 h10.5 z" fill="#f0a830"/>
<rect x="1224.3" y="1507.2" width="0.9" height="0.9" fill="#c08820"/>
<rect x="1222.1" y="1507.2" width="0.9" height="0.9" fill="#c08820"/>
<rect x="1219.9" y="1507.2" width="0.9" height="0.9" fill="#c08820"/>
<rect x="1224.3" y="1505" width="0.9" height="0.9" fill="#c08820"/>
<rect x="1222.1" y="1505" width="0.9" height="0.9" fill="#c08820"/>
<rect x="1224.3" y="1502.8" width="0.9" height="0.9" fill="#c08820"/>
<text x="882.9" y="1477.1" font-size="18.2" fill="#8a8a8a" textLength="147.2" lengthAdjust="spacingAndGlyphs">oder: Lithium-Ion</text>
<text x="882.9" y="1499.2" font-size="18.2" fill="#8a8a8a" textLength="89.5" lengthAdjust="spacingAndGlyphs">vhbw Akku</text>
<text x="882.9" y="1521.3" font-size="18.2" fill="#8a8a8a" textLength="82.5" lengthAdjust="spacingAndGlyphs">7800mAh</text>
<text x="1171.7" y="1481.7" font-size="18.2" fill="#8a8a8a" textLength="37.5" lengthAdjust="spacingAndGlyphs">3.7V</text>
<text x="956.5" y="1586.8" font-size="32" fill="#0b3f98" textLength="154.6" lengthAdjust="spacingAndGlyphs" class="dm" stroke="#0b3f98" stroke-width="0.45">6600mAh</text>
<line x1="1794.3" y1="1509.4" x2="2051.5" y2="1509.4" stroke="#181818" stroke-width="6.6"/>
<line x1="1795.8" y1="1511.3" x2="2051.5" y2="1511.3" stroke="#8a8a8a" stroke-width="1.1"/>
<line x1="1794.3" y1="1523.6" x2="2051.5" y2="1523.6" stroke="#d01212" stroke-width="6.6"/>
<line x1="1795.8" y1="1525.5" x2="2051.5" y2="1525.5" stroke="#f0aaaa" stroke-width="1"/>
<line x1="605" y1="1566.2" x2="862.6" y2="1566.2" stroke="#181818" stroke-width="6.6"/>
<line x1="606.5" y1="1568.1" x2="862.6" y2="1568.1" stroke="#8a8a8a" stroke-width="1.1"/>
<line x1="605" y1="1580.4" x2="862.6" y2="1580.4" stroke="#d01212" stroke-width="6.6"/>
<line x1="606.5" y1="1582.3" x2="862.6" y2="1582.3" stroke="#f0aaaa" stroke-width="1"/>
<path d="M1759.2,1502.1 H1783.7 L1794.3,1499.2 V1533.7 L1783.7,1530.6 H1759.2 Z" fill="#e9e9e9" stroke="#cfcfcf" stroke-width="0.7"/>
<line x1="1759.2" y1="1519.2" x2="1794.3" y2="1519.2" stroke="#cdcdcd" stroke-width="0.9"/>
<line x1="1765.9" y1="1515" x2="1794.3" y2="1515" stroke="#f6f6f6" stroke-width="1.6"/>
<rect x="1753.2" y="1503.2" width="12.6" height="12.6" fill="#a6e4a6" opacity="0.9"/>
<rect x="1753.2" y="1517.1" width="12.6" height="12.6" fill="#a6e4a6" opacity="0.9"/>
<path d="M569.9,1558.9 H594.4 L605,1556 V1590.5 L594.4,1587.4 H569.9 Z" fill="#e9e9e9" stroke="#cfcfcf" stroke-width="0.7"/>
<line x1="569.9" y1="1576" x2="605" y2="1576" stroke="#cdcdcd" stroke-width="0.9"/>
<line x1="576.6" y1="1571.8" x2="605" y2="1571.8" stroke="#f6f6f6" stroke-width="1.6"/>
<rect x="563.9" y="1560" width="12.6" height="12.6" fill="#f2a2a2" opacity="0.9"/>
<rect x="563.9" y="1573.9" width="12.6" height="12.6" fill="#f2a2a2" opacity="0.9"/>
<rect x="240" y="1434.5" width="9.8" height="3.6" fill="#8e8e8e"/>
<path d="M240,1438 h9.8 l-3,2.4 h-3.8 z" fill="#8e8e8e"/>
<rect x="243" y="1440" width="3.8" height="4" fill="#8e8e8e"/>
<rect x="254.3" y="1434.5" width="9.8" height="3.6" fill="#8e8e8e"/>
<path d="M254.3,1438 h9.8 l-3,2.4 h-3.8 z" fill="#8e8e8e"/>
<rect x="257.3" y="1440" width="3.8" height="4" fill="#8e8e8e"/>
<rect x="268.2" y="1434.5" width="9.8" height="3.6" fill="#8e8e8e"/>
<path d="M268.2,1438 h9.8 l-3,2.4 h-3.8 z" fill="#8e8e8e"/>
<rect x="271.2" y="1440" width="3.8" height="4" fill="#8e8e8e"/>
<rect x="270.9" y="1443.2" width="4.4" height="11.3" fill="#e25a50"/>
<rect x="242.9" y="1443.2" width="4" height="8.5" fill="#68c868"/>
<rect x="257.2" y="1443.2" width="4" height="8.5" fill="#68c868"/>
<rect x="261.1" y="1401.1" width="9.6" height="15.9" fill="#1e1e1e"/>
<rect x="261.1" y="1401.1" width="9.6" height="4.4" fill="#2c2c2c"/>
<rect x="234" y="1408.5" width="50.9" height="26.3" fill="#161616"/>
<rect x="234" y="1408.5" width="15.1" height="8.3" fill="#2a2a2a"/>
<rect x="270.7" y="1408.5" width="14.2" height="8.3" fill="#2a2a2a"/>
<rect x="249.1" y="1409.3" width="12" height="7.5" fill="#000"/>
<rect x="234" y="1416.8" width="50.9" height="3.2" fill="#000"/>
<path d="M53.8,1499.6 H139 a7,7 0 0 1 7,7 V1699.6 L134.2,1708.1 H58.4 L46.8,1699.6 V1506.6 a7,7 0 0 1 7,-7 Z" fill="#185ac8"/>
<circle cx="57" cy="1509.1" r="6" fill="#fdfefd"/>
<circle cx="134.9" cy="1509.1" r="6" fill="#fdfefd"/>
<rect x="69" y="1506.3" width="54.6" height="9.5" fill="#c8b078"/>
<rect x="72.5" y="1525.5" width="48" height="7" fill="#c8b078"/>
<rect x="74.7" y="1499.2" width="42.9" height="31.4" fill="#dadada"/>
<rect x="74.7" y="1499.2" width="42.9" height="3.3" fill="#ececec"/>
<path d="M81.5,1508 h4 l-0.7,8 h-2.6 z M110.8,1508 h-4 l0.7,8 h2.6 z" fill="#222"/>
<path d="M85,1530.6 v-3.5 h4 v-2 h4 v5.5 z M107.3,1530.6 v-3.5 h-4 v-2 h-4 v5.5 z" fill="#222"/>
<rect x="89.6" y="1530.6" width="1.4" height="3.2" fill="#e8e8e8"/>
<rect x="92.5" y="1530.6" width="1.4" height="3.2" fill="#e8e8e8"/>
<rect x="95.4" y="1530.6" width="1.4" height="3.2" fill="#e8e8e8"/>
<rect x="98.3" y="1530.6" width="1.4" height="3.2" fill="#e8e8e8"/>
<rect x="101.2" y="1530.6" width="1.4" height="3.2" fill="#e8e8e8"/>
<circle cx="53.7" cy="1524" r="4" fill="#f4a8a8" stroke="#d65a5a" stroke-width="1.4"/>
<circle cx="138.7" cy="1524" r="4" fill="#f4a8a8" stroke="#d65a5a" stroke-width="1.4"/>
<circle cx="53.7" cy="1538.2" r="4" fill="#f4a8a8" stroke="#d65a5a" stroke-width="1.4"/>
<circle cx="138.7" cy="1538.2" r="4" fill="#f4a8a8" stroke="#d65a5a" stroke-width="1.4"/>
<circle cx="53.7" cy="1552.3" r="4" fill="#f4a8a8" stroke="#d65a5a" stroke-width="1.4"/>
<circle cx="138.7" cy="1552.3" r="4" fill="#f4a8a8" stroke="#d65a5a" stroke-width="1.4"/>
<circle cx="53.7" cy="1566.5" r="4" fill="#f4a8a8" stroke="#d65a5a" stroke-width="1.4"/>
<circle cx="138.7" cy="1566.5" r="4" fill="#f4a8a8" stroke="#d65a5a" stroke-width="1.4"/>
<circle cx="53.7" cy="1580.6" r="4" fill="#f4a8a8" stroke="#d65a5a" stroke-width="1.4"/>
<circle cx="138.7" cy="1580.6" r="4" fill="#f4a8a8" stroke="#d65a5a" stroke-width="1.4"/>
<circle cx="53.7" cy="1594.8" r="4" fill="#f4a8a8" stroke="#d65a5a" stroke-width="1.4"/>
<circle cx="138.7" cy="1594.8" r="4" fill="#f4a8a8" stroke="#d65a5a" stroke-width="1.4"/>
<circle cx="53.7" cy="1608.9" r="4" fill="#f4a8a8" stroke="#d65a5a" stroke-width="1.4"/>
<circle cx="138.7" cy="1608.9" r="4" fill="#f4a8a8" stroke="#d65a5a" stroke-width="1.4"/>
<circle cx="53.7" cy="1623.1" r="4" fill="#f4a8a8" stroke="#d65a5a" stroke-width="1.4"/>
<circle cx="138.7" cy="1623.1" r="4" fill="#f4a8a8" stroke="#d65a5a" stroke-width="1.4"/>
<circle cx="53.7" cy="1637.2" r="4" fill="#f4a8a8" stroke="#d65a5a" stroke-width="1.4"/>
<circle cx="138.7" cy="1637.2" r="4" fill="#f4a8a8" stroke="#d65a5a" stroke-width="1.4"/>
<circle cx="53.7" cy="1651.4" r="4" fill="#f4a8a8" stroke="#d65a5a" stroke-width="1.4"/>
<circle cx="138.7" cy="1651.4" r="4" fill="#f4a8a8" stroke="#d65a5a" stroke-width="1.4"/>
<circle cx="53.7" cy="1665.5" r="4" fill="#f4a8a8" stroke="#d65a5a" stroke-width="1.4"/>
<circle cx="138.7" cy="1665.5" r="4" fill="#f4a8a8" stroke="#d65a5a" stroke-width="1.4"/>
<circle cx="53.7" cy="1679.7" r="4" fill="#f4a8a8" stroke="#d65a5a" stroke-width="1.4"/>
<circle cx="138.7" cy="1679.7" r="4" fill="#f4a8a8" stroke="#d65a5a" stroke-width="1.4"/>
<circle cx="60.8" cy="1693.6" r="3.8" fill="#c8f0c8" stroke="#50c050" stroke-width="1.6"/>
<circle cx="74.7" cy="1693.6" r="3.6" fill="#ffffff" stroke="#c8b078" stroke-width="1.6"/>
<circle cx="88.7" cy="1693.6" r="3.6" fill="#ffffff" stroke="#c8b078" stroke-width="1.6"/>
<circle cx="103" cy="1693.6" r="3.6" fill="#ffffff" stroke="#c8b078" stroke-width="1.6"/>
<circle cx="117.2" cy="1693.6" r="3.6" fill="#ffffff" stroke="#c8b078" stroke-width="1.6"/>
<circle cx="131.4" cy="1693.6" r="3.6" fill="#ffffff" stroke="#c8b078" stroke-width="1.6"/>
<text x="65.5" y="1525.5" font-size="6.4" fill="#eef2ff" text-anchor="middle" class="m">9</text>
<text x="65.5" y="1542.7" font-size="6.4" fill="#eef2ff" transform="rotate(-90 65.5 1542.7)" class="m">10</text>
<text x="65.5" y="1556.8" font-size="6.4" fill="#eef2ff" transform="rotate(-90 65.5 1556.8)" class="m">11</text>
<text x="65.5" y="1571" font-size="6.4" fill="#eef2ff" transform="rotate(-90 65.5 1571)" class="m">12</text>
<text x="65.5" y="1585.1" font-size="6.4" fill="#eef2ff" transform="rotate(-90 65.5 1585.1)" class="m">13</text>
<text x="61" y="1594" font-size="5.8" fill="#eef2ff" class="m">Ar</text>
<text x="57" y="1617.5" font-size="5.8" fill="#eef2ff" class="m">A0</text>
<text x="58" y="1632" font-size="5.8" fill="#eef2ff" class="m">A1</text>
<text x="60.5" y="1644" font-size="5.8" fill="#eef2ff" class="m">A2</text>
<text x="60.5" y="1654" font-size="5.8" fill="#eef2ff" class="m">A3</text>
<text x="60.5" y="1668.5" font-size="5.8" fill="#eef2ff" class="m">A4</text>
<text x="60.5" y="1681.5" font-size="5.8" fill="#eef2ff" class="m">A5</text>
<text x="79" y="1612.5" font-size="5.8" fill="#eef2ff" transform="rotate(-90 79 1612.5)" class="m">A6</text>
<text x="79" y="1627" font-size="5.8" fill="#eef2ff" transform="rotate(-90 79 1627)" class="m">A7</text>
<text x="133" y="1531.5" font-size="6.2" fill="#eef2ff" transform="rotate(-90 133 1531.5)" class="m">BAT+</text>
<text x="133" y="1540.5" font-size="6.2" fill="#eef2ff" transform="rotate(-90 133 1540.5)" class="m">G</text>
<text x="133" y="1558" font-size="6.2" fill="#eef2ff" transform="rotate(-90 133 1558)" class="m">BUS</text>
<text x="124.5" y="1568.7" font-size="6.4" fill="#eef2ff" class="m">5V</text>
<text x="129" y="1584.2" font-size="6.4" fill="#eef2ff" class="m">8</text>
<text x="129" y="1598.4" font-size="6.4" fill="#eef2ff" class="m">6</text>
<text x="129" y="1612.5" font-size="6.4" fill="#eef2ff" class="m">5</text>
<text x="129" y="1626.7" font-size="6.4" fill="#eef2ff" class="m">4</text>
<text x="129" y="1640.8" font-size="6.4" fill="#eef2ff" class="m">3</text>
<text x="124" y="1653.8" font-size="6.4" fill="#eef2ff" class="m">TX</text>
<text x="124.5" y="1668" font-size="6.4" fill="#eef2ff" class="m">RX</text>
<text x="133" y="1685" font-size="6.2" fill="#eef2ff" transform="rotate(-90 133 1685)" class="m">RST</text>
<text x="53.8" y="1699" font-size="6" fill="#eef2ff" transform="rotate(-90 53.8 1699)" class="m">BLK</text>
<text x="143.5" y="1699" font-size="6" fill="#eef2ff" transform="rotate(-90 143.5 1699)" class="m">GRN</text>
<text x="62" y="1688" font-size="6.4" fill="#eef2ff" class="m">GND</text>
<text x="85" y="1688" font-size="6.4" fill="#eef2ff" class="m">5V</text>
<text x="99.5" y="1688" font-size="6.4" fill="#eef2ff" class="m">RX</text>
<text x="113.5" y="1688" font-size="6.4" fill="#eef2ff" class="m">TX</text>
<text x="61" y="1706.8" font-size="6.4" fill="#eef2ff" textLength="51" lengthAdjust="spacingAndGlyphs" class="m">FTDI Header</text>
<text x="98" y="1600" font-size="7.4" fill="#eef2ff" text-anchor="middle" class="m">Pro</text>
<text x="99" y="1607.5" font-size="7" fill="#eef2ff" text-anchor="middle" textLength="37" lengthAdjust="spacingAndGlyphs" class="m">Trinket!</text>
<text x="119" y="1632.5" font-size="5.6" fill="#eef2ff" text-anchor="middle" class="m">16</text>
<text x="119.5" y="1639.5" font-size="5.6" fill="#eef2ff" text-anchor="middle" class="m">MHz</text>
<text x="80" y="1547.5" font-size="5.6" fill="#eef2ff" class="m">#13</text>
<text x="105" y="1547.5" font-size="5.6" fill="#eef2ff" class="m">PWR</text>
<rect x="103.4" y="1643.4" width="18.2" height="11.9" fill="none" stroke="#ffffff" stroke-width="1"/>
<text x="112.5" y="1652.7" font-size="8.4" fill="#eef2ff" text-anchor="middle" class="m">5V</text>
<rect x="75.5" y="1536" width="17" height="7.3" fill="#c8b078"/>
<rect x="77.1" y="1536.8" width="13.8" height="5.7" fill="#d8d8d8"/>
<rect x="79.5" y="1536.8" width="9" height="5.7" fill="#f02020"/>
<rect x="102.3" y="1535.3" width="17" height="7.4" fill="#c8b078"/>
<rect x="103.9" y="1536.1" width="13.8" height="5.8" fill="#d8d8d8"/>
<rect x="106.3" y="1536.1" width="9" height="5.8" fill="#30e040"/>
<rect x="66.2" y="1535.5" width="5.3" height="14.8" fill="#c8b078"/>
<rect x="67" y="1537.1" width="3.7" height="11.6" fill="#d8d8d8"/>
<rect x="67" y="1539.5" width="3.7" height="6.8" fill="#2a2a2a"/>
<rect x="121.7" y="1539.5" width="5.3" height="14.5" fill="#c8b078"/>
<rect x="122.5" y="1541.1" width="3.7" height="11.3" fill="#d8d8d8"/>
<rect x="122.5" y="1543.5" width="3.7" height="6.5" fill="#2a2a2a"/>
<rect x="70.8" y="1549.5" width="8" height="18.3" fill="#c8b078"/>
<rect x="71.3" y="1553" width="7" height="10" fill="#2c2c2c"/>
<rect x="81.3" y="1551.3" width="6" height="14.7" fill="#c8b078"/>
<rect x="82.1" y="1552.9" width="4.4" height="11.5" fill="#d8d8d8"/>
<rect x="82.1" y="1555.3" width="4.4" height="6.7" fill="#2a2a2a"/>
<rect x="88.3" y="1551.3" width="6" height="14.7" fill="#c8b078"/>
<rect x="89.1" y="1552.9" width="4.4" height="11.5" fill="#d8d8d8"/>
<rect x="89.1" y="1555.3" width="4.4" height="6.7" fill="#2a2a2a"/>
<rect x="95.8" y="1551.3" width="6" height="14.7" fill="#c8b078"/>
<rect x="96.6" y="1552.9" width="4.4" height="11.5" fill="#d8d8d8"/>
<rect x="96.6" y="1555.3" width="4.4" height="6.7" fill="#2a2a2a"/>
<rect x="103.3" y="1549.5" width="6" height="21" fill="#c8b078"/>
<rect x="102.6" y="1555.5" width="7.4" height="10.5" fill="#2c2c2c"/>
<rect x="112.5" y="1549.5" width="9" height="21.5" fill="#c8b078"/>
<rect x="111.8" y="1552.5" width="10.4" height="14.5" fill="#2c2c2c"/>
<rect x="72.8" y="1573" width="8.4" height="17.5" fill="#c8b078"/>
<rect x="73.6" y="1574.6" width="6.8" height="14.3" fill="#d8d8d8"/>
<rect x="73.6" y="1577" width="6.8" height="9.5" fill="#805848"/>
<rect x="109" y="1574.5" width="8.3" height="17.3" fill="#c8b078"/>
<rect x="109.8" y="1576.1" width="6.7" height="14.1" fill="#d8d8d8"/>
<rect x="109.8" y="1578.5" width="6.7" height="9.3" fill="#805848"/>
<rect x="86" y="1577.5" width="6.5" height="2.8" fill="#d8d8d8"/>
<rect x="86" y="1582.7" width="6.5" height="2.8" fill="#d8d8d8"/>
<rect x="86" y="1587.8" width="6.5" height="2.8" fill="#d8d8d8"/>
<rect x="101.5" y="1577.5" width="5.8" height="2.8" fill="#d8d8d8"/>
<rect x="101.5" y="1587.5" width="5.8" height="2.8" fill="#d8d8d8"/>
<rect x="92" y="1574.5" width="9.8" height="16" fill="#2c2c2c"/>
<circle cx="127" cy="1574.3" r="2.6" fill="#b8a468"/>
<rect x="61.5" y="1595.3" width="18" height="7.2" fill="#c8b078"/>
<rect x="63.1" y="1596.1" width="14.8" height="5.6" fill="#d8d8d8"/>
<rect x="65.5" y="1596.1" width="10" height="5.6" fill="#805848"/>
<circle cx="67.6" cy="1608.5" r="3.3" fill="#ffffff" stroke="#c8b078" stroke-width="1.6"/>
<circle cx="67.6" cy="1622.8" r="3.3" fill="#ffffff" stroke="#c8b078" stroke-width="1.6"/>
<rect x="81.3" y="1607.8" width="30" height="29" fill="none" stroke="#c8b078" stroke-width="1" stroke-dasharray="1.2 1"/>
<rect x="82.2" y="1608.7" width="28.2" height="27.2" fill="#2d2d2d" rx="2"/>
<rect x="116.6" y="1603.8" width="9.4" height="20.2" fill="#ffffff"/>
<rect x="117.6" y="1606.5" width="7.4" height="15" fill="#cccccc"/>
<polygon points="80.4,1640.4 82.8,1646.6 89.3,1646.9 84.2,1651 85.9,1657.4 80.4,1653.8 74.9,1657.4 76.6,1651 71.5,1646.9 78,1646.6" fill="#d8dce8"/>
<circle cx="80.4" cy="1650.2" r="2" fill="#185ac8"/>
<circle cx="96" cy="1652.9" r="6" fill="#ffffff"/>
<rect x="72.3" y="1662.3" width="7.7" height="18.2" fill="#c8b078"/>
<rect x="73.1" y="1663.9" width="6.1" height="15" fill="#d8d8d8"/>
<rect x="73.1" y="1666.3" width="6.1" height="10.2" fill="#2a2a2a"/>
<rect x="113" y="1661" width="8" height="17.5" fill="#c8b078"/>
<rect x="113.8" y="1662.6" width="6.4" height="14.3" fill="#d8d8d8"/>
<rect x="113.8" y="1665" width="6.4" height="9.5" fill="#805848"/>
<rect x="82.3" y="1667" width="29" height="10" fill="#bdbdbd"/>
<rect x="85.2" y="1663.3" width="23.4" height="17.3" fill="#d6d6d6"/>
<circle cx="96" cy="1672.4" r="4.9" fill="#1a1a1a"/>
<rect x="188.3" y="1516.9" width="92.1" height="85" fill="#185ac8" rx="12"/>
<circle cx="265.7" cy="1530.8" r="11.4" fill="none" stroke="#ffffff" stroke-width="0.9"/>
<circle cx="265.7" cy="1530.8" r="9.1" fill="#a89a62"/>
<circle cx="265.7" cy="1530.8" r="6.4" fill="#fdfefd"/>
<rect x="238.6" y="1517.6" width="12.8" height="26" fill="none" stroke="#ffffff" stroke-width="1"/>
<circle cx="202.2" cy="1523.6" r="3.8" fill="#2a7a2a" stroke="#50c050" stroke-width="1.4"/>
<circle cx="216.3" cy="1523.6" r="3.8" fill="#2a7a2a" stroke="#50c050" stroke-width="1.4"/>
<circle cx="230.5" cy="1523.6" r="3.8" fill="#2a7a2a" stroke="#50c050" stroke-width="1.4"/>
<circle cx="244.7" cy="1523.6" r="3.8" fill="#2a7a2a" stroke="#50c050" stroke-width="1.4"/>
<circle cx="244.7" cy="1537.8" r="3.8" fill="#2a7a2a" stroke="#50c050" stroke-width="1.4"/>
<text x="202.3" y="1536.2" font-size="6" fill="#eef2ff" text-anchor="middle" class="m">BAT</text>
<text x="216.3" y="1536.2" font-size="6" fill="#eef2ff" text-anchor="middle" class="m">G</text>
<text x="231" y="1536.2" font-size="6" fill="#eef2ff" text-anchor="middle" class="m">5V</text>
<text x="190.6" y="1563.6" font-size="6" fill="#eef2ff" class="m">CHG</text>
<text x="190.2" y="1593" font-size="6" fill="#eef2ff" class="m">DON</text>
<text x="240.4" y="1599.8" font-size="6.6" fill="#eef2ff" textLength="27.6" lengthAdjust="spacingAndGlyphs" class="m">LiPoly</text>
<rect x="192.2" y="1537" width="7.2" height="18" fill="#c8b078"/>
<rect x="193" y="1538.6" width="5.6" height="14.8" fill="#d8d8d8"/>
<rect x="193" y="1541" width="5.6" height="10" fill="#f02020"/>
<rect x="192" y="1569" width="7.4" height="18" fill="#c8b078"/>
<rect x="192.8" y="1570.6" width="5.8" height="14.8" fill="#d8d8d8"/>
<rect x="192.8" y="1573" width="5.8" height="10" fill="#30e040"/>
<rect x="203" y="1538.5" width="8.8" height="17.7" fill="#c8b078"/>
<rect x="203.8" y="1540.1" width="7.2" height="14.5" fill="#d8d8d8"/>
<rect x="203.8" y="1542.5" width="7.2" height="9.7" fill="#805848"/>
<rect x="213.7" y="1538.5" width="8.6" height="17.7" fill="#c8b078"/>
<rect x="214.5" y="1540.1" width="7" height="14.5" fill="#d8d8d8"/>
<rect x="214.5" y="1542.5" width="7" height="9.7" fill="#805848"/>
<rect x="224.8" y="1539.5" width="8.4" height="16.7" fill="#c8b078"/>
<rect x="225.6" y="1541.1" width="6.8" height="13.5" fill="#d8d8d8"/>
<rect x="225.6" y="1543.5" width="6.8" height="8.7" fill="#2a2a2a"/>
<rect x="205" y="1580.5" width="8.4" height="17.5" fill="#c8b078"/>
<rect x="205.8" y="1582.1" width="6.8" height="14.3" fill="#d8d8d8"/>
<rect x="205.8" y="1584.5" width="6.8" height="9.5" fill="#2a2a2a"/>
<rect x="214.5" y="1580.5" width="8.4" height="17.5" fill="#c8b078"/>
<rect x="215.3" y="1582.1" width="6.8" height="14.3" fill="#d8d8d8"/>
<rect x="215.3" y="1584.5" width="6.8" height="9.5" fill="#2a2a2a"/>
<rect x="225" y="1580.5" width="8.4" height="17.5" fill="#c8b078"/>
<rect x="225.8" y="1582.1" width="6.8" height="14.3" fill="#d8d8d8"/>
<rect x="225.8" y="1584.5" width="6.8" height="9.5" fill="#2a2a2a"/>
<rect x="203.5" y="1564.5" width="6" height="2.3" fill="#c8b078"/>
<rect x="218" y="1564.5" width="6" height="2.3" fill="#c8b078"/>
<rect x="203.5" y="1569.8" width="6" height="2.3" fill="#c8b078"/>
<rect x="218" y="1569.8" width="6" height="2.3" fill="#c8b078"/>
<rect x="203.5" y="1575.1" width="6" height="2.3" fill="#c8b078"/>
<rect x="218" y="1575.1" width="6" height="2.3" fill="#c8b078"/>
<rect x="209.3" y="1562.2" width="8.9" height="17" fill="#2c2c2c"/>
<line x1="209.3" y1="1561.5" x2="218.2" y2="1561.5" stroke="#fff" stroke-width="0.8"/>
<line x1="209.3" y1="1580" x2="218.2" y2="1580" stroke="#fff" stroke-width="0.8"/>
<rect x="227.3" y="1559.8" width="18.7" height="5.8" fill="#c8b078"/>
<rect x="227.3" y="1570.5" width="18.7" height="5.7" fill="#c8b078"/>
<rect x="229.5" y="1561" width="15.5" height="3.5" fill="#e0e0e0"/>
<rect x="229.5" y="1571.6" width="15.5" height="3.4" fill="#e0e0e0"/>
<rect x="235.5" y="1545.5" width="22.5" height="5" fill="#ffffff"/>
<rect x="235.5" y="1585" width="22.5" height="5" fill="#ffffff"/>
<rect x="236.5" y="1546.4" width="8.5" height="3.2" fill="#2c2c2c"/>
<rect x="236.5" y="1585.9" width="8.5" height="3.2" fill="#2c2c2c"/>
<rect x="272.5" y="1544.5" width="5.3" height="7" fill="#c8b078"/>
<rect x="272.5" y="1583" width="5.3" height="7" fill="#c8b078"/>
<path d="M244,1545 H271 L274.5,1548.5 V1586 L271,1589.3 H244 Z" fill="#6e6e6e"/>
<path d="M263,1545 H271 L274.5,1548.5 V1586 L271,1589.3 H263 Z" fill="#787878"/>
<rect x="244" y="1553.6" width="5.6" height="5.9" fill="#3a3a3a"/>
<rect x="244" y="1576" width="5.6" height="5.5" fill="#3a3a3a"/>
<rect x="249.6" y="1553.6" width="17" height="5.9" fill="#000"/>
<rect x="249.6" y="1576" width="17" height="5.5" fill="#000"/>
<text x="236.5" y="1557.5" font-size="7" fill="#eef2ff" class="m">-</text>
<text x="236" y="1583.5" font-size="7" fill="#eef2ff" class="m">+</text>
<rect x="366.7" y="1679.1" width="462.8" height="57.8" fill="#1f2b5e"/>
<rect x="366.4" y="1687.7" width="11.8" height="11.2" fill="#3a8a2a"/>
<circle cx="372.1" cy="1693.3" r="4.3" fill="#245a1c" stroke="#c4d43c" stroke-width="1.1"/>
<rect x="366.4" y="1702.4" width="11.8" height="11.2" fill="#3a8a2a"/>
<circle cx="372.1" cy="1708" r="4.3" fill="#245a1c" stroke="#c4d43c" stroke-width="1.1"/>
<rect x="366.4" y="1717.3" width="11.8" height="11.2" fill="#3a8a2a"/>
<circle cx="372.1" cy="1722.9" r="4.3" fill="#245a1c" stroke="#c4d43c" stroke-width="1.1"/>
<text x="388.3" y="1688.7" font-size="7" fill="#e8ecff" text-anchor="middle" transform="rotate(-90 388.3 1688.7)" textLength="15" lengthAdjust="spacingAndGlyphs" class="m">GND</text>
<text x="388.3" y="1707.3" font-size="7" fill="#e8ecff" text-anchor="middle" transform="rotate(-90 388.3 1707.3)" textLength="15" lengthAdjust="spacingAndGlyphs" class="m">Din</text>
<text x="388.3" y="1727.1" font-size="7" fill="#e8ecff" text-anchor="middle" transform="rotate(-90 388.3 1727.1)" textLength="15" lengthAdjust="spacingAndGlyphs" class="m">+5V</text>
<path d="M390.4,1702 v12.4 l6.6,-6.2 z" fill="#ffffff"/>
<text x="445.3" y="1708.3" font-size="7" fill="#e8ecff" text-anchor="middle" transform="rotate(-90 445.3 1708.3)" textLength="35.5" lengthAdjust="spacingAndGlyphs" class="m">WS2812B</text>
<rect x="449.7" y="1690.9" width="7" height="3" fill="#c8b878"/>
<rect x="470.1" y="1690.9" width="7" height="3" fill="#c8b878"/>
<rect x="449.7" y="1722.3" width="7" height="3" fill="#c8b878"/>
<rect x="470.1" y="1722.3" width="7" height="3" fill="#c8b878"/>
<rect x="448.5" y="1692.6" width="30.1" height="30.8" fill="#dedede"/>
<circle cx="463.5" cy="1708" r="11.2" fill="#ececec" stroke="#c4c4c4" stroke-width="0.7"/>
<path d="M454.7,1709.6 h17 M463.5,1709.6 v-8 M457.7,1715.1 h12" fill="none" stroke="#cfcfcf" stroke-width="1.6"/>
<rect x="460" y="1702.3" width="3.8" height="4.6" fill="#a03828"/>
<rect x="480.9" y="1700.9" width="9.5" height="17.3" fill="none" stroke="#d8d8d8" stroke-width="0.7"/>
<rect x="482.7" y="1703.1" width="6.4" height="13" fill="#c8c0a8"/>
<rect x="482.7" y="1705.7" width="6.4" height="7.8" fill="#4a3c30"/>
<text x="711.4" y="1708.3" font-size="7" fill="#e8ecff" text-anchor="middle" transform="rotate(-90 711.4 1708.3)" textLength="35.5" lengthAdjust="spacingAndGlyphs" class="m">WS2812B</text>
<rect x="715.8" y="1690.9" width="7" height="3" fill="#c8b878"/>
<rect x="736.2" y="1690.9" width="7" height="3" fill="#c8b878"/>
<rect x="715.8" y="1722.3" width="7" height="3" fill="#c8b878"/>
<rect x="736.2" y="1722.3" width="7" height="3" fill="#c8b878"/>
<rect x="714.6" y="1692.6" width="30.1" height="30.8" fill="#dedede"/>
<circle cx="729.6" cy="1708" r="11.2" fill="#ececec" stroke="#c4c4c4" stroke-width="0.7"/>
<path d="M720.8,1709.6 h17 M729.6,1709.6 v-8 M723.8,1715.1 h12" fill="none" stroke="#cfcfcf" stroke-width="1.6"/>
<rect x="726.1" y="1702.3" width="3.8" height="4.6" fill="#a03828"/>
<rect x="747" y="1700.9" width="9.5" height="17.3" fill="none" stroke="#d8d8d8" stroke-width="0.7"/>
<rect x="748.8" y="1703.1" width="6.4" height="13" fill="#c8c0a8"/>
<rect x="748.8" y="1705.7" width="6.4" height="7.8" fill="#4a3c30"/>
<line x1="562.7" y1="1679.1" x2="562.7" y2="1736.9" stroke="#8a92b4" stroke-width="0.7"/>
<rect x="550.8" y="1688.6" width="23.8" height="9.4" fill="#e8a25c" rx="4.7"/>
<rect x="550.8" y="1703.3" width="23.8" height="9.4" fill="#e8a25c" rx="4.7"/>
<rect x="550.8" y="1718.2" width="23.8" height="9.4" fill="#e8a25c" rx="4.7"/>
<circle cx="562.7" cy="1708" r="1" fill="#ffffff"/>
<line x1="633.5" y1="1679.1" x2="633.5" y2="1736.9" stroke="#8a92b4" stroke-width="0.7"/>
<rect x="621.6" y="1688.6" width="23.8" height="9.4" fill="#e8a25c" rx="4.7"/>
<rect x="621.6" y="1703.3" width="23.8" height="9.4" fill="#e8a25c" rx="4.7"/>
<rect x="621.6" y="1718.2" width="23.8" height="9.4" fill="#e8a25c" rx="4.7"/>
<circle cx="633.5" cy="1708" r="1" fill="#ffffff"/>
<text x="545.7" y="1688.7" font-size="7" fill="#e8ecff" text-anchor="middle" transform="rotate(-90 545.7 1688.7)" textLength="15" lengthAdjust="spacingAndGlyphs" class="m">GND</text>
<text x="545.7" y="1707.3" font-size="7" fill="#e8ecff" text-anchor="middle" transform="rotate(-90 545.7 1707.3)" textLength="10" lengthAdjust="spacingAndGlyphs" class="m">DO</text>
<text x="545.7" y="1727.1" font-size="7" fill="#e8ecff" text-anchor="middle" transform="rotate(-90 545.7 1727.1)" textLength="15" lengthAdjust="spacingAndGlyphs" class="m">+5V</text>
<text x="587.3" y="1688.7" font-size="7" fill="#e8ecff" text-anchor="middle" transform="rotate(-90 587.3 1688.7)" textLength="15" lengthAdjust="spacingAndGlyphs" class="m">GND</text>
<text x="587.3" y="1707.3" font-size="7" fill="#e8ecff" text-anchor="middle" transform="rotate(-90 587.3 1707.3)" textLength="15" lengthAdjust="spacingAndGlyphs" class="m">Din</text>
<text x="587.3" y="1727.1" font-size="7" fill="#e8ecff" text-anchor="middle" transform="rotate(-90 587.3 1727.1)" textLength="15" lengthAdjust="spacingAndGlyphs" class="m">+5V</text>
<path d="M589.4,1702 v12.4 l6.6,-6.2 z" fill="#ffffff"/>
<text x="617.7" y="1688.7" font-size="7" fill="#e8ecff" text-anchor="middle" transform="rotate(-90 617.7 1688.7)" textLength="15" lengthAdjust="spacingAndGlyphs" class="m">GND</text>
<text x="617.7" y="1707.3" font-size="7" fill="#e8ecff" text-anchor="middle" transform="rotate(-90 617.7 1707.3)" textLength="10" lengthAdjust="spacingAndGlyphs" class="m">DO</text>
<text x="617.7" y="1727.1" font-size="7" fill="#e8ecff" text-anchor="middle" transform="rotate(-90 617.7 1727.1)" textLength="15" lengthAdjust="spacingAndGlyphs" class="m">+5V</text>
<text x="657" y="1688.7" font-size="7" fill="#e8ecff" text-anchor="middle" transform="rotate(-90 657 1688.7)" textLength="15" lengthAdjust="spacingAndGlyphs" class="m">GND</text>
<text x="657" y="1707.3" font-size="7" fill="#e8ecff" text-anchor="middle" transform="rotate(-90 657 1707.3)" textLength="15" lengthAdjust="spacingAndGlyphs" class="m">Din</text>
<text x="657" y="1727.1" font-size="7" fill="#e8ecff" text-anchor="middle" transform="rotate(-90 657 1727.1)" textLength="15" lengthAdjust="spacingAndGlyphs" class="m">+5V</text>
<path d="M659.7,1702 v12.4 l6.6,-6.2 z" fill="#ffffff"/>
<text x="812.3" y="1688.7" font-size="7" fill="#e8ecff" text-anchor="middle" transform="rotate(-90 812.3 1688.7)" textLength="15" lengthAdjust="spacingAndGlyphs" class="m">GND</text>
<text x="812.3" y="1707.3" font-size="7" fill="#e8ecff" text-anchor="middle" transform="rotate(-90 812.3 1707.3)" textLength="10" lengthAdjust="spacingAndGlyphs" class="m">DO</text>
<text x="812.3" y="1727.1" font-size="7" fill="#e8ecff" text-anchor="middle" transform="rotate(-90 812.3 1727.1)" textLength="15" lengthAdjust="spacingAndGlyphs" class="m">+5V</text>
<rect x="795.6" y="1724.5" width="7.1" height="9.5" fill="none" stroke="#d8d8e8" stroke-width="0.7"/>
<text x="799.2" y="1732.3" font-size="6.2" fill="#d8d8e8" text-anchor="middle" class="m">R</text>
<rect x="818.1" y="1688.3" width="12.6" height="10" fill="#e8623c" rx="2.5"/>
<rect x="818.1" y="1703" width="12.6" height="10" fill="#e8623c" rx="2.5"/>
<rect x="818.1" y="1717.9" width="12.6" height="10" fill="#e8623c" rx="2.5"/>
<line x1="603.7" y1="1673.1" x2="583.5" y2="1743" stroke="#000000" stroke-width="3"/>
<line x1="617.4" y1="1673.1" x2="597.2" y2="1743" stroke="#000000" stroke-width="3"/>
<polyline points="414.6,603.4 414.6,717.1" stroke="#d6d23c" stroke-width="6.2" class="w"/>
<polyline points="414.6,603.4 414.6,717.1" stroke="#fff200" stroke-width="4.2" class="w"/>
<polyline points="428.7,603.4 428.7,717.1" stroke="#12b135" stroke-width="6.2" class="w"/>
<polyline points="428.7,603.4 428.7,717.1" stroke="#2fd040" stroke-width="4.2" class="w"/>
<polyline points="442.9,660.2 442.9,717.1" stroke="#9a0808" stroke-width="6.2" class="w"/>
<polyline points="442.9,660.2 442.9,717.1" stroke="#d41414" stroke-width="4.2" class="w"/>
<polyline points="457,645.8 457,717.1" stroke="#000000" stroke-width="6.2" class="w"/>
<polyline points="457,645.8 457,717.1" stroke="#474747" stroke-width="2.6" class="w"/>
<polyline points="414.6,773.8 414.6,787.6 287,787.6 287,886.5 315.3,886.5" stroke="#d6d23c" stroke-width="6.2" class="w"/>
<polyline points="414.6,773.8 414.6,787.6 287,787.6 287,886.5 315.3,886.5" stroke="#fff200" stroke-width="4.2" class="w"/>
<polyline points="442.9,773.8 442.9,801.9 300.5,801.9 300.5,872.3 315.3,872.3" stroke="#9a0808" stroke-width="6.2" class="w"/>
<polyline points="442.9,773.8 442.9,801.9 300.5,801.9 300.5,872.3 315.3,872.3" stroke="#d41414" stroke-width="4.2" class="w"/>
<polyline points="428.7,773.8 428.7,900.6 315.3,900.6" stroke="#12b135" stroke-width="6.2" class="w"/>
<polyline points="428.7,773.8 428.7,900.6 315.3,900.6" stroke="#2fd040" stroke-width="4.2" class="w"/>
<polyline points="457,773.8 457,1070.6 329.4,1070.6" stroke="#000000" stroke-width="6.2" class="w"/>
<polyline points="457,773.8 457,1070.6 329.4,1070.6" stroke="#474747" stroke-width="2.6" class="w"/>
<polyline points="315.3,999.8 372.6,999.8 372.6,1254.5 560.1,1254.5" stroke="#12b135" stroke-width="6.2" class="w"/>
<polyline points="315.3,999.8 372.6,999.8 372.6,1254.5 560.1,1254.5" stroke="#2fd040" stroke-width="4.2" class="w"/>
<polyline points="499.5,645.8 499,1268.6 560.1,1268.6" stroke="#000000" stroke-width="6.2" class="w"/>
<polyline points="499.5,645.8 499,1268.6 560.1,1268.6" stroke="#474747" stroke-width="2.6" class="w"/>
<polyline points="329.4,886.5 485.2,886.5 485.2,1282.7 560.1,1282.7" stroke="#9a0808" stroke-width="6.2" class="w"/>
<polyline points="329.4,886.5 485.2,886.5 485.2,1282.7 560.1,1282.7" stroke="#d41414" stroke-width="4.2" class="w"/>
<polyline points="315.3,1028.1 301,1028.1 301,1056.4 386.5,1056.4 386.5,1226.4 560.1,1226.4" stroke="#2464c4" stroke-width="6.2" class="w"/>
<polyline points="315.3,1028.1 301,1028.1 301,1056.4 386.5,1056.4 386.5,1226.4 560.1,1226.4" stroke="#418dd9" stroke-width="4.2" class="w"/>
<polyline points="329.4,1028.1 471,1028.1 471,1240.4 560.1,1240.4" stroke="#7a3000" stroke-width="6.2" class="w"/>
<polyline points="329.4,1028.1 471,1028.1 471,1240.4 560.1,1240.4" stroke="#8c3b00" stroke-width="4.2" class="w"/>
<polyline points="853.4,165.2 910,165.2 910,320.5 854,320.5" stroke="#000000" stroke-width="6.2" class="w"/>
<polyline points="853.4,165.2 910,165.2 910,320.5 854,320.5" stroke="#474747" stroke-width="2.6" class="w"/>
<polyline points="980.6,165.2 1037.6,165.2 1037.6,320.5 981.4,320.5" stroke="#000000" stroke-width="6.2" class="w"/>
<polyline points="980.6,165.2 1037.6,165.2 1037.6,320.5 981.4,320.5" stroke="#474747" stroke-width="2.6" class="w"/>
<polyline points="1108,165.2 1165.1,165.2 1165.1,320.5 1108.7,320.5" stroke="#000000" stroke-width="6.2" class="w"/>
<polyline points="1108,165.2 1165.1,165.2 1165.1,320.5 1108.7,320.5" stroke="#474747" stroke-width="2.6" class="w"/>
<polyline points="967.4,320.5 967.4,645.8" stroke="#000000" stroke-width="6.2" class="w"/>
<polyline points="967.4,320.5 967.4,645.8" stroke="#474747" stroke-width="2.6" class="w"/>
<polyline points="1094.7,320.5 1094.7,645.8" stroke="#000000" stroke-width="6.2" class="w"/>
<polyline points="1094.7,320.5 1094.7,645.8" stroke="#474747" stroke-width="2.6" class="w"/>
<polyline points="840,320.5 698.1,320.6 698.1,816 726.1,816" stroke="#8b3d8b" stroke-width="6.2" class="w"/>
<polyline points="840,320.5 698.1,320.6 698.1,816 726.1,816" stroke="#ab58a9" stroke-width="4.2" class="w"/>
<polyline points="967.4,320.5 952.4,320.5 952.4,334.9 683.8,334.9 683.8,830.1 726.1,830.1" stroke="#8b3d8b" stroke-width="6.2" class="w"/>
<polyline points="967.4,320.5 952.4,320.5 952.4,334.9 683.8,334.9 683.8,830.1 726.1,830.1" stroke="#ab58a9" stroke-width="4.2" class="w"/>
<polyline points="1094.7,320.5 1079.8,320.5 1079.8,349.1 669.5,349.1 669.5,844.3 726.1,844.3" stroke="#8b3d8b" stroke-width="6.2" class="w"/>
<polyline points="1094.7,320.5 1079.8,320.5 1079.8,349.1 669.5,349.1 669.5,844.3 726.1,844.3" stroke="#ab58a9" stroke-width="4.2" class="w"/>
<polyline points="655.3,645.8 654.9,858.4 726.1,858.4" stroke="#000000" stroke-width="6.2" class="w"/>
<polyline points="655.3,645.8 654.9,858.4 726.1,858.4" stroke="#474747" stroke-width="2.6" class="w"/>
<polyline points="839.1,165.2 839.1,178.8" stroke="#9a0808" stroke-width="6.2" class="w"/>
<polyline points="839.1,165.2 839.1,178.8" stroke="#d41414" stroke-width="4.2" class="w"/>
<polyline points="966.3,165.2 966.3,178.8" stroke="#9a0808" stroke-width="6.2" class="w"/>
<polyline points="966.3,165.2 966.3,178.8" stroke="#d41414" stroke-width="4.2" class="w"/>
<polyline points="1093.7,165.2 1093.7,178.8 768.6,178.8 768.6,801.8" stroke="#9a0808" stroke-width="6.2" class="w"/>
<polyline points="1093.7,165.2 1093.7,178.8 768.6,178.8 768.6,801.8" stroke="#d41414" stroke-width="4.2" class="w"/>
<polyline points="769,957.5 853.6,957.8" stroke="#12a8b8" stroke-width="6.2" class="w"/>
<polyline points="769,957.5 853.6,957.8" stroke="#2ee6d6" stroke-width="4.2" class="w"/>
<polyline points="726.1,971.7 697.8,971.7 697.8,1028.5 853.6,1028.5" stroke="#000000" stroke-width="6.2" class="w"/>
<polyline points="726.1,971.7 697.8,971.7 697.8,1028.5 853.6,1028.5" stroke="#474747" stroke-width="2.6" class="w"/>
<polyline points="726.1,943.3 683.6,943.3 683.6,1000.2 853.6,1000.2" stroke="#e400e4" stroke-width="6.2" class="w"/>
<polyline points="726.1,943.3 683.6,943.3 683.6,1000.2 853.6,1000.2" stroke="#ff4cf2" stroke-width="4.2" class="w"/>
<polyline points="769,915 797.3,915 797.3,1014.4 853.6,1014.4" stroke="#6e6e6e" stroke-width="6.2" class="w"/>
<polyline points="769,915 797.3,915 797.3,1014.4 853.6,1014.4" stroke="#999999" stroke-width="4.2" class="w"/>
<polyline points="769,943.3 782.9,943.3 782.9,1042.7 853.6,1042.7" stroke="#2464c4" stroke-width="6.2" class="w"/>
<polyline points="769,943.3 782.9,943.3 782.9,1042.7 853.6,1042.7" stroke="#418dd9" stroke-width="4.2" class="w"/>
<polyline points="726.1,957.5 711.9,957.5 711.9,900.7 825.3,900.7 825.3,971.9 853.6,971.9" stroke="#d6d23c" stroke-width="6.2" class="w"/>
<polyline points="726.1,957.5 711.9,957.5 711.9,900.7 825.3,900.7 825.3,971.9 853.6,971.9" stroke="#fff200" stroke-width="4.2" class="w"/>
<polyline points="726.1,929.2 697.8,929.2 697.8,886.3 811.1,886.3 811.1,986.1 853.6,986.1" stroke="#b45a1e" stroke-width="6.2" class="w"/>
<polyline points="726.1,929.2 697.8,929.2 697.8,886.3 811.1,886.3 811.1,986.1 853.6,986.1" stroke="#ef6100" stroke-width="4.2" class="w"/>
<polyline points="726.1,915 669.5,915 669.5,1056.8 853.6,1056.8" stroke="#9a0808" stroke-width="6.2" class="w"/>
<polyline points="726.1,915 669.5,915 669.5,1056.8 853.6,1056.8" stroke="#d41414" stroke-width="4.2" class="w"/>
<polyline points="1830.4,816 1136.5,816.1 1136.5,844.4 1221.1,844.4" stroke="#e400e4" stroke-width="6.2" class="w"/>
<polyline points="1830.4,816 1136.5,816.1 1136.5,844.4 1221.1,844.4" stroke="#ff4cf2" stroke-width="4.2" class="w"/>
<polyline points="1221.1,830.3 1150.5,830.3 1150.5,1113.5 1632.1,1113.5 1632,1353.6" stroke="#8b3d8b" stroke-width="6.2" class="w"/>
<polyline points="1221.1,830.3 1150.5,830.3 1150.5,1113.5 1632.1,1113.5 1632,1353.6" stroke="#ab58a9" stroke-width="4.2" class="w"/>
<polyline points="1494.8,717.9 1494.8,787.8 1207.5,787.8 1207.5,858.6 1221.1,858.6" stroke="#d6d23c" stroke-width="6.2" class="w"/>
<polyline points="1494.8,717.9 1494.8,787.8 1207.5,787.8 1207.5,858.6 1221.1,858.6" stroke="#fff200" stroke-width="4.2" class="w"/>
<polyline points="1512,717.9 1512,774 1193.4,774 1193.4,886.9 1221.1,886.9" stroke="#12b135" stroke-width="6.2" class="w"/>
<polyline points="1512,717.9 1512,774 1193.4,774 1193.4,886.9 1221.1,886.9" stroke="#2fd040" stroke-width="4.2" class="w"/>
<polyline points="1528.9,717.9 1528.9,759.9 1178.9,759.9 1178.9,901 1221.1,901" stroke="#6e6e6e" stroke-width="6.2" class="w"/>
<polyline points="1528.9,717.9 1528.9,759.9 1178.9,759.9 1178.9,901 1221.1,901" stroke="#999999" stroke-width="4.2" class="w"/>
<polyline points="1546.7,717.9 1546.7,745 1164.5,745 1164.5,915.2 1221.1,915.2" stroke="#7a3000" stroke-width="6.2" class="w"/>
<polyline points="1546.7,717.9 1546.7,745 1164.5,745 1164.5,915.2 1221.1,915.2" stroke="#8c3b00" stroke-width="4.2" class="w"/>
<polyline points="1830.4,801.3 1278,801.2 1278,844.4 1264.1,844.4" stroke="#000000" stroke-width="6.2" class="w"/>
<polyline points="1830.4,801.3 1278,801.2 1278,844.4 1264.1,844.4" stroke="#474747" stroke-width="2.6" class="w"/>
<polyline points="1264.1,830.3 1830.4,830.9" stroke="#9a0808" stroke-width="6.2" class="w"/>
<polyline points="1264.1,830.3 1830.4,830.9" stroke="#d41414" stroke-width="4.2" class="w"/>
<polyline points="1562.7,717.9 1562.7,929.3 1264.1,929.3" stroke="#b45a1e" stroke-width="6.2" class="w"/>
<polyline points="1562.7,717.9 1562.7,929.3 1264.1,929.3" stroke="#ef6100" stroke-width="4.2" class="w"/>
<polyline points="1578.7,717.9 1578.7,957.6 1264.1,957.6" stroke="#8b3d8b" stroke-width="6.2" class="w"/>
<polyline points="1578.7,717.9 1578.7,957.6 1264.1,957.6" stroke="#ab58a9" stroke-width="4.2" class="w"/>
<polyline points="1595.9,717.9 1595.9,1028.4 1264.1,1028.4" stroke="#12a8b8" stroke-width="6.2" class="w"/>
<polyline points="1595.9,717.9 1595.9,1028.4 1264.1,1028.4" stroke="#2ee6d6" stroke-width="4.2" class="w"/>
<polyline points="1614,717.9 1614,1056.7 1264.1,1056.7" stroke="#e400e4" stroke-width="6.2" class="w"/>
<polyline points="1614,717.9 1614,1056.7 1264.1,1056.7" stroke="#ff4cf2" stroke-width="4.2" class="w"/>
<polyline points="1702.7,1259.9 1817.2,1260.3" stroke="#6e6e6e" stroke-width="6.2" class="w"/>
<polyline points="1702.7,1259.9 1817.2,1260.3" stroke="#999999" stroke-width="4.2" class="w"/>
<polyline points="1702.7,1259.9 1703,1467.2 1944,1467.2 1942.8,1297.4" stroke="#6e6e6e" stroke-width="6.2" class="w"/>
<polyline points="1702.7,1259.9 1703,1467.2 1944,1467.2 1942.8,1297.4" stroke="#999999" stroke-width="4.2" class="w"/>
<polyline points="1716.8,1255.2 1716.6,1509.2 1761,1509.2" stroke="#000000" stroke-width="6.2" class="w"/>
<polyline points="1716.8,1255.2 1716.6,1509.2 1761,1509.2" stroke="#474747" stroke-width="2.6" class="w"/>
<polyline points="1942.8,1198.1 1745.1,1198.1 1745,1524 1761,1524" stroke="#9a0808" stroke-width="6.2" class="w"/>
<polyline points="1942.8,1198.1 1745.1,1198.1 1745,1524 1761,1524" stroke="#d41414" stroke-width="4.2" class="w"/>
<polyline points="1688.5,1260.3 1688.4,1353.6" stroke="#9a0808" stroke-width="6.2" class="w"/>
<polyline points="1688.5,1260.3 1688.4,1353.6" stroke="#d41414" stroke-width="4.2" class="w"/>
<polyline points="138.7,1524 202.2,1523.6" stroke="#9a0808" stroke-width="6.2" class="w"/>
<polyline points="138.7,1524 202.2,1523.6" stroke="#d41414" stroke-width="4.2" class="w"/>
<polyline points="138.7,1538.2 159.7,1538.2 159.7,1509.1 216.3,1509.1 216.3,1523.6" stroke="#000000" stroke-width="6.2" class="w"/>
<polyline points="138.7,1538.2 159.7,1538.2 159.7,1509.1 216.3,1509.1 216.3,1523.6" stroke="#474747" stroke-width="2.6" class="w"/>
<polyline points="138.7,1552.3 174.1,1552.3 174.1,1494.7 230.5,1494.7 230.5,1523.6" stroke="#9a0808" stroke-width="6.2" class="w"/>
<polyline points="138.7,1552.3 174.1,1552.3 174.1,1494.7 230.5,1494.7 230.5,1523.6" stroke="#d41414" stroke-width="4.2" class="w"/>
<polyline points="138.7,1637.2 159.7,1637.2 159.7,1707.9 372.3,1707.9" stroke="#8b3d8b" stroke-width="6.2" class="w"/>
<polyline points="138.7,1637.2 159.7,1637.2 159.7,1707.9 372.3,1707.9" stroke="#ab58a9" stroke-width="4.2" class="w"/>
<polyline points="88.7,1693.6 88.7,1722.4 372.3,1722.7" stroke="#9a0808" stroke-width="6.2" class="w"/>
<polyline points="88.7,1693.6 88.7,1722.4 372.3,1722.7" stroke="#d41414" stroke-width="4.2" class="w"/>
<polyline points="74.7,1693.6 74.7,1736.4 358,1736.4 358,1693.1 372.3,1693.1" stroke="#000000" stroke-width="6.2" class="w"/>
<polyline points="74.7,1693.6 74.7,1736.4 358,1736.4 358,1693.1 372.3,1693.1" stroke="#474747" stroke-width="2.6" class="w"/>
<polyline points="244.9,1453.5 244.8,1523.6" stroke="#8b3d8b" stroke-width="6.2" class="w"/>
<polyline points="244.9,1453.5 244.8,1523.6" stroke="#ab58a9" stroke-width="4.2" class="w"/>
<polyline points="259.2,1453.5 259,1538 244.7,1538" stroke="#8b3d8b" stroke-width="6.2" class="w"/>
<polyline points="259.2,1453.5 259,1538 244.7,1538" stroke="#ab58a9" stroke-width="4.2" class="w"/>
<line x1="372.5" y1="1693.1" x2="568.7" y2="1566.6" stroke="#000" stroke-width="1.2" stroke-dasharray="3.2 2.4"/>
<line x1="373.1" y1="1722.5" x2="570.3" y2="1580.3" stroke="#1f74e0" stroke-width="1.2" stroke-dasharray="3.2 2.4"/>
<polyline points="726.1,1226.4 737.1,1226.4" stroke="#2464c4" stroke-width="5.4" class="w"/>
<polyline points="726.1,1226.4 737.1,1226.4" stroke="#418dd9" stroke-width="3" class="w"/>
<circle cx="726.1" cy="1226.4" r="4.3" fill="none" stroke="#f2c212" stroke-width="1.1"/>
<circle cx="737.1" cy="1226.4" r="4.3" fill="none" stroke="#f2c212" stroke-width="1.1"/>
<polyline points="903.9,1226.4 916.7,1226.4" stroke="#2464c4" stroke-width="5.4" class="w"/>
<polyline points="903.9,1226.4 916.7,1226.4" stroke="#418dd9" stroke-width="3" class="w"/>
<circle cx="903.9" cy="1226.4" r="4.3" fill="none" stroke="#f2c212" stroke-width="1.1"/>
<circle cx="916.7" cy="1226.4" r="4.3" fill="none" stroke="#f2c212" stroke-width="1.1"/>
<polyline points="1082.3,1226.4 1094.6,1226.4" stroke="#2464c4" stroke-width="5.4" class="w"/>
<polyline points="1082.3,1226.4 1094.6,1226.4" stroke="#418dd9" stroke-width="3" class="w"/>
<circle cx="1082.3" cy="1226.4" r="4.3" fill="none" stroke="#f2c212" stroke-width="1.1"/>
<circle cx="1094.6" cy="1226.4" r="4.3" fill="none" stroke="#f2c212" stroke-width="1.1"/>
<circle cx="560.1" cy="1226.4" r="4.3" fill="none" stroke="#f2c212" stroke-width="1.1"/>
<circle cx="1260.9" cy="1226.4" r="3" fill="#d4ecc8" stroke="#9cd070" stroke-width="1.2"/>
<circle cx="1260.9" cy="1226.4" r="4.3" fill="none" stroke="#f2c212" stroke-width="1.1"/>
<polyline points="726.1,1240.4 737.1,1240.4" stroke="#7a3000" stroke-width="5.4" class="w"/>
<polyline points="726.1,1240.4 737.1,1240.4" stroke="#8c3b00" stroke-width="3" class="w"/>
<circle cx="726.1" cy="1240.4" r="4.3" fill="none" stroke="#f2c212" stroke-width="1.1"/>
<circle cx="737.1" cy="1240.4" r="4.3" fill="none" stroke="#f2c212" stroke-width="1.1"/>
<polyline points="903.9,1240.4 916.7,1240.4" stroke="#7a3000" stroke-width="5.4" class="w"/>
<polyline points="903.9,1240.4 916.7,1240.4" stroke="#8c3b00" stroke-width="3" class="w"/>
<circle cx="903.9" cy="1240.4" r="4.3" fill="none" stroke="#f2c212" stroke-width="1.1"/>
<circle cx="916.7" cy="1240.4" r="4.3" fill="none" stroke="#f2c212" stroke-width="1.1"/>
<polyline points="1082.3,1240.4 1094.6,1240.4" stroke="#7a3000" stroke-width="5.4" class="w"/>
<polyline points="1082.3,1240.4 1094.6,1240.4" stroke="#8c3b00" stroke-width="3" class="w"/>
<circle cx="1082.3" cy="1240.4" r="4.3" fill="none" stroke="#f2c212" stroke-width="1.1"/>
<circle cx="1094.6" cy="1240.4" r="4.3" fill="none" stroke="#f2c212" stroke-width="1.1"/>
<circle cx="560.1" cy="1240.4" r="4.3" fill="none" stroke="#f2c212" stroke-width="1.1"/>
<circle cx="1260.9" cy="1240.4" r="3" fill="#d4ecc8" stroke="#9cd070" stroke-width="1.2"/>
<circle cx="1260.9" cy="1240.4" r="4.3" fill="none" stroke="#f2c212" stroke-width="1.1"/>
<polyline points="726.1,1254.5 737.1,1254.5" stroke="#12b135" stroke-width="5.4" class="w"/>
<polyline points="726.1,1254.5 737.1,1254.5" stroke="#2fd040" stroke-width="3" class="w"/>
<circle cx="726.1" cy="1254.5" r="4.3" fill="none" stroke="#f2c212" stroke-width="1.1"/>
<circle cx="737.1" cy="1254.5" r="4.3" fill="none" stroke="#f2c212" stroke-width="1.1"/>
<polyline points="903.9,1254.5 916.7,1254.5" stroke="#12b135" stroke-width="5.4" class="w"/>
<polyline points="903.9,1254.5 916.7,1254.5" stroke="#2fd040" stroke-width="3" class="w"/>
<circle cx="903.9" cy="1254.5" r="4.3" fill="none" stroke="#f2c212" stroke-width="1.1"/>
<circle cx="916.7" cy="1254.5" r="4.3" fill="none" stroke="#f2c212" stroke-width="1.1"/>
<polyline points="1082.3,1254.5 1094.6,1254.5" stroke="#12b135" stroke-width="5.4" class="w"/>
<polyline points="1082.3,1254.5 1094.6,1254.5" stroke="#2fd040" stroke-width="3" class="w"/>
<circle cx="1082.3" cy="1254.5" r="4.3" fill="none" stroke="#f2c212" stroke-width="1.1"/>
<circle cx="1094.6" cy="1254.5" r="4.3" fill="none" stroke="#f2c212" stroke-width="1.1"/>
<circle cx="560.1" cy="1254.5" r="4.3" fill="none" stroke="#f2c212" stroke-width="1.1"/>
<circle cx="1260.9" cy="1254.5" r="3" fill="#f4b4a8" stroke="#e8a060" stroke-width="1.2"/>
<circle cx="1260.9" cy="1254.5" r="4.3" fill="none" stroke="#f2c212" stroke-width="1.1"/>
<polyline points="726.1,1268.6 737.1,1268.6" stroke="#000000" stroke-width="5.4" class="w"/>
<polyline points="726.1,1268.6 737.1,1268.6" stroke="#474747" stroke-width="2.6" class="w"/>
<circle cx="726.1" cy="1268.6" r="4.3" fill="none" stroke="#f2c212" stroke-width="1.1"/>
<circle cx="737.1" cy="1268.6" r="4.3" fill="none" stroke="#f2c212" stroke-width="1.1"/>
<polyline points="903.9,1268.6 916.7,1268.6" stroke="#000000" stroke-width="5.4" class="w"/>
<polyline points="903.9,1268.6 916.7,1268.6" stroke="#474747" stroke-width="2.6" class="w"/>
<circle cx="903.9" cy="1268.6" r="4.3" fill="none" stroke="#f2c212" stroke-width="1.1"/>
<circle cx="916.7" cy="1268.6" r="4.3" fill="none" stroke="#f2c212" stroke-width="1.1"/>
<polyline points="1082.3,1268.6 1094.6,1268.6" stroke="#000000" stroke-width="5.4" class="w"/>
<polyline points="1082.3,1268.6 1094.6,1268.6" stroke="#474747" stroke-width="2.6" class="w"/>
<circle cx="1082.3" cy="1268.6" r="4.3" fill="none" stroke="#f2c212" stroke-width="1.1"/>
<circle cx="1094.6" cy="1268.6" r="4.3" fill="none" stroke="#f2c212" stroke-width="1.1"/>
<circle cx="560.1" cy="1268.6" r="4.3" fill="none" stroke="#f2c212" stroke-width="1.1"/>
<circle cx="1260.9" cy="1268.6" r="3" fill="#d4ecc8" stroke="#9cd070" stroke-width="1.2"/>
<circle cx="1260.9" cy="1268.6" r="4.3" fill="none" stroke="#f2c212" stroke-width="1.1"/>
<polyline points="726.1,1282.7 737.1,1282.7" stroke="#9a0808" stroke-width="5.4" class="w"/>
<polyline points="726.1,1282.7 737.1,1282.7" stroke="#d41414" stroke-width="3" class="w"/>
<circle cx="726.1" cy="1282.7" r="4.3" fill="none" stroke="#f2c212" stroke-width="1.1"/>
<circle cx="737.1" cy="1282.7" r="4.3" fill="none" stroke="#f2c212" stroke-width="1.1"/>
<polyline points="903.9,1282.7 916.7,1282.7" stroke="#9a0808" stroke-width="5.4" class="w"/>
<polyline points="903.9,1282.7 916.7,1282.7" stroke="#d41414" stroke-width="3" class="w"/>
<circle cx="903.9" cy="1282.7" r="4.3" fill="none" stroke="#f2c212" stroke-width="1.1"/>
<circle cx="916.7" cy="1282.7" r="4.3" fill="none" stroke="#f2c212" stroke-width="1.1"/>
<polyline points="1082.3,1282.7 1094.6,1282.7" stroke="#9a0808" stroke-width="5.4" class="w"/>
<polyline points="1082.3,1282.7 1094.6,1282.7" stroke="#d41414" stroke-width="3" class="w"/>
<circle cx="1082.3" cy="1282.7" r="4.3" fill="none" stroke="#f2c212" stroke-width="1.1"/>
<circle cx="1094.6" cy="1282.7" r="4.3" fill="none" stroke="#f2c212" stroke-width="1.1"/>
<circle cx="560.1" cy="1282.7" r="4.3" fill="none" stroke="#f2c212" stroke-width="1.1"/>
<circle cx="1260.9" cy="1282.7" r="3" fill="#d4ecc8" stroke="#9cd070" stroke-width="1.2"/>
<circle cx="1260.9" cy="1282.7" r="4.3" fill="none" stroke="#f2c212" stroke-width="1.1"/>
<g fill="#1e7a1e" fill-opacity="0.35" stroke="#46cc32" stroke-width="1.1" stroke-opacity="0.85"><circle cx="414.6" cy="603.4" r="3.1"/><circle cx="414.6" cy="717.1" r="3.1"/><circle cx="428.7" cy="603.4" r="3.1"/><circle cx="428.7" cy="717.1" r="3.1"/><circle cx="442.9" cy="660.2" r="3.1"/><circle cx="442.9" cy="717.1" r="3.1"/><circle cx="457" cy="645.8" r="3.1"/><circle cx="457" cy="717.1" r="3.1"/><circle cx="414.6" cy="773.8" r="3.1"/><circle cx="315.3" cy="886.5" r="3.1"/><circle cx="442.9" cy="773.8" r="3.1"/><circle cx="315.3" cy="872.3" r="3.1"/><circle cx="428.7" cy="773.8" r="3.1"/><circle cx="315.3" cy="900.6" r="3.1"/><circle cx="457" cy="773.8" r="3.1"/><circle cx="329.4" cy="1070.6" r="3.1"/><circle cx="315.3" cy="999.8" r="3.1"/><circle cx="560.1" cy="1254.5" r="3.1"/><circle cx="499.5" cy="645.8" r="3.1"/><circle cx="560.1" cy="1268.6" r="3.1"/><circle cx="329.4" cy="886.5" r="3.1"/><circle cx="560.1" cy="1282.7" r="3.1"/><circle cx="315.3" cy="1028.1" r="3.1"/><circle cx="560.1" cy="1226.4" r="3.1"/><circle cx="329.4" cy="1028.1" r="3.1"/><circle cx="560.1" cy="1240.4" r="3.1"/><circle cx="853.4" cy="165.2" r="3.1"/><circle cx="854" cy="320.5" r="3.1"/><circle cx="980.6" cy="165.2" r="3.1"/><circle cx="981.4" cy="320.5" r="3.1"/><circle cx="1108" cy="165.2" r="3.1"/><circle cx="1108.7" cy="320.5" r="3.1"/><circle cx="967.4" cy="320.5" r="3.1"/><circle cx="967.4" cy="645.8" r="3.1"/><circle cx="1094.7" cy="320.5" r="3.1"/><circle cx="1094.7" cy="645.8" r="3.1"/><circle cx="840" cy="320.5" r="3.1"/><circle cx="726.1" cy="816" r="3.1"/><circle cx="967.4" cy="320.5" r="3.1"/><circle cx="726.1" cy="830.1" r="3.1"/><circle cx="1094.7" cy="320.5" r="3.1"/><circle cx="726.1" cy="844.3" r="3.1"/><circle cx="655.3" cy="645.8" r="3.1"/><circle cx="726.1" cy="858.4" r="3.1"/><circle cx="839.1" cy="165.2" r="3.1"/><circle cx="966.3" cy="165.2" r="3.1"/><circle cx="1093.7" cy="165.2" r="3.1"/><circle cx="768.6" cy="801.8" r="3.1"/><circle cx="769" cy="957.5" r="3.1"/><circle cx="853.6" cy="957.8" r="3.1"/><circle cx="726.1" cy="971.7" r="3.1"/><circle cx="853.6" cy="1028.5" r="3.1"/><circle cx="726.1" cy="943.3" r="3.1"/><circle cx="853.6" cy="1000.2" r="3.1"/><circle cx="769" cy="915" r="3.1"/><circle cx="853.6" cy="1014.4" r="3.1"/><circle cx="769" cy="943.3" r="3.1"/><circle cx="853.6" cy="1042.7" r="3.1"/><circle cx="726.1" cy="957.5" r="3.1"/><circle cx="853.6" cy="971.9" r="3.1"/><circle cx="726.1" cy="929.2" r="3.1"/><circle cx="853.6" cy="986.1" r="3.1"/><circle cx="726.1" cy="915" r="3.1"/><circle cx="853.6" cy="1056.8" r="3.1"/><circle cx="1830.4" cy="816" r="3.1"/><circle cx="1221.1" cy="844.4" r="3.1"/><circle cx="1221.1" cy="830.3" r="3.1"/><circle cx="1632" cy="1353.6" r="3.1"/><circle cx="1494.8" cy="717.9" r="3.1"/><circle cx="1221.1" cy="858.6" r="3.1"/><circle cx="1512" cy="717.9" r="3.1"/><circle cx="1221.1" cy="886.9" r="3.1"/><circle cx="1528.9" cy="717.9" r="3.1"/><circle cx="1221.1" cy="901" r="3.1"/><circle cx="1546.7" cy="717.9" r="3.1"/><circle cx="1221.1" cy="915.2" r="3.1"/><circle cx="1830.4" cy="801.3" r="3.1"/><circle cx="1264.1" cy="844.4" r="3.1"/><circle cx="1264.1" cy="830.3" r="3.1"/><circle cx="1830.4" cy="830.9" r="3.1"/><circle cx="1562.7" cy="717.9" r="3.1"/><circle cx="1264.1" cy="929.3" r="3.1"/><circle cx="1578.7" cy="717.9" r="3.1"/><circle cx="1264.1" cy="957.6" r="3.1"/><circle cx="1595.9" cy="717.9" r="3.1"/><circle cx="1264.1" cy="1028.4" r="3.1"/><circle cx="1614" cy="717.9" r="3.1"/><circle cx="1264.1" cy="1056.7" r="3.1"/><circle cx="1702.7" cy="1259.9" r="3.1"/><circle cx="1817.2" cy="1260.3" r="3.1"/><circle cx="1702.7" cy="1259.9" r="3.1"/><circle cx="1942.8" cy="1297.4" r="3.1"/><circle cx="1716.8" cy="1255.2" r="3.1"/><circle cx="1761" cy="1509.2" r="3.1"/><circle cx="1942.8" cy="1198.1" r="3.1"/><circle cx="1761" cy="1524" r="3.1"/><circle cx="1688.5" cy="1260.3" r="3.1"/><circle cx="1688.4" cy="1353.6" r="3.1"/><circle cx="138.7" cy="1524" r="3.1"/><circle cx="202.2" cy="1523.6" r="3.1"/><circle cx="138.7" cy="1538.2" r="3.1"/><circle cx="216.3" cy="1523.6" r="3.1"/><circle cx="138.7" cy="1552.3" r="3.1"/><circle cx="230.5" cy="1523.6" r="3.1"/><circle cx="138.7" cy="1637.2" r="3.1"/><circle cx="372.3" cy="1707.9" r="3.1"/><circle cx="88.7" cy="1693.6" r="3.1"/><circle cx="372.3" cy="1722.7" r="3.1"/><circle cx="74.7" cy="1693.6" r="3.1"/><circle cx="372.3" cy="1693.1" r="3.1"/><circle cx="244.9" cy="1453.5" r="3.1"/><circle cx="244.8" cy="1523.6" r="3.1"/><circle cx="259.2" cy="1453.5" r="3.1"/><circle cx="244.7" cy="1538" r="3.1"/><circle cx="726.1" cy="1226.4" r="3.1"/><circle cx="737.1" cy="1226.4" r="3.1"/><circle cx="903.9" cy="1226.4" r="3.1"/><circle cx="916.7" cy="1226.4" r="3.1"/><circle cx="1082.3" cy="1226.4" r="3.1"/><circle cx="1094.6" cy="1226.4" r="3.1"/><circle cx="726.1" cy="1240.4" r="3.1"/><circle cx="737.1" cy="1240.4" r="3.1"/><circle cx="903.9" cy="1240.4" r="3.1"/><circle cx="916.7" cy="1240.4" r="3.1"/><circle cx="1082.3" cy="1240.4" r="3.1"/><circle cx="1094.6" cy="1240.4" r="3.1"/><circle cx="726.1" cy="1254.5" r="3.1"/><circle cx="737.1" cy="1254.5" r="3.1"/><circle cx="903.9" cy="1254.5" r="3.1"/><circle cx="916.7" cy="1254.5" r="3.1"/><circle cx="1082.3" cy="1254.5" r="3.1"/><circle cx="1094.6" cy="1254.5" r="3.1"/><circle cx="726.1" cy="1268.6" r="3.1"/><circle cx="737.1" cy="1268.6" r="3.1"/><circle cx="903.9" cy="1268.6" r="3.1"/><circle cx="916.7" cy="1268.6" r="3.1"/><circle cx="1082.3" cy="1268.6" r="3.1"/><circle cx="1094.6" cy="1268.6" r="3.1"/><circle cx="726.1" cy="1282.7" r="3.1"/><circle cx="737.1" cy="1282.7" r="3.1"/><circle cx="903.9" cy="1282.7" r="3.1"/><circle cx="916.7" cy="1282.7" r="3.1"/><circle cx="1082.3" cy="1282.7" r="3.1"/><circle cx="1094.6" cy="1282.7" r="3.1"/></g>
<text x="827.7" y="16.7" font-size="15.8" fill="#000" textLength="43.8" lengthAdjust="spacingAndGlyphs" class="lb">LED 1</text>
<text x="953.5" y="19.7" font-size="15.8" fill="#000" textLength="44.7" lengthAdjust="spacingAndGlyphs" class="lb">LED 2</text>
<text x="1083.3" y="19" font-size="15.8" fill="#000" textLength="44.9" lengthAdjust="spacingAndGlyphs" class="lb">LED 3</text>
<text x="798.4" y="204.4" font-size="15.8" fill="#000" textLength="101.7" lengthAdjust="spacingAndGlyphs" class="lb">Pushbutton 1</text>
<text x="923.6" y="203.5" font-size="15.8" fill="#000" textLength="102.2" lengthAdjust="spacingAndGlyphs" class="lb">Pushbutton 2</text>
<text x="1051.2" y="203.5" font-size="15.8" fill="#000" textLength="102.5" lengthAdjust="spacingAndGlyphs" class="lb">Pushbutton 3</text>
<text x="1637.3" y="305.1" font-size="15.8" fill="#000" textLength="89.9" lengthAdjust="spacingAndGlyphs" class="lb">4x4 Keybad</text>
<text x="212.4" y="697" font-size="15.8" fill="#000" textLength="181.5" lengthAdjust="spacingAndGlyphs" class="lb">Logic Level Converter ?</text>
<text x="18" y="802.4" font-size="15.8" fill="#000" textLength="249.3" lengthAdjust="spacingAndGlyphs" class="lb">Master - Raspberry Pi 4 Model B</text>
<text x="780.6" y="733.1" font-size="15.8" fill="#000" textLength="134.3" lengthAdjust="spacingAndGlyphs" class="lb">GPIO extension 1</text>
<text x="1263" y="730.2" font-size="15.8" fill="#000" textLength="135.2" lengthAdjust="spacingAndGlyphs" class="lb">GPIO extension 2</text>
<text x="909.1" y="907.1" font-size="15.8" fill="#000" textLength="157.1" lengthAdjust="spacingAndGlyphs" class="lb">RFID-RC522-v2 NFC</text>
<text x="2125.5" y="762.7" font-size="15.8" fill="#000" textLength="175.8" lengthAdjust="spacingAndGlyphs" class="lb">Adressable LED Strip 1</text>
<text x="937.8" y="1160.3" font-size="15.8" fill="#000" textLength="332.1" lengthAdjust="spacingAndGlyphs" class="lb">8x32 4 in 1 Dot Matrix LED Display Module</text>
<text x="1654.5" y="1146.4" font-size="15.8" fill="#000" textLength="136.4" lengthAdjust="spacingAndGlyphs" class="lb">n-Channel Mosfet</text>
<text x="1841.5" y="1185.8" font-size="15.8" fill="#000" textLength="26.9" lengthAdjust="spacingAndGlyphs" class="lb">Coil</text>
<text x="2181.4" y="1149.9" font-size="15.8" fill="#000" textLength="127.1" lengthAdjust="spacingAndGlyphs" class="lb">Mini Waterpump</text>
<text x="2328.3" y="1338.4" font-size="15.8" fill="#000" textLength="103.3" lengthAdjust="spacingAndGlyphs" class="lb">Lithium-Ion 1</text>
<rect x="2330.2" y="1355" width="1.6" height="1.6" fill="#000"/>
<text x="1141.3" y="1395.6" font-size="15.8" fill="#000" textLength="103" lengthAdjust="spacingAndGlyphs" class="lb">Lithium-Ion 2</text>
<rect x="1142.6" y="1410.8" width="1.6" height="1.6" fill="#000"/>
<text x="287" y="1396.7" font-size="15.8" fill="#000" textLength="106.1" lengthAdjust="spacingAndGlyphs" class="lb">Toggle Switch</text>
<text x="0.5" y="1478.3" font-size="15.8" fill="#000" textLength="233.5" lengthAdjust="spacingAndGlyphs" class="lb">Adafruit Pro Trinket 5V 16MHz</text>
<rect x="2" y="1494.5" width="1.6" height="1.6" fill="#000"/>
<text x="280.2" y="1504.2" font-size="15.8" fill="#000" textLength="298.4" lengthAdjust="spacingAndGlyphs" class="lb">Adafruit LiIon/LiPoly Backpack Add-On</text>
<rect x="282.3" y="1520.3" width="1.6" height="1.6" fill="#000"/>
<text x="667" y="1654.7" font-size="15.8" fill="#000" textLength="171.5" lengthAdjust="spacingAndGlyphs" class="lb">Adressable LED Strip2</text>
<text x="2409.5" y="1776.1" font-size="23.5" fill="#8c8c8c" textLength="93" lengthAdjust="spacingAndGlyphs" class="dm" font-weight="bold">fritzing</text>
</g>
</svg>
</body></html>
